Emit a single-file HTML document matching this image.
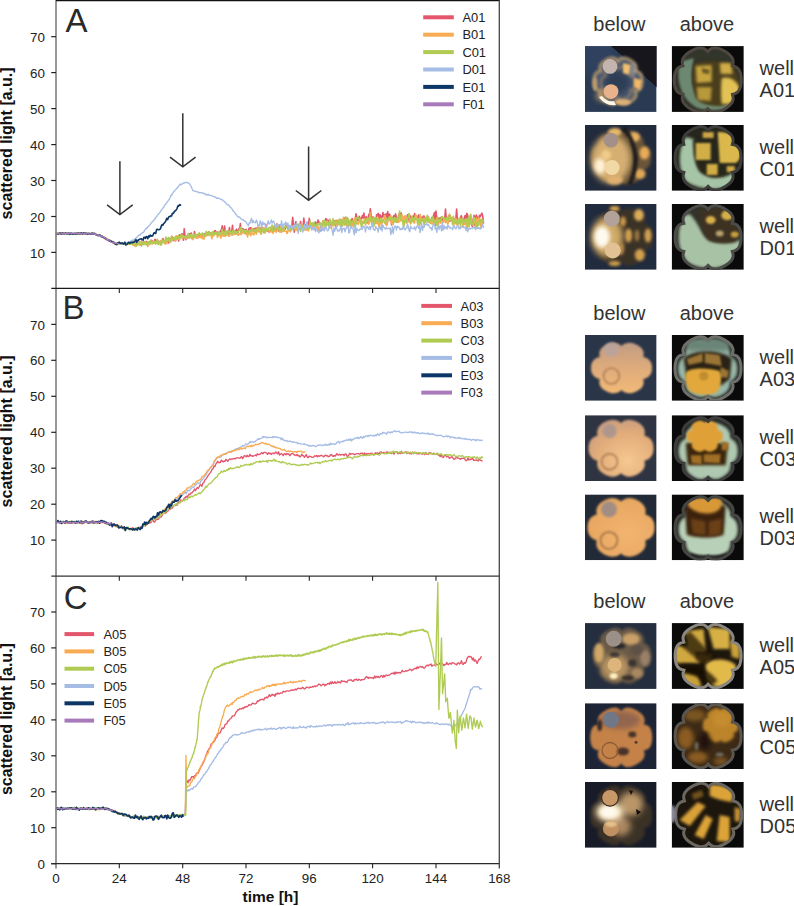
<!DOCTYPE html>
<html><head><meta charset="utf-8">
<style>
html,body{margin:0;padding:0;background:#fff;}
body{width:794px;height:906px;overflow:hidden;}
svg{display:block;}
text{font-family:"Liberation Sans",sans-serif;fill:#222;}
.tk{font-size:13.4px;}
.lg{font-size:12.9px;}
.pl{font-size:33px;fill:#2a2a2a;}
.yl{font-size:16px;font-weight:bold;fill:#111;}
.xl{font-size:15.5px;font-weight:bold;fill:#111;}
.hd{font-size:20px;fill:#333;}
</style></head><body>
<svg width="794" height="906" viewBox="0 0 794 906">
<rect width="794" height="906" fill="#fff"/>
<polyline fill="none" stroke="#e4566b" stroke-width="1.6" stroke-linejoin="round" points="56.0,233.6 56.8,233.4 57.6,233.6 58.4,233.7 59.2,233.8 60.0,233.6 60.7,233.2 61.5,233.4 62.3,233.3 63.1,233.5 63.9,233.4 64.7,233.5 65.5,234.0 66.3,233.3 67.1,233.4 67.9,233.4 68.7,234.0 69.5,234.1 70.2,233.8 71.0,233.7 71.8,233.5 72.6,233.6 73.4,233.4 74.2,233.7 75.0,233.5 75.8,233.4 76.6,233.8 77.4,233.1 78.2,233.4 79.0,233.2 79.7,233.7 80.5,233.8 81.3,233.7 82.1,233.6 82.9,233.4 83.7,233.5 84.5,233.7 85.3,233.8 86.1,233.7 86.9,233.2 87.7,233.8 88.5,233.5 89.2,233.4 90.0,234.0 90.8,233.5 91.6,233.2 92.4,234.1 93.2,233.7 94.0,233.9 94.8,234.3 95.6,234.2 96.4,234.6 97.2,235.2 98.0,234.8 98.7,235.1 99.5,235.2 100.3,235.3 101.1,235.9 101.9,236.4 102.7,237.3 103.5,237.2 104.3,237.9 105.1,238.3 105.9,239.0 106.7,239.3 107.5,239.6 108.2,239.6 109.0,240.9 109.8,241.2 110.6,241.1 111.4,241.1 112.2,241.7 113.0,242.8 113.8,243.4 114.6,243.0 115.4,243.7 116.2,243.8 117.0,243.2 117.7,243.2 118.5,243.5 119.3,243.5 120.1,243.5 120.9,243.2 121.7,243.5 122.5,243.6 123.3,243.6 124.1,244.2 124.9,243.4 125.7,243.5 126.5,243.6 127.2,244.3 128.0,243.9 128.8,243.4 129.6,244.2 130.4,243.7 131.2,243.3 132.0,243.9 132.8,241.6 133.6,242.8 134.4,243.7 135.2,243.1 136.0,242.6 136.7,244.1 137.5,243.8 138.3,244.3 139.1,241.9 139.9,244.8 140.7,243.2 141.5,241.1 142.3,244.2 143.1,243.8 143.9,241.9 144.7,242.2 145.5,242.4 146.2,241.5 147.0,242.1 147.8,242.6 148.6,242.1 149.4,241.7 150.2,241.4 151.0,240.3 151.8,240.3 152.6,242.6 153.4,241.9 154.2,242.1 155.0,239.3 155.7,240.2 156.5,242.2 157.3,240.0 158.1,241.3 158.9,241.9 159.7,242.5 160.5,241.1 161.3,243.0 162.1,240.7 162.9,238.5 163.7,239.9 164.5,243.1 165.2,241.7 166.0,240.4 166.8,240.2 167.6,238.8 168.4,242.9 169.2,238.4 170.0,240.0 170.8,238.3 171.6,238.3 172.4,236.8 173.2,240.7 173.9,238.1 174.7,239.9 175.5,240.7 176.3,238.7 177.1,237.5 177.9,236.2 178.7,241.0 179.5,234.8 180.3,237.7 181.1,234.8 181.9,233.9 182.7,234.5 183.4,240.2 184.2,228.7 185.0,236.5 185.8,239.7 186.6,236.7 187.4,235.5 188.2,236.9 189.0,235.7 189.8,233.7 190.6,233.4 191.4,233.1 192.2,238.5 192.9,237.2 193.7,237.4 194.5,231.5 195.3,235.2 196.1,235.0 196.9,237.7 197.7,234.6 198.5,237.0 199.3,235.1 200.1,235.9 200.9,235.2 201.7,236.7 202.4,234.6 203.2,236.6 204.0,233.6 204.8,235.0 205.6,236.0 206.4,231.7 207.2,235.0 208.0,234.1 208.8,231.8 209.6,233.3 210.4,233.1 211.2,233.7 211.9,232.9 212.7,232.7 213.5,234.1 214.3,231.2 215.1,230.5 215.9,231.6 216.7,233.7 217.5,232.6 218.3,234.0 219.1,233.7 219.9,232.0 220.7,230.7 221.4,229.7 222.2,225.8 223.0,234.3 223.8,231.9 224.6,226.1 225.4,232.7 226.2,231.6 227.0,231.9 227.8,233.7 228.6,234.9 229.4,227.6 230.2,232.9 230.9,231.9 231.7,231.9 232.5,225.4 233.3,233.6 234.1,231.5 234.9,232.0 235.7,230.9 236.5,229.2 237.3,231.0 238.1,232.7 238.9,228.6 239.7,228.6 240.4,223.6 241.2,232.6 242.0,231.8 242.8,228.6 243.6,229.1 244.4,230.2 245.2,232.8 246.0,229.3 246.8,231.2 247.6,232.3 248.4,231.3 249.2,228.0 249.9,229.4 250.7,227.5 251.5,228.8 252.3,230.9 253.1,229.1 253.9,229.3 254.7,228.7 255.5,228.0 256.3,230.8 257.1,227.7 257.9,228.5 258.7,231.5 259.4,227.9 260.2,228.1 261.0,228.9 261.8,229.6 262.6,227.2 263.4,231.5 264.2,232.4 265.0,232.3 265.8,224.3 266.6,229.9 267.4,229.9 268.2,231.7 268.9,231.7 269.7,231.6 270.5,229.5 271.3,227.8 272.1,231.4 272.9,228.3 273.7,230.2 274.5,225.6 275.3,226.2 276.1,230.8 276.9,223.9 277.6,228.5 278.4,230.9 279.2,225.1 280.0,224.6 280.8,228.4 281.6,229.5 282.4,230.1 283.2,227.9 284.0,227.6 284.8,229.5 285.6,227.8 286.4,224.1 287.1,226.8 287.9,227.5 288.7,228.6 289.5,230.5 290.3,229.7 291.1,226.7 291.9,225.3 292.7,217.3 293.5,224.6 294.3,232.2 295.1,225.5 295.9,221.6 296.6,225.0 297.4,224.5 298.2,225.5 299.0,229.0 299.8,225.9 300.6,221.5 301.4,228.8 302.2,226.1 303.0,227.3 303.8,218.0 304.6,225.4 305.4,226.9 306.1,224.3 306.9,226.9 307.7,222.6 308.5,225.6 309.3,218.4 310.1,224.7 310.9,223.7 311.7,226.0 312.5,224.3 313.3,223.0 314.1,223.7 314.9,228.0 315.6,222.1 316.4,225.9 317.2,224.6 318.0,220.0 318.8,222.6 319.6,222.4 320.4,224.7 321.2,230.7 322.0,225.1 322.8,221.1 323.6,223.1 324.4,222.4 325.1,222.8 325.9,218.5 326.7,219.6 327.5,220.2 328.3,223.6 329.1,220.1 329.9,225.4 330.7,221.8 331.5,223.5 332.3,222.2 333.1,220.8 333.9,220.7 334.6,222.3 335.4,220.7 336.2,228.3 337.0,220.4 337.8,221.7 338.6,222.2 339.4,222.1 340.2,221.5 341.0,219.7 341.8,226.3 342.6,220.7 343.4,220.8 344.1,217.8 344.9,223.0 345.7,217.8 346.5,220.5 347.3,218.0 348.1,220.8 348.9,223.1 349.7,224.0 350.5,223.1 351.3,222.1 352.1,218.6 352.9,220.6 353.6,224.0 354.4,224.8 355.2,220.4 356.0,213.8 356.8,217.4 357.6,219.9 358.4,220.5 359.2,216.3 360.0,217.8 360.8,219.6 361.6,218.5 362.4,215.5 363.1,218.0 363.9,213.1 364.7,219.6 365.5,217.9 366.3,216.7 367.1,220.6 367.9,223.0 368.7,214.2 369.5,217.4 370.3,208.9 371.1,214.9 371.9,222.6 372.6,217.1 373.4,220.2 374.2,219.1 375.0,219.8 375.8,220.7 376.6,214.8 377.4,214.6 378.2,213.4 379.0,221.9 379.8,214.8 380.6,215.8 381.4,217.7 382.1,217.6 382.9,212.5 383.7,216.4 384.5,214.7 385.3,218.5 386.1,213.8 386.9,219.2 387.7,211.6 388.5,218.8 389.3,214.1 390.1,215.0 390.8,218.2 391.6,225.0 392.4,217.3 393.2,218.3 394.0,215.5 394.8,216.4 395.6,213.9 396.4,217.8 397.2,222.0 398.0,219.7 398.8,214.8 399.6,213.6 400.3,217.4 401.1,212.8 401.9,219.1 402.7,217.3 403.5,217.8 404.3,220.3 405.1,217.8 405.9,220.5 406.7,222.4 407.5,214.7 408.3,214.9 409.1,221.5 409.8,215.3 410.6,218.4 411.4,216.9 412.2,219.7 413.0,216.1 413.8,217.9 414.6,213.6 415.4,216.0 416.2,216.6 417.0,217.8 417.8,217.3 418.6,215.0 419.3,219.1 420.1,216.5 420.9,220.7 421.7,217.3 422.5,219.0 423.3,216.3 424.1,216.0 424.9,221.7 425.7,218.0 426.5,219.3 427.3,220.1 428.1,216.7 428.8,221.8 429.6,220.8 430.4,219.8 431.2,220.4 432.0,217.4 432.8,219.9 433.6,215.4 434.4,212.6 435.2,225.5 436.0,211.1 436.8,220.4 437.6,217.5 438.3,221.1 439.1,218.4 439.9,218.3 440.7,217.7 441.5,219.4 442.3,220.3 443.1,218.8 443.9,217.7 444.7,219.4 445.5,209.0 446.3,219.3 447.1,219.8 447.8,218.8 448.6,215.9 449.4,221.1 450.2,218.6 451.0,220.9 451.8,218.2 452.6,220.6 453.4,219.6 454.2,219.4 455.0,218.5 455.8,219.7 456.6,209.0 457.3,218.0 458.1,220.9 458.9,220.9 459.7,222.8 460.5,217.6 461.3,215.7 462.1,218.8 462.9,219.0 463.7,224.1 464.5,217.0 465.3,215.5 466.1,220.3 466.8,213.3 467.6,214.7 468.4,222.8 469.2,218.2 470.0,220.1 470.8,220.2 471.6,224.6 472.4,226.5 473.2,219.4 474.0,215.3 474.8,225.8 475.6,216.7 476.3,215.0 477.1,217.9 477.9,217.4 478.7,220.2 479.5,215.2 480.3,216.6 481.1,214.6 481.9,213.1 482.7,215.9 483.5,223.6"/>
<polyline fill="none" stroke="#f8ab52" stroke-width="1.6" stroke-linejoin="round" points="56.0,233.1 56.8,234.1 57.6,233.8 58.4,232.8 59.2,233.0 60.0,233.8 60.7,233.8 61.5,233.5 62.3,233.8 63.1,233.2 63.9,233.6 64.7,233.9 65.5,233.2 66.3,233.7 67.1,233.5 67.9,233.6 68.7,233.7 69.5,233.5 70.2,233.8 71.0,234.1 71.8,234.2 72.6,233.9 73.4,233.8 74.2,233.6 75.0,233.5 75.8,233.4 76.6,233.5 77.4,233.8 78.2,233.8 79.0,234.2 79.7,233.6 80.5,233.4 81.3,233.4 82.1,233.6 82.9,233.6 83.7,233.3 84.5,233.6 85.3,233.3 86.1,233.4 86.9,233.5 87.7,233.2 88.5,233.7 89.2,233.7 90.0,233.8 90.8,233.8 91.6,233.1 92.4,233.1 93.2,233.6 94.0,233.7 94.8,233.8 95.6,234.1 96.4,234.2 97.2,235.2 98.0,235.2 98.7,235.1 99.5,235.1 100.3,235.7 101.1,236.3 101.9,236.6 102.7,237.1 103.5,237.6 104.3,237.3 105.1,238.4 105.9,238.6 106.7,238.4 107.5,239.2 108.2,239.8 109.0,240.5 109.8,240.6 110.6,240.7 111.4,241.3 112.2,241.5 113.0,242.3 113.8,242.5 114.6,243.1 115.4,243.3 116.2,243.1 117.0,243.9 117.7,243.6 118.5,243.5 119.3,243.8 120.1,243.7 120.9,243.4 121.7,243.1 122.5,243.5 123.3,243.7 124.1,244.2 124.9,243.3 125.7,243.8 126.5,243.9 127.2,244.2 128.0,243.9 128.8,244.3 129.6,244.0 130.4,243.9 131.2,244.0 132.0,244.0 132.8,245.1 133.6,242.4 134.4,244.9 135.2,246.4 136.0,244.3 136.7,245.0 137.5,245.3 138.3,244.4 139.1,243.5 139.9,245.3 140.7,244.0 141.5,241.9 142.3,242.8 143.1,243.8 143.9,243.4 144.7,243.7 145.5,243.5 146.2,242.5 147.0,243.5 147.8,246.5 148.6,243.3 149.4,244.4 150.2,242.3 151.0,243.9 151.8,241.5 152.6,244.0 153.4,241.4 154.2,243.1 155.0,241.9 155.7,243.9 156.5,243.0 157.3,241.8 158.1,242.0 158.9,243.0 159.7,241.3 160.5,243.0 161.3,240.3 162.1,241.7 162.9,242.1 163.7,242.4 164.5,240.7 165.2,244.0 166.0,239.3 166.8,243.6 167.6,240.9 168.4,240.2 169.2,239.9 170.0,242.4 170.8,240.5 171.6,239.5 172.4,239.7 173.2,238.6 173.9,239.7 174.7,238.3 175.5,241.0 176.3,235.7 177.1,239.3 177.9,239.1 178.7,238.4 179.5,239.8 180.3,237.7 181.1,235.2 181.9,238.0 182.7,237.9 183.4,237.7 184.2,237.8 185.0,237.4 185.8,238.6 186.6,236.9 187.4,238.5 188.2,236.9 189.0,234.9 189.8,237.6 190.6,237.6 191.4,236.6 192.2,239.2 192.9,239.6 193.7,234.8 194.5,235.7 195.3,236.5 196.1,238.2 196.9,236.5 197.7,238.4 198.5,235.9 199.3,237.2 200.1,237.4 200.9,234.8 201.7,238.1 202.4,238.6 203.2,234.8 204.0,239.2 204.8,234.9 205.6,236.5 206.4,233.1 207.2,234.8 208.0,234.4 208.8,234.6 209.6,234.0 210.4,235.3 211.2,235.9 211.9,238.7 212.7,231.7 213.5,235.9 214.3,234.4 215.1,234.3 215.9,233.0 216.7,234.0 217.5,237.2 218.3,235.5 219.1,234.3 219.9,234.6 220.7,238.2 221.4,234.3 222.2,236.1 223.0,232.0 223.8,236.2 224.6,235.2 225.4,236.3 226.2,234.5 227.0,234.5 227.8,234.4 228.6,236.3 229.4,236.2 230.2,233.0 230.9,232.6 231.7,234.1 232.5,235.1 233.3,232.1 234.1,234.4 234.9,233.6 235.7,234.1 236.5,233.3 237.3,233.6 238.1,235.3 238.9,235.0 239.7,233.3 240.4,233.7 241.2,234.6 242.0,231.1 242.8,232.9 243.6,233.0 244.4,232.5 245.2,233.2 246.0,234.2 246.8,232.7 247.6,237.0 248.4,231.7 249.2,234.1 249.9,231.7 250.7,235.7 251.5,233.4 252.3,232.6 253.1,234.4 253.9,234.8 254.7,232.6 255.5,229.4 256.3,234.2 257.1,228.7 257.9,231.7 258.7,226.4 259.4,231.9 260.2,230.0 261.0,234.0 261.8,230.1 262.6,227.7 263.4,232.9 264.2,228.2 265.0,233.0 265.8,227.1 266.6,231.2 267.4,230.8 268.2,229.8 268.9,230.4 269.7,232.5 270.5,230.2 271.3,231.7 272.1,229.8 272.9,233.4 273.7,229.5 274.5,231.4 275.3,230.2 276.1,232.3 276.9,230.1 277.6,228.4 278.4,227.6 279.2,228.9 280.0,232.3 280.8,226.0 281.6,232.2 282.4,228.9 283.2,231.0 284.0,227.7 284.8,231.3 285.6,231.5 286.4,231.2 287.1,233.6 287.9,231.5 288.7,229.1 289.5,229.4 290.3,231.8 291.1,230.3 291.9,226.7 292.7,228.0 293.5,226.2 294.3,227.5 295.1,230.0 295.9,230.0 296.6,228.2 297.4,230.4 298.2,231.3 299.0,228.9 299.8,225.0 300.6,224.3 301.4,226.8 302.2,225.0 303.0,227.0 303.8,230.1 304.6,229.6 305.4,229.8 306.1,229.4 306.9,230.1 307.7,229.2 308.5,230.9 309.3,226.0 310.1,223.0 310.9,225.9 311.7,229.7 312.5,223.5 313.3,226.7 314.1,224.6 314.9,229.5 315.6,225.0 316.4,226.9 317.2,226.5 318.0,230.9 318.8,226.9 319.6,230.7 320.4,229.0 321.2,226.8 322.0,225.2 322.8,222.5 323.6,225.3 324.4,224.6 325.1,225.7 325.9,221.6 326.7,224.9 327.5,225.0 328.3,224.5 329.1,222.7 329.9,228.2 330.7,225.6 331.5,227.5 332.3,220.9 333.1,225.6 333.9,224.2 334.6,225.5 335.4,222.0 336.2,220.2 337.0,226.5 337.8,221.9 338.6,221.5 339.4,220.6 340.2,225.8 341.0,225.9 341.8,219.7 342.6,225.3 343.4,217.4 344.1,221.1 344.9,225.3 345.7,220.5 346.5,225.2 347.3,224.7 348.1,226.1 348.9,220.5 349.7,221.3 350.5,225.0 351.3,227.0 352.1,225.4 352.9,220.5 353.6,226.9 354.4,223.5 355.2,217.7 356.0,220.6 356.8,223.8 357.6,222.0 358.4,224.1 359.2,222.0 360.0,218.8 360.8,221.7 361.6,220.3 362.4,223.3 363.1,221.8 363.9,221.7 364.7,218.5 365.5,224.9 366.3,222.3 367.1,221.2 367.9,220.2 368.7,224.2 369.5,222.7 370.3,212.7 371.1,219.0 371.9,224.7 372.6,224.9 373.4,223.0 374.2,218.6 375.0,219.2 375.8,223.5 376.6,220.6 377.4,223.8 378.2,218.1 379.0,227.2 379.8,220.4 380.6,219.2 381.4,225.9 382.1,222.6 382.9,219.8 383.7,221.1 384.5,215.6 385.3,215.8 386.1,224.7 386.9,225.7 387.7,222.0 388.5,219.9 389.3,220.3 390.1,219.7 390.8,215.7 391.6,223.8 392.4,219.5 393.2,224.6 394.0,219.1 394.8,220.0 395.6,221.5 396.4,222.5 397.2,218.6 398.0,219.1 398.8,222.2 399.6,220.3 400.3,220.7 401.1,220.9 401.9,214.5 402.7,219.2 403.5,216.8 404.3,224.8 405.1,215.5 405.9,217.0 406.7,222.9 407.5,219.9 408.3,221.6 409.1,221.7 409.8,221.4 410.6,223.9 411.4,220.9 412.2,217.9 413.0,219.3 413.8,222.7 414.6,223.0 415.4,215.3 416.2,215.3 417.0,218.6 417.8,222.8 418.6,220.3 419.3,226.1 420.1,214.4 420.9,218.9 421.7,219.4 422.5,221.0 423.3,219.4 424.1,217.9 424.9,219.5 425.7,219.6 426.5,218.1 427.3,222.0 428.1,221.4 428.8,221.2 429.6,222.5 430.4,223.2 431.2,222.7 432.0,224.0 432.8,223.5 433.6,220.5 434.4,219.8 435.2,220.9 436.0,221.7 436.8,217.8 437.6,221.4 438.3,226.2 439.1,220.0 439.9,219.6 440.7,223.1 441.5,221.1 442.3,221.1 443.1,222.3 443.9,221.1 444.7,219.4 445.5,222.8 446.3,221.0 447.1,222.0 447.8,224.3 448.6,221.0 449.4,214.1 450.2,220.3 451.0,219.6 451.8,220.0 452.6,217.8 453.4,216.3 454.2,224.2 455.0,222.8 455.8,218.4 456.6,224.5 457.3,224.6 458.1,221.3 458.9,222.7 459.7,220.7 460.5,219.4 461.3,218.7 462.1,218.6 462.9,227.2 463.7,219.8 464.5,224.4 465.3,221.2 466.1,224.1 466.8,228.7 467.6,218.7 468.4,219.7 469.2,226.6 470.0,215.7 470.8,223.5 471.6,223.6 472.4,223.8 473.2,224.2 474.0,220.6 474.8,220.9 475.6,228.2 476.3,217.8 477.1,225.8 477.9,222.5 478.7,218.0 479.5,218.8 480.3,223.9 481.1,228.2 481.9,219.5 482.7,223.0 483.5,223.3"/>
<polyline fill="none" stroke="#afcb52" stroke-width="1.7" stroke-linejoin="round" points="56.0,233.8 56.8,233.6 57.6,233.9 58.4,233.5 59.2,233.5 60.0,233.4 60.7,233.4 61.5,233.4 62.3,233.8 63.1,233.4 63.9,233.6 64.7,233.4 65.5,234.1 66.3,233.7 67.1,233.8 67.9,233.8 68.7,233.7 69.5,233.7 70.2,233.6 71.0,233.9 71.8,233.9 72.6,233.7 73.4,233.8 74.2,233.5 75.0,233.6 75.8,233.4 76.6,233.8 77.4,233.6 78.2,233.6 79.0,233.6 79.7,233.9 80.5,233.1 81.3,233.5 82.1,233.2 82.9,233.8 83.7,233.5 84.5,233.3 85.3,233.6 86.1,233.5 86.9,233.7 87.7,233.0 88.5,233.3 89.2,233.7 90.0,233.5 90.8,233.8 91.6,233.4 92.4,233.6 93.2,233.8 94.0,233.8 94.8,233.4 95.6,234.4 96.4,234.7 97.2,234.9 98.0,234.8 98.7,235.5 99.5,235.9 100.3,235.4 101.1,236.5 101.9,236.9 102.7,237.0 103.5,237.4 104.3,238.3 105.1,238.7 105.9,238.6 106.7,239.2 107.5,240.1 108.2,239.5 109.0,239.9 109.8,240.2 110.6,241.1 111.4,241.8 112.2,242.1 113.0,241.9 113.8,242.8 114.6,243.5 115.4,243.2 116.2,243.2 117.0,243.8 117.7,243.8 118.5,243.4 119.3,244.0 120.1,243.5 120.9,243.7 121.7,243.4 122.5,244.0 123.3,243.9 124.1,244.0 124.9,243.4 125.7,243.6 126.5,244.1 127.2,244.0 128.0,243.7 128.8,243.9 129.6,243.7 130.4,244.1 131.2,244.0 132.0,243.3 132.8,242.4 133.6,244.9 134.4,241.7 135.2,242.2 136.0,246.4 136.7,243.3 137.5,242.4 138.3,243.4 139.1,243.6 139.9,241.9 140.7,242.9 141.5,246.1 142.3,243.2 143.1,242.9 143.9,244.7 144.7,241.5 145.5,243.0 146.2,244.9 147.0,243.1 147.8,243.7 148.6,241.9 149.4,243.7 150.2,243.3 151.0,240.6 151.8,243.1 152.6,243.0 153.4,242.4 154.2,243.2 155.0,241.2 155.7,243.8 156.5,242.7 157.3,239.4 158.1,244.4 158.9,243.3 159.7,241.7 160.5,245.0 161.3,244.9 162.1,242.5 162.9,239.9 163.7,240.8 164.5,241.8 165.2,242.4 166.0,237.0 166.8,239.6 167.6,241.7 168.4,237.7 169.2,237.9 170.0,240.6 170.8,242.0 171.6,236.2 172.4,239.3 173.2,239.7 173.9,238.3 174.7,239.0 175.5,236.6 176.3,239.1 177.1,238.0 177.9,236.9 178.7,235.7 179.5,238.5 180.3,238.1 181.1,234.9 181.9,237.0 182.7,235.3 183.4,236.4 184.2,236.4 185.0,237.9 185.8,236.6 186.6,236.6 187.4,237.4 188.2,233.5 189.0,238.2 189.8,237.4 190.6,235.5 191.4,234.2 192.2,237.1 192.9,236.2 193.7,236.9 194.5,237.3 195.3,233.5 196.1,235.6 196.9,236.1 197.7,234.9 198.5,233.8 199.3,232.9 200.1,234.6 200.9,234.6 201.7,234.0 202.4,233.1 203.2,233.8 204.0,236.8 204.8,234.5 205.6,235.2 206.4,231.7 207.2,234.2 208.0,235.5 208.8,231.9 209.6,234.8 210.4,233.3 211.2,234.1 211.9,233.2 212.7,232.0 213.5,235.1 214.3,234.8 215.1,232.2 215.9,234.1 216.7,233.2 217.5,231.8 218.3,235.0 219.1,231.6 219.9,233.9 220.7,234.3 221.4,234.2 222.2,229.3 223.0,232.1 223.8,232.2 224.6,234.3 225.4,230.4 226.2,234.9 227.0,233.7 227.8,230.6 228.6,230.8 229.4,233.3 230.2,231.4 230.9,233.1 231.7,234.9 232.5,230.7 233.3,232.2 234.1,230.9 234.9,230.9 235.7,233.9 236.5,231.9 237.3,233.6 238.1,231.4 238.9,230.6 239.7,230.2 240.4,227.4 241.2,232.6 242.0,229.6 242.8,230.1 243.6,230.3 244.4,233.3 245.2,230.5 246.0,230.8 246.8,231.3 247.6,230.8 248.4,233.2 249.2,231.5 249.9,230.2 250.7,231.7 251.5,229.9 252.3,228.5 253.1,230.6 253.9,231.8 254.7,230.2 255.5,231.3 256.3,231.9 257.1,231.5 257.9,227.2 258.7,229.4 259.4,229.3 260.2,228.9 261.0,233.8 261.8,229.6 262.6,228.9 263.4,230.8 264.2,232.3 265.0,228.9 265.8,230.6 266.6,227.8 267.4,230.8 268.2,229.7 268.9,227.7 269.7,227.6 270.5,227.4 271.3,230.0 272.1,225.1 272.9,231.2 273.7,230.5 274.5,229.3 275.3,226.4 276.1,228.2 276.9,225.0 277.6,227.2 278.4,227.2 279.2,230.5 280.0,229.3 280.8,228.4 281.6,230.8 282.4,230.1 283.2,230.8 284.0,229.2 284.8,226.3 285.6,227.1 286.4,227.5 287.1,227.0 287.9,229.6 288.7,228.5 289.5,228.8 290.3,229.7 291.1,228.5 291.9,229.5 292.7,227.6 293.5,225.7 294.3,226.6 295.1,227.2 295.9,226.1 296.6,227.6 297.4,228.9 298.2,231.1 299.0,224.1 299.8,226.1 300.6,231.4 301.4,225.9 302.2,227.6 303.0,226.6 303.8,225.9 304.6,227.8 305.4,229.4 306.1,227.7 306.9,224.3 307.7,228.0 308.5,229.0 309.3,225.9 310.1,221.3 310.9,227.7 311.7,223.0 312.5,225.1 313.3,224.4 314.1,222.2 314.9,227.3 315.6,225.4 316.4,225.8 317.2,223.7 318.0,224.7 318.8,224.3 319.6,222.9 320.4,225.3 321.2,224.2 322.0,225.9 322.8,221.3 323.6,222.5 324.4,220.2 325.1,227.7 325.9,225.8 326.7,224.2 327.5,221.4 328.3,224.8 329.1,225.9 329.9,219.1 330.7,223.7 331.5,223.3 332.3,225.5 333.1,218.8 333.9,222.1 334.6,223.9 335.4,223.7 336.2,223.1 337.0,221.8 337.8,222.5 338.6,224.5 339.4,219.2 340.2,224.8 341.0,219.3 341.8,220.5 342.6,225.7 343.4,219.8 344.1,221.3 344.9,224.0 345.7,216.9 346.5,218.7 347.3,227.2 348.1,219.2 348.9,223.3 349.7,225.6 350.5,219.9 351.3,224.7 352.1,222.3 352.9,221.2 353.6,222.3 354.4,223.9 355.2,227.2 356.0,221.7 356.8,218.1 357.6,217.9 358.4,217.1 359.2,219.9 360.0,220.3 360.8,222.9 361.6,227.6 362.4,222.8 363.1,222.9 363.9,223.3 364.7,220.7 365.5,219.7 366.3,222.3 367.1,218.4 367.9,219.8 368.7,218.2 369.5,217.6 370.3,217.1 371.1,221.2 371.9,222.0 372.6,220.0 373.4,216.9 374.2,226.0 375.0,217.9 375.8,221.3 376.6,218.1 377.4,218.8 378.2,220.8 379.0,222.0 379.8,220.7 380.6,218.3 381.4,222.8 382.1,219.5 382.9,221.2 383.7,221.3 384.5,222.6 385.3,223.9 386.1,218.2 386.9,218.7 387.7,220.5 388.5,220.0 389.3,216.9 390.1,219.2 390.8,218.5 391.6,219.8 392.4,217.7 393.2,220.3 394.0,222.3 394.8,217.7 395.6,217.9 396.4,222.0 397.2,219.0 398.0,219.0 398.8,218.6 399.6,211.2 400.3,219.0 401.1,219.6 401.9,220.7 402.7,221.1 403.5,227.0 404.3,220.8 405.1,220.1 405.9,222.5 406.7,219.4 407.5,218.4 408.3,216.5 409.1,213.6 409.8,219.4 410.6,222.0 411.4,222.7 412.2,216.1 413.0,221.3 413.8,219.8 414.6,217.7 415.4,219.3 416.2,219.3 417.0,219.0 417.8,224.9 418.6,220.3 419.3,218.2 420.1,223.2 420.9,223.8 421.7,218.4 422.5,220.6 423.3,218.8 424.1,224.8 424.9,220.0 425.7,222.3 426.5,217.9 427.3,215.3 428.1,221.0 428.8,217.6 429.6,222.4 430.4,220.8 431.2,219.0 432.0,221.7 432.8,216.6 433.6,219.1 434.4,223.5 435.2,223.6 436.0,221.7 436.8,225.7 437.6,217.1 438.3,221.1 439.1,221.7 439.9,220.1 440.7,221.2 441.5,216.8 442.3,216.6 443.1,218.2 443.9,218.7 444.7,217.8 445.5,219.1 446.3,220.5 447.1,217.5 447.8,219.7 448.6,218.8 449.4,216.4 450.2,215.3 451.0,220.4 451.8,217.6 452.6,224.3 453.4,222.5 454.2,219.6 455.0,222.3 455.8,223.4 456.6,222.8 457.3,219.5 458.1,224.4 458.9,219.2 459.7,218.1 460.5,226.0 461.3,219.6 462.1,218.9 462.9,224.1 463.7,219.7 464.5,221.9 465.3,219.5 466.1,218.9 466.8,219.8 467.6,228.0 468.4,219.3 469.2,216.5 470.0,224.0 470.8,214.3 471.6,222.2 472.4,224.8 473.2,224.6 474.0,217.4 474.8,219.7 475.6,223.0 476.3,222.7 477.1,227.3 477.9,224.2 478.7,225.2 479.5,220.9 480.3,222.2 481.1,219.1 481.9,221.0 482.7,221.9 483.5,220.0"/>
<polyline fill="none" stroke="#a5bce4" stroke-width="1.35" stroke-linejoin="round" points="56.0,233.1 56.8,233.7 57.6,233.5 58.4,233.7 59.2,233.9 60.0,233.9 60.7,233.7 61.5,234.0 62.3,233.6 63.1,233.7 63.9,233.5 64.7,233.2 65.5,232.9 66.3,233.7 67.1,233.6 67.9,233.4 68.7,233.8 69.5,233.2 70.2,233.3 71.0,233.6 71.8,233.1 72.6,233.8 73.4,233.6 74.2,233.7 75.0,233.6 75.8,234.0 76.6,233.6 77.4,233.2 78.2,233.4 79.0,233.2 79.7,233.4 80.5,233.3 81.3,233.9 82.1,233.7 82.9,234.2 83.7,232.7 84.5,232.8 85.3,233.6 86.1,233.7 86.9,233.4 87.7,233.9 88.5,233.1 89.2,232.8 90.0,234.1 90.8,233.8 91.6,233.2 92.4,233.1 93.2,233.4 94.0,233.8 94.8,234.2 95.6,234.3 96.4,234.8 97.2,234.9 98.0,235.2 98.7,234.7 99.5,236.2 100.3,235.4 101.1,236.6 101.9,237.0 102.7,237.6 103.5,237.6 104.3,237.6 105.1,238.4 105.9,238.6 106.7,239.4 107.5,239.4 108.2,240.5 109.0,240.3 109.8,240.9 110.6,241.5 111.4,241.1 112.2,241.4 113.0,242.5 113.8,242.2 114.6,242.9 115.4,243.1 116.2,243.2 117.0,243.5 117.7,243.7 118.5,243.1 119.3,243.8 120.1,243.6 120.9,243.4 121.7,244.3 122.5,243.5 123.3,243.9 124.1,243.9 124.9,243.2 125.7,243.1 126.5,242.9 127.2,242.9 128.0,242.8 128.8,242.4 129.6,242.2 130.4,242.0 131.2,240.7 132.0,240.1 132.8,240.8 133.6,239.9 134.4,238.9 135.2,239.6 136.0,237.8 136.7,237.4 137.5,236.6 138.3,235.8 139.1,235.0 139.9,235.3 140.7,234.0 141.5,233.5 142.3,232.7 143.1,232.6 143.9,231.6 144.7,230.2 145.5,229.2 146.2,228.2 147.0,228.5 147.8,226.7 148.6,226.4 149.4,225.4 150.2,224.5 151.0,223.2 151.8,222.2 152.6,221.9 153.4,220.5 154.2,219.7 155.0,218.9 155.7,217.3 156.5,216.9 157.3,215.7 158.1,214.5 158.9,213.4 159.7,212.7 160.5,211.6 161.3,210.0 162.1,209.2 162.9,208.1 163.7,207.1 164.5,205.7 165.2,204.5 166.0,203.9 166.8,202.5 167.6,201.8 168.4,200.3 169.2,199.4 170.0,198.0 170.8,195.4 171.6,195.6 172.4,193.6 173.2,192.6 173.9,191.4 174.7,191.0 175.5,189.3 176.3,189.1 177.1,188.0 177.9,187.2 178.7,186.3 179.5,184.7 180.3,184.1 181.1,184.9 181.9,184.0 182.7,183.7 183.4,182.9 184.2,183.1 185.0,182.6 185.8,182.2 186.6,182.7 187.4,182.4 188.2,183.1 189.0,183.2 189.8,184.6 190.6,185.6 191.4,187.0 192.2,189.0 192.9,190.6 193.7,190.9 194.5,191.2 195.3,191.1 196.1,191.6 196.9,191.8 197.7,191.7 198.5,192.4 199.3,192.8 200.1,192.4 200.9,192.8 201.7,192.7 202.4,192.9 203.2,193.3 204.0,193.8 204.8,193.3 205.6,194.9 206.4,194.6 207.2,195.0 208.0,194.1 208.8,195.2 209.6,195.4 210.4,195.3 211.2,195.3 211.9,195.7 212.7,196.3 213.5,196.4 214.3,197.1 215.1,196.9 215.9,197.4 216.7,198.4 217.5,197.9 218.3,198.4 219.1,198.4 219.9,198.8 220.7,199.3 221.4,199.7 222.2,199.4 223.0,200.6 223.8,201.0 224.6,201.9 225.4,202.4 226.2,203.2 227.0,204.6 227.8,204.8 228.6,205.1 229.4,205.9 230.2,207.2 230.9,207.5 231.7,208.7 232.5,209.7 233.3,211.1 234.1,211.7 234.9,212.6 235.7,214.4 236.5,214.8 237.3,216.1 238.1,217.1 238.9,216.9 239.7,217.2 240.4,218.1 241.2,219.2 242.0,219.6 242.8,219.4 243.6,220.3 244.4,220.7 245.2,221.4 246.0,221.8 246.8,223.8 247.6,224.3 248.4,225.9 249.2,223.0 249.9,223.2 250.7,220.8 251.5,218.3 252.3,222.8 253.1,220.5 253.9,222.3 254.7,222.4 255.5,222.8 256.3,220.2 257.1,221.5 257.9,226.0 258.7,225.1 259.4,225.5 260.2,220.7 261.0,223.5 261.8,227.6 262.6,221.6 263.4,224.3 264.2,223.0 265.0,224.5 265.8,226.2 266.6,227.3 267.4,223.8 268.2,220.7 268.9,223.9 269.7,223.9 270.5,222.3 271.3,219.9 272.1,223.0 272.9,221.5 273.7,221.0 274.5,224.1 275.3,227.9 276.1,224.8 276.9,226.7 277.6,224.5 278.4,225.1 279.2,225.8 280.0,224.6 280.8,225.7 281.6,220.7 282.4,227.8 283.2,225.3 284.0,223.7 284.8,224.4 285.6,222.0 286.4,224.1 287.1,225.7 287.9,222.9 288.7,229.2 289.5,225.2 290.3,227.6 291.1,225.2 291.9,227.1 292.7,229.1 293.5,225.6 294.3,225.0 295.1,228.0 295.9,225.0 296.6,222.9 297.4,225.9 298.2,233.4 299.0,225.1 299.8,224.4 300.6,227.7 301.4,228.3 302.2,228.5 303.0,232.0 303.8,227.4 304.6,224.0 305.4,229.5 306.1,228.1 306.9,221.6 307.7,227.4 308.5,226.5 309.3,226.7 310.1,227.1 310.9,225.7 311.7,229.8 312.5,228.8 313.3,227.2 314.1,230.0 314.9,226.5 315.6,231.6 316.4,229.4 317.2,228.6 318.0,231.7 318.8,232.9 319.6,230.9 320.4,231.6 321.2,225.0 322.0,229.9 322.8,230.3 323.6,227.3 324.4,231.0 325.1,227.9 325.9,226.4 326.7,229.2 327.5,230.9 328.3,230.7 329.1,226.2 329.9,226.5 330.7,226.1 331.5,228.3 332.3,231.1 333.1,235.2 333.9,227.7 334.6,231.3 335.4,228.9 336.2,226.2 337.0,229.7 337.8,231.3 338.6,230.0 339.4,230.9 340.2,228.7 341.0,226.2 341.8,232.6 342.6,228.6 343.4,228.9 344.1,228.0 344.9,231.7 345.7,229.5 346.5,227.2 347.3,225.6 348.1,227.0 348.9,233.1 349.7,232.1 350.5,226.3 351.3,228.1 352.1,227.7 352.9,228.2 353.6,231.5 354.4,234.8 355.2,224.5 356.0,232.7 356.8,228.4 357.6,229.8 358.4,230.7 359.2,230.2 360.0,228.8 360.8,229.4 361.6,229.1 362.4,229.0 363.1,226.8 363.9,226.1 364.7,227.0 365.5,232.0 366.3,226.8 367.1,226.3 367.9,227.9 368.7,229.1 369.5,226.4 370.3,229.8 371.1,226.7 371.9,226.4 372.6,223.0 373.4,229.4 374.2,230.0 375.0,230.2 375.8,226.5 376.6,228.3 377.4,228.7 378.2,232.2 379.0,227.2 379.8,226.4 380.6,229.6 381.4,226.7 382.1,231.0 382.9,224.9 383.7,227.2 384.5,227.9 385.3,229.1 386.1,227.6 386.9,228.9 387.7,228.6 388.5,228.2 389.3,228.7 390.1,227.9 390.8,234.5 391.6,231.8 392.4,226.7 393.2,233.5 394.0,228.1 394.8,226.2 395.6,226.1 396.4,230.0 397.2,226.1 398.0,227.2 398.8,226.8 399.6,229.1 400.3,229.8 401.1,228.3 401.9,229.5 402.7,228.8 403.5,225.3 404.3,229.1 405.1,229.9 405.9,228.2 406.7,228.3 407.5,223.9 408.3,226.7 409.1,230.4 409.8,231.8 410.6,226.1 411.4,228.1 412.2,228.2 413.0,228.7 413.8,228.4 414.6,226.8 415.4,230.0 416.2,228.0 417.0,226.1 417.8,226.3 418.6,228.3 419.3,226.4 420.1,232.7 420.9,227.7 421.7,222.8 422.5,230.4 423.3,226.3 424.1,227.2 424.9,224.6 425.7,224.7 426.5,223.5 427.3,225.2 428.1,224.3 428.8,225.3 429.6,227.0 430.4,228.3 431.2,227.6 432.0,230.3 432.8,226.0 433.6,223.8 434.4,223.9 435.2,229.1 436.0,227.6 436.8,232.3 437.6,227.2 438.3,225.4 439.1,229.5 439.9,226.2 440.7,226.0 441.5,230.9 442.3,222.5 443.1,230.2 443.9,225.4 444.7,228.9 445.5,226.9 446.3,227.0 447.1,229.2 447.8,225.2 448.6,225.9 449.4,228.0 450.2,227.3 451.0,228.2 451.8,228.4 452.6,229.7 453.4,225.3 454.2,225.7 455.0,228.2 455.8,228.8 456.6,227.4 457.3,225.7 458.1,225.9 458.9,228.9 459.7,227.3 460.5,228.6 461.3,226.6 462.1,226.5 462.9,226.5 463.7,227.4 464.5,227.9 465.3,227.0 466.1,230.4 466.8,227.7 467.6,231.8 468.4,229.5 469.2,228.0 470.0,229.2 470.8,228.5 471.6,228.0 472.4,228.6 473.2,227.2 474.0,227.9 474.8,227.1 475.6,229.7 476.3,227.6 477.1,228.0 477.9,228.7 478.7,227.4 479.5,228.5 480.3,229.1 481.1,227.5 481.9,226.5 482.7,224.2 483.5,228.1"/>
<polyline fill="none" stroke="#0c3766" stroke-width="1.6" stroke-linejoin="round" points="56.0,233.4 56.8,234.3 57.6,233.6 58.4,234.1 59.2,233.4 60.0,233.1 60.7,233.2 61.5,234.1 62.3,233.1 63.1,233.2 63.9,233.7 64.7,233.4 65.5,233.0 66.3,233.7 67.1,233.6 67.9,233.8 68.7,233.2 69.5,234.3 70.2,233.1 71.0,233.9 71.8,233.2 72.6,234.1 73.4,233.9 74.2,233.8 75.0,233.3 75.8,234.1 76.6,233.4 77.4,233.8 78.2,233.1 79.0,233.7 79.7,233.4 80.5,233.6 81.3,232.9 82.1,233.7 82.9,233.6 83.7,232.9 84.5,233.5 85.3,233.3 86.1,233.8 86.9,233.5 87.7,234.3 88.5,233.5 89.2,233.8 90.0,234.1 90.8,234.1 91.6,233.2 92.4,233.4 93.2,234.2 94.0,233.2 94.8,234.3 95.6,234.5 96.4,234.5 97.2,235.2 98.0,235.6 98.7,235.5 99.5,235.1 100.3,235.4 101.1,236.6 101.9,236.1 102.7,236.9 103.5,237.2 104.3,237.8 105.1,238.1 105.9,239.0 106.7,239.4 107.5,239.7 108.2,240.1 109.0,240.1 109.8,241.2 110.6,240.6 111.4,241.7 112.2,242.1 113.0,242.0 113.8,242.5 114.6,243.3 115.4,244.3 116.2,244.2 117.0,244.7 117.7,242.7 118.5,242.7 119.3,242.2 120.1,243.3 120.9,243.4 121.7,243.1 122.5,243.0 123.3,244.0 124.1,243.5 124.9,242.1 125.7,245.0 126.5,244.6 127.2,244.2 128.0,242.8 128.8,242.3 129.6,243.4 130.4,242.4 131.2,242.8 132.0,242.3 132.8,242.7 133.6,242.1 134.4,241.9 135.2,240.8 136.0,239.7 136.7,242.5 137.5,240.4 138.3,240.5 139.1,239.5 139.9,239.1 140.7,239.0 141.5,238.7 142.3,239.8 143.1,240.1 143.9,237.2 144.7,237.2 145.5,238.5 146.2,236.5 147.0,236.7 147.8,238.7 148.6,235.9 149.4,237.0 150.2,235.0 151.0,236.1 151.8,235.9 152.6,235.9 153.4,234.2 154.2,232.6 155.0,233.3 155.7,233.5 156.5,229.8 157.3,229.3 158.1,229.6 158.9,229.8 159.7,229.4 160.5,228.7 161.3,226.1 162.1,224.5 162.9,225.3 163.7,223.5 164.5,222.8 165.2,221.9 166.0,220.4 166.8,218.4 167.6,219.6 168.4,217.6 169.2,216.6 170.0,216.8 170.8,215.8 171.6,215.9 172.4,213.2 173.2,213.4 173.9,212.5 174.7,211.0 175.5,210.7 176.3,209.8 177.1,208.3 177.9,205.9 178.7,206.2 179.5,204.7 180.3,205.2 181.1,204.6"/>
<polyline fill="none" stroke="#a87abb" stroke-width="1.3" stroke-linejoin="round" points="56.0,232.9 56.8,233.7 57.6,234.1 58.4,233.6 59.2,233.4 60.0,234.2 60.7,233.9 61.5,233.5 62.3,233.9 63.1,233.3 63.9,233.2 64.7,233.4 65.5,233.7 66.3,233.6 67.1,233.8 67.9,233.6 68.7,233.5 69.5,233.7 70.2,233.2 71.0,232.7 71.8,233.8 72.6,233.4 73.4,233.3 74.2,233.3 75.0,233.6 75.8,233.7 76.6,233.2 77.4,233.3 78.2,233.4 79.0,233.8 79.7,233.3 80.5,233.3 81.3,233.6 82.1,233.3 82.9,232.8 83.7,234.2 84.5,233.4 85.3,234.0 86.1,234.0 86.9,233.6 87.7,233.4 88.5,233.5 89.2,234.0 90.0,234.1 90.8,233.8 91.6,233.6 92.4,233.8 93.2,234.2 94.0,233.3 94.8,234.4 95.6,234.4 96.4,234.8 97.2,235.0 98.0,235.0 98.7,235.4 99.5,235.3 100.3,236.2 101.1,236.6 101.9,235.8 102.7,236.9 103.5,237.1 104.3,237.4 105.1,238.0 105.9,238.6 106.7,239.6 107.5,240.1 108.2,239.6 109.0,240.1 109.8,240.5 110.6,241.7 111.4,242.3 112.2,242.3 113.0,242.7 113.8,242.6 114.6,243.2 115.4,243.2 116.2,243.6 117.0,243.6 117.7,243.4 118.5,243.5"/>
<polyline fill="none" stroke="#a5bce4" stroke-width="1.35" stroke-linejoin="round" points="56.0,522.6 56.9,521.7 57.8,521.2 58.8,522.8 59.7,522.3 60.6,522.7 61.5,523.2 62.5,521.8 63.4,521.8 64.3,521.7 65.2,521.9 66.2,523.2 67.1,522.2 68.0,522.5 68.9,522.8 69.9,522.7 70.8,521.8 71.7,522.3 72.6,521.1 73.5,521.9 74.5,523.2 75.4,521.7 76.3,521.5 77.2,522.1 78.2,522.8 79.1,521.2 80.0,522.8 80.9,522.2 81.9,523.2 82.8,522.8 83.7,523.1 84.6,521.6 85.6,521.5 86.5,522.4 87.4,522.9 88.3,522.2 89.2,522.0 90.2,523.0 91.1,522.8 92.0,522.2 92.9,521.8 93.9,522.1 94.8,521.9 95.7,522.8 96.6,523.5 97.6,522.0 98.5,522.6 99.4,522.2 100.3,522.4 101.3,521.9 102.2,522.6 103.1,521.6 104.0,522.5 104.9,522.5 105.9,522.7 106.8,522.7 107.7,523.3 108.6,524.6 109.6,524.3 110.5,523.2 111.4,524.1 112.3,524.3 113.3,524.6 114.2,525.4 115.1,525.7 116.0,526.0 117.0,525.3 117.9,526.0 118.8,525.6 119.7,526.5 120.6,526.1 121.6,527.1 122.5,528.3 123.4,527.0 124.3,528.0 125.3,527.7 126.2,528.4 127.1,528.7 128.0,528.6 129.0,529.4 129.9,529.5 130.8,529.5 131.7,529.4 132.7,530.0 133.6,529.4 134.5,529.0 135.4,527.9 136.3,527.8 137.3,528.6 138.2,527.9 139.1,528.3 140.0,527.8 141.0,527.6 141.9,527.2 142.8,526.2 143.7,526.3 144.7,524.7 145.6,524.4 146.5,524.1 147.4,523.1 148.4,522.0 149.3,521.9 150.2,520.7 151.1,520.0 152.0,518.9 153.0,519.7 153.9,518.5 154.8,517.6 155.7,516.5 156.7,516.6 157.6,515.7 158.5,516.3 159.4,515.2 160.4,513.4 161.3,513.9 162.2,511.8 163.1,512.4 164.1,511.3 165.0,511.2 165.9,509.1 166.8,508.5 167.7,506.7 168.7,506.8 169.6,506.2 170.5,505.9 171.4,504.4 172.4,503.0 173.3,502.2 174.2,501.1 175.1,500.4 176.1,500.0 177.0,498.8 177.9,498.3 178.8,498.4 179.8,496.1 180.7,496.1 181.6,496.2 182.5,494.8 183.4,494.1 184.4,493.1 185.3,492.1 186.2,493.8 187.1,491.2 188.1,490.0 189.0,490.7 189.9,490.5 190.8,488.7 191.8,487.9 192.7,487.2 193.6,487.3 194.5,486.3 195.5,485.3 196.4,484.3 197.3,482.8 198.2,483.2 199.1,483.0 200.1,483.2 201.0,480.7 201.9,480.1 202.8,478.8 203.8,478.0 204.7,475.8 205.6,475.9 206.5,473.6 207.5,472.3 208.4,470.9 209.3,469.0 210.2,468.5 211.2,467.1 212.1,465.3 213.0,465.1 213.9,462.9 214.8,461.2 215.8,459.2 216.7,458.7 217.6,457.1 218.5,456.9 219.5,457.4 220.4,457.0 221.3,456.6 222.2,455.3 223.2,454.8 224.1,454.1 225.0,453.7 225.9,454.0 226.9,452.7 227.8,452.4 228.7,452.1 229.6,451.7 230.5,452.2 231.5,450.9 232.4,451.2 233.3,450.9 234.2,450.0 235.2,449.3 236.1,449.0 237.0,448.7 237.9,448.7 238.9,447.6 239.8,447.8 240.7,447.7 241.6,446.5 242.6,445.4 243.5,446.0 244.4,446.0 245.3,444.3 246.2,443.7 247.2,444.4 248.1,444.0 249.0,443.4 249.9,441.5 250.9,442.6 251.8,441.8 252.7,441.7 253.6,442.5 254.6,441.7 255.5,441.4 256.4,440.1 257.3,439.9 258.3,438.6 259.2,439.4 260.1,438.7 261.0,438.4 261.9,438.0 262.9,436.4 263.8,437.5 264.7,436.8 265.6,436.9 266.6,437.9 267.5,437.1 268.4,437.7 269.3,437.4 270.3,437.4 271.2,437.4 272.1,437.6 273.0,436.5 274.0,437.5 274.9,436.9 275.8,436.6 276.7,437.4 277.6,437.5 278.6,437.5 279.5,437.9 280.4,437.8 281.3,439.8 282.3,438.2 283.2,439.5 284.1,440.7 285.0,440.4 286.0,441.0 286.9,440.5 287.8,441.6 288.7,441.5 289.7,441.0 290.6,441.3 291.5,442.0 292.4,441.9 293.4,442.0 294.3,442.2 295.2,442.4 296.1,442.7 297.0,442.3 298.0,443.8 298.9,443.4 299.8,443.3 300.7,443.8 301.7,444.1 302.6,444.2 303.5,444.1 304.4,443.7 305.4,444.7 306.3,444.9 307.2,444.8 308.1,445.3 309.1,446.4 310.0,445.4 310.9,446.0 311.8,446.2 312.7,445.5 313.7,445.7 314.6,445.9 315.5,446.7 316.4,446.4 317.4,445.3 318.3,445.3 319.2,444.9 320.1,445.0 321.1,445.2 322.0,445.6 322.9,445.4 323.8,444.8 324.8,445.2 325.7,444.1 326.6,445.1 327.5,445.3 328.4,444.3 329.4,445.1 330.3,443.2 331.2,444.5 332.1,443.9 333.1,443.9 334.0,444.0 334.9,444.3 335.8,444.1 336.8,442.4 337.7,442.1 338.6,441.3 339.5,443.1 340.5,441.8 341.4,441.8 342.3,441.2 343.2,441.7 344.1,440.8 345.1,440.5 346.0,440.4 346.9,439.8 347.8,440.4 348.8,439.3 349.7,440.3 350.6,438.8 351.5,441.0 352.5,439.3 353.4,439.5 354.3,438.8 355.2,438.1 356.2,438.0 357.1,438.2 358.0,437.1 358.9,438.6 359.8,438.0 360.8,436.6 361.7,437.1 362.6,438.2 363.5,436.7 364.5,437.4 365.4,435.8 366.3,435.8 367.2,436.5 368.2,435.4 369.1,436.4 370.0,435.2 370.9,435.3 371.9,435.5 372.8,436.0 373.7,435.2 374.6,436.1 375.5,435.0 376.5,435.6 377.4,433.8 378.3,434.8 379.2,435.4 380.2,433.6 381.1,433.5 382.0,433.8 382.9,432.3 383.9,432.8 384.8,433.0 385.7,433.2 386.6,434.3 387.6,432.3 388.5,431.9 389.4,432.6 390.3,432.8 391.2,431.9 392.2,432.6 393.1,431.6 394.0,431.2 394.9,430.8 395.9,431.6 396.8,431.6 397.7,431.4 398.6,431.1 399.6,432.1 400.5,432.6 401.4,432.5 402.3,432.8 403.3,432.6 404.2,432.3 405.1,432.1 406.0,432.2 406.9,432.3 407.9,432.6 408.8,432.2 409.7,432.0 410.6,432.2 411.6,431.8 412.5,432.8 413.4,432.9 414.3,431.9 415.3,432.7 416.2,432.7 417.1,433.1 418.0,432.5 419.0,433.3 419.9,433.7 420.8,433.2 421.7,433.5 422.6,432.8 423.6,433.5 424.5,433.3 425.4,433.6 426.3,433.3 427.3,433.9 428.2,433.0 429.1,434.4 430.0,434.0 431.0,434.3 431.9,433.7 432.8,434.2 433.7,434.2 434.7,434.8 435.6,435.1 436.5,435.5 437.4,435.3 438.3,435.5 439.3,435.3 440.2,435.4 441.1,435.2 442.0,436.0 443.0,436.5 443.9,436.8 444.8,436.4 445.7,436.4 446.7,435.7 447.6,436.8 448.5,436.1 449.4,436.2 450.4,438.0 451.3,436.9 452.2,437.1 453.1,437.0 454.0,437.9 455.0,437.4 455.9,438.3 456.8,438.1 457.7,438.2 458.7,437.3 459.6,438.5 460.5,437.9 461.4,438.5 462.4,439.0 463.3,438.6 464.2,438.4 465.1,439.2 466.1,438.6 467.0,439.4 467.9,439.6 468.8,439.1 469.7,439.4 470.7,439.9 471.6,440.3 472.5,439.5 473.4,439.5 474.4,440.0 475.3,439.7 476.2,440.7 477.1,439.7 478.1,439.8 479.0,440.0 479.9,440.5 480.8,440.2 481.8,440.3 482.7,439.9"/>
<polyline fill="none" stroke="#f8ab52" stroke-width="1.35" stroke-linejoin="round" points="56.0,522.0 56.9,522.0 57.8,522.6 58.8,521.7 59.7,521.5 60.6,522.4 61.5,521.8 62.5,522.0 63.4,522.2 64.3,522.9 65.2,521.2 66.2,523.2 67.1,522.0 68.0,522.4 68.9,521.5 69.9,522.4 70.8,522.1 71.7,521.8 72.6,521.9 73.5,522.4 74.5,521.8 75.4,521.9 76.3,521.6 77.2,522.4 78.2,522.2 79.1,522.4 80.0,522.6 80.9,522.0 81.9,521.9 82.8,521.4 83.7,522.3 84.6,522.0 85.6,521.5 86.5,522.2 87.4,522.1 88.3,522.1 89.2,522.5 90.2,522.7 91.1,521.6 92.0,522.1 92.9,522.2 93.9,522.8 94.8,522.1 95.7,521.5 96.6,522.8 97.6,522.6 98.5,521.6 99.4,521.4 100.3,521.3 101.3,522.5 102.2,521.8 103.1,522.7 104.0,522.3 104.9,523.0 105.9,522.9 106.8,522.5 107.7,523.3 108.6,523.8 109.6,523.9 110.5,524.0 111.4,524.7 112.3,524.5 113.3,524.5 114.2,524.2 115.1,526.5 116.0,526.3 117.0,526.6 117.9,525.7 118.8,525.2 119.7,526.7 120.6,527.0 121.6,526.7 122.5,528.9 123.4,528.0 124.3,529.9 125.3,528.3 126.2,528.7 127.1,528.8 128.0,528.5 129.0,529.1 129.9,528.3 130.8,529.0 131.7,528.9 132.7,527.9 133.6,529.6 134.5,528.7 135.4,529.4 136.3,528.1 137.3,528.1 138.2,528.3 139.1,527.7 140.0,527.1 141.0,526.8 141.9,526.9 142.8,526.2 143.7,525.0 144.7,525.7 145.6,524.6 146.5,523.3 147.4,522.6 148.4,521.3 149.3,520.6 150.2,520.8 151.1,520.0 152.0,520.3 153.0,519.0 153.9,518.1 154.8,517.7 155.7,516.9 156.7,516.0 157.6,516.2 158.5,515.3 159.4,515.3 160.4,513.0 161.3,513.6 162.2,513.0 163.1,510.8 164.1,510.4 165.0,508.8 165.9,508.6 166.8,506.3 167.7,506.1 168.7,505.5 169.6,504.6 170.5,503.8 171.4,502.3 172.4,500.7 173.3,501.1 174.2,500.5 175.1,498.7 176.1,497.5 177.0,497.9 177.9,496.5 178.8,495.9 179.8,494.4 180.7,493.7 181.6,493.7 182.5,493.2 183.4,491.5 184.4,492.2 185.3,490.1 186.2,489.8 187.1,488.0 188.1,487.8 189.0,487.9 189.9,487.0 190.8,486.3 191.8,485.9 192.7,484.7 193.6,483.5 194.5,484.2 195.5,482.8 196.4,481.1 197.3,480.8 198.2,480.9 199.1,480.2 200.1,479.6 201.0,479.2 201.9,476.8 202.8,476.3 203.8,475.7 204.7,475.0 205.6,473.4 206.5,472.5 207.5,470.3 208.4,470.4 209.3,469.0 210.2,467.5 211.2,466.7 212.1,465.8 213.0,465.2 213.9,461.7 214.8,460.5 215.8,459.4 216.7,457.6 217.6,457.3 218.5,457.0 219.5,456.9 220.4,455.5 221.3,455.2 222.2,455.0 223.2,454.3 224.1,454.1 225.0,454.0 225.9,454.2 226.9,453.1 227.8,452.4 228.7,452.3 229.6,451.7 230.5,452.2 231.5,452.2 232.4,450.6 233.3,451.3 234.2,450.5 235.2,450.4 236.1,449.9 237.0,449.7 237.9,449.5 238.9,449.9 239.8,447.7 240.7,448.4 241.6,449.3 242.6,448.5 243.5,448.4 244.4,448.0 245.3,448.7 246.2,446.8 247.2,446.0 248.1,446.8 249.0,446.1 249.9,445.9 250.9,446.7 251.8,445.1 252.7,446.4 253.6,445.6 254.6,445.3 255.5,444.2 256.4,444.6 257.3,444.5 258.3,444.6 259.2,443.9 260.1,443.7 261.0,443.1 261.9,442.5 262.9,442.7 263.8,443.4 264.7,443.8 265.6,443.1 266.6,444.2 267.5,444.6 268.4,444.0 269.3,444.4 270.3,445.3 271.2,445.9 272.1,446.5 273.0,445.9 274.0,447.1 274.9,446.6 275.8,447.8 276.7,447.7 277.6,447.8 278.6,448.3 279.5,448.5 280.4,448.7 281.3,449.8 282.3,450.1 283.2,449.9 284.1,449.2 285.0,450.5 286.0,451.2 286.9,451.4 287.8,451.3 288.7,450.7 289.7,451.7 290.6,451.1 291.5,451.4 292.4,451.7 293.4,452.0 294.3,451.7 295.2,452.0 296.1,451.4 297.0,452.6 298.0,451.1 298.9,451.4 299.8,451.5 300.7,451.0 301.7,451.5 302.6,452.8 303.5,451.9 304.4,451.7 305.4,452.4"/>
<polyline fill="none" stroke="#e4566b" stroke-width="1.35" stroke-linejoin="round" points="56.0,523.0 56.9,521.9 57.8,521.8 58.8,522.5 59.7,522.3 60.6,522.5 61.5,522.6 62.5,522.2 63.4,521.4 64.3,523.3 65.2,522.4 66.2,521.0 67.1,521.9 68.0,522.1 68.9,521.6 69.9,522.9 70.8,523.0 71.7,523.3 72.6,523.2 73.5,522.0 74.5,521.6 75.4,522.5 76.3,522.6 77.2,521.9 78.2,521.7 79.1,522.0 80.0,523.5 80.9,522.5 81.9,523.9 82.8,522.0 83.7,522.8 84.6,522.6 85.6,521.1 86.5,521.2 87.4,521.8 88.3,522.0 89.2,522.0 90.2,522.6 91.1,522.2 92.0,520.8 92.9,522.8 93.9,522.6 94.8,522.0 95.7,521.5 96.6,521.6 97.6,522.8 98.5,522.3 99.4,522.3 100.3,523.0 101.3,522.1 102.2,522.5 103.1,521.7 104.0,522.2 104.9,523.3 105.9,523.0 106.8,523.5 107.7,523.9 108.6,524.0 109.6,523.2 110.5,524.4 111.4,525.6 112.3,525.2 113.3,524.3 114.2,523.6 115.1,526.1 116.0,525.9 117.0,526.2 117.9,527.2 118.8,526.2 119.7,526.8 120.6,526.9 121.6,525.8 122.5,527.8 123.4,527.4 124.3,527.6 125.3,528.8 126.2,528.9 127.1,527.5 128.0,528.2 129.0,528.7 129.9,529.7 130.8,528.4 131.7,528.8 132.7,527.7 133.6,528.3 134.5,528.6 135.4,528.8 136.3,528.7 137.3,529.0 138.2,528.2 139.1,528.0 140.0,527.5 141.0,526.9 141.9,527.0 142.8,527.1 143.7,525.7 144.7,524.7 145.6,525.9 146.5,524.5 147.4,524.0 148.4,523.5 149.3,523.0 150.2,523.0 151.1,522.5 152.0,520.7 153.0,520.2 153.9,521.8 154.8,522.1 155.7,519.5 156.7,519.7 157.6,519.1 158.5,519.3 159.4,517.4 160.4,517.1 161.3,516.9 162.2,515.2 163.1,513.4 164.1,513.3 165.0,512.8 165.9,513.1 166.8,511.6 167.7,511.4 168.7,509.8 169.6,509.4 170.5,509.1 171.4,507.9 172.4,508.1 173.3,506.3 174.2,505.1 175.1,505.7 176.1,504.4 177.0,505.2 177.9,502.7 178.8,502.0 179.8,502.6 180.7,500.0 181.6,500.4 182.5,501.0 183.4,500.1 184.4,497.8 185.3,497.9 186.2,496.2 187.1,497.4 188.1,495.6 189.0,494.2 189.9,494.6 190.8,493.0 191.8,493.0 192.7,491.8 193.6,491.1 194.5,489.0 195.5,490.7 196.4,488.6 197.3,487.5 198.2,488.5 199.1,487.0 200.1,484.7 201.0,484.8 201.9,486.4 202.8,483.2 203.8,482.8 204.7,480.1 205.6,479.5 206.5,478.0 207.5,476.9 208.4,474.7 209.3,473.9 210.2,472.9 211.2,471.1 212.1,469.3 213.0,468.8 213.9,466.1 214.8,466.7 215.8,463.9 216.7,463.1 217.6,461.2 218.5,462.6 219.5,462.4 220.4,462.6 221.3,460.1 222.2,460.9 223.2,461.9 224.1,461.1 225.0,461.4 225.9,459.4 226.9,460.0 227.8,461.5 228.7,459.7 229.6,459.0 230.5,459.5 231.5,458.9 232.4,459.1 233.3,458.7 234.2,458.5 235.2,458.9 236.1,458.0 237.0,457.9 237.9,457.8 238.9,458.1 239.8,458.2 240.7,457.2 241.6,456.6 242.6,458.7 243.5,457.2 244.4,455.7 245.3,455.9 246.2,456.9 247.2,455.3 248.1,456.7 249.0,456.4 249.9,454.4 250.9,455.9 251.8,455.6 252.7,456.4 253.6,455.8 254.6,455.7 255.5,454.9 256.4,455.9 257.3,453.7 258.3,454.5 259.2,454.5 260.1,454.4 261.0,453.3 261.9,452.6 262.9,453.8 263.8,452.3 264.7,452.3 265.6,452.5 266.6,453.2 267.5,454.4 268.4,452.8 269.3,453.6 270.3,453.1 271.2,454.5 272.1,453.4 273.0,453.0 274.0,453.8 274.9,452.9 275.8,452.0 276.7,453.1 277.6,453.9 278.6,451.8 279.5,455.1 280.4,454.3 281.3,453.5 282.3,454.3 283.2,455.6 284.1,453.9 285.0,453.6 286.0,454.9 286.9,453.4 287.8,454.2 288.7,453.8 289.7,455.7 290.6,454.7 291.5,453.7 292.4,453.5 293.4,454.0 294.3,455.0 295.2,455.0 296.1,455.6 297.0,454.5 298.0,455.8 298.9,455.3 299.8,456.9 300.7,456.6 301.7,454.3 302.6,455.6 303.5,455.6 304.4,457.3 305.4,455.9 306.3,454.5 307.2,457.0 308.1,457.7 309.1,456.2 310.0,456.6 310.9,456.4 311.8,457.2 312.7,457.3 313.7,457.1 314.6,455.8 315.5,456.2 316.4,455.5 317.4,456.8 318.3,455.6 319.2,456.3 320.1,455.9 321.1,455.2 322.0,455.8 322.9,456.0 323.8,456.9 324.8,455.6 325.7,455.1 326.6,456.0 327.5,455.6 328.4,456.7 329.4,456.4 330.3,455.1 331.2,454.4 332.1,455.5 333.1,456.4 334.0,455.5 334.9,456.3 335.8,455.3 336.8,453.7 337.7,454.8 338.6,455.1 339.5,454.2 340.5,455.1 341.4,454.6 342.3,454.6 343.2,454.4 344.1,455.7 345.1,454.1 346.0,453.9 346.9,456.1 347.8,456.4 348.8,455.1 349.7,453.3 350.6,454.3 351.5,453.8 352.5,453.9 353.4,453.6 354.3,454.6 355.2,454.6 356.2,453.8 357.1,453.6 358.0,453.6 358.9,453.7 359.8,454.3 360.8,453.1 361.7,453.5 362.6,453.1 363.5,455.6 364.5,453.0 365.4,455.4 366.3,453.5 367.2,454.1 368.2,453.5 369.1,453.9 370.0,453.7 370.9,453.3 371.9,453.1 372.8,453.9 373.7,455.1 374.6,453.8 375.5,452.8 376.5,453.8 377.4,452.8 378.3,453.4 379.2,453.7 380.2,452.2 381.1,451.8 382.0,453.0 382.9,452.9 383.9,452.2 384.8,453.7 385.7,453.4 386.6,451.9 387.6,452.0 388.5,453.0 389.4,453.1 390.3,452.3 391.2,453.5 392.2,452.8 393.1,452.6 394.0,454.2 394.9,452.0 395.9,451.9 396.8,451.8 397.7,453.6 398.6,453.5 399.6,453.2 400.5,453.6 401.4,451.2 402.3,453.4 403.3,453.0 404.2,452.7 405.1,452.5 406.0,451.8 406.9,453.7 407.9,452.3 408.8,452.9 409.7,453.9 410.6,452.9 411.6,454.1 412.5,452.0 413.4,453.7 414.3,452.5 415.3,452.3 416.2,453.7 417.1,453.9 418.0,453.2 419.0,454.1 419.9,452.8 420.8,453.3 421.7,454.0 422.6,454.0 423.6,453.0 424.5,454.6 425.4,452.4 426.3,454.2 427.3,453.8 428.2,454.4 429.1,452.6 430.0,453.2 431.0,453.0 431.9,453.6 432.8,454.1 433.7,453.1 434.7,454.0 435.6,454.4 436.5,454.4 437.4,454.5 438.3,454.9 439.3,455.4 440.2,456.6 441.1,454.1 442.0,456.7 443.0,457.5 443.9,456.6 444.8,454.9 445.7,455.5 446.7,457.0 447.6,456.5 448.5,456.9 449.4,458.4 450.4,457.4 451.3,457.1 452.2,456.6 453.1,458.4 454.0,459.3 455.0,458.9 455.9,457.7 456.8,457.9 457.7,458.0 458.7,458.1 459.6,458.6 460.5,459.4 461.4,458.2 462.4,458.4 463.3,458.3 464.2,457.9 465.1,459.8 466.1,460.7 467.0,460.4 467.9,457.7 468.8,460.0 469.7,459.2 470.7,459.6 471.6,459.2 472.5,457.5 473.4,460.3 474.4,460.1 475.3,460.5 476.2,460.0 477.1,459.9 478.1,461.1 479.0,459.6 479.9,459.8 480.8,460.4 481.8,460.9 482.7,461.1"/>
<polyline fill="none" stroke="#afcb52" stroke-width="1.35" stroke-linejoin="round" points="56.0,523.0 56.9,521.8 57.8,522.7 58.8,522.4 59.7,521.6 60.6,522.7 61.5,522.4 62.5,521.7 63.4,521.2 64.3,522.5 65.2,521.6 66.2,522.5 67.1,522.0 68.0,521.9 68.9,522.8 69.9,521.6 70.8,521.2 71.7,522.1 72.6,522.0 73.5,522.8 74.5,521.2 75.4,522.1 76.3,522.8 77.2,521.7 78.2,522.9 79.1,522.5 80.0,523.3 80.9,521.4 81.9,521.0 82.8,522.5 83.7,522.5 84.6,522.5 85.6,522.5 86.5,521.9 87.4,521.4 88.3,522.7 89.2,521.9 90.2,523.1 91.1,521.3 92.0,522.2 92.9,522.5 93.9,521.3 94.8,522.2 95.7,521.4 96.6,521.6 97.6,521.3 98.5,522.6 99.4,522.1 100.3,522.0 101.3,522.3 102.2,521.3 103.1,522.7 104.0,522.0 104.9,522.0 105.9,524.1 106.8,523.8 107.7,524.0 108.6,524.0 109.6,523.7 110.5,524.2 111.4,524.3 112.3,524.9 113.3,524.9 114.2,524.8 115.1,525.0 116.0,526.1 117.0,526.0 117.9,526.6 118.8,526.6 119.7,527.6 120.6,526.5 121.6,527.0 122.5,527.7 123.4,528.3 124.3,528.4 125.3,528.7 126.2,529.3 127.1,527.7 128.0,526.9 129.0,529.5 129.9,529.5 130.8,528.7 131.7,528.8 132.7,530.1 133.6,530.4 134.5,528.9 135.4,530.0 136.3,528.0 137.3,528.8 138.2,528.3 139.1,528.2 140.0,528.3 141.0,527.7 141.9,527.2 142.8,525.8 143.7,525.9 144.7,525.3 145.6,525.0 146.5,524.5 147.4,524.0 148.4,523.1 149.3,521.5 150.2,521.3 151.1,521.2 152.0,519.9 153.0,519.7 153.9,519.5 154.8,519.2 155.7,519.1 156.7,517.8 157.6,517.6 158.5,517.7 159.4,517.0 160.4,514.7 161.3,515.0 162.2,514.2 163.1,513.6 164.1,513.3 165.0,512.0 165.9,511.0 166.8,511.0 167.7,509.8 168.7,508.8 169.6,508.9 170.5,507.8 171.4,507.6 172.4,506.2 173.3,506.2 174.2,504.9 175.1,505.5 176.1,503.6 177.0,504.2 177.9,504.0 178.8,503.5 179.8,502.2 180.7,502.5 181.6,500.5 182.5,500.3 183.4,500.2 184.4,500.8 185.3,499.5 186.2,499.5 187.1,499.6 188.1,498.0 189.0,496.6 189.9,497.7 190.8,496.6 191.8,495.9 192.7,496.7 193.6,495.9 194.5,495.2 195.5,494.6 196.4,495.1 197.3,493.9 198.2,493.7 199.1,492.7 200.1,493.7 201.0,492.7 201.9,491.8 202.8,490.8 203.8,489.3 204.7,489.1 205.6,486.4 206.5,487.4 207.5,485.6 208.4,484.6 209.3,483.7 210.2,483.5 211.2,482.9 212.1,481.7 213.0,480.3 213.9,479.7 214.8,478.5 215.8,477.5 216.7,477.2 217.6,476.1 218.5,473.7 219.5,473.6 220.4,473.0 221.3,470.9 222.2,472.1 223.2,471.8 224.1,470.5 225.0,471.4 225.9,471.0 226.9,469.6 227.8,470.4 228.7,468.3 229.6,469.3 230.5,467.6 231.5,468.7 232.4,468.5 233.3,468.6 234.2,468.1 235.2,467.9 236.1,467.4 237.0,466.7 237.9,467.5 238.9,467.1 239.8,467.5 240.7,465.4 241.6,466.0 242.6,465.8 243.5,465.6 244.4,464.9 245.3,465.0 246.2,464.5 247.2,464.9 248.1,464.7 249.0,464.4 249.9,465.2 250.9,463.4 251.8,464.6 252.7,464.1 253.6,463.0 254.6,463.2 255.5,462.6 256.4,461.9 257.3,461.6 258.3,461.6 259.2,462.3 260.1,460.9 261.0,462.3 261.9,461.6 262.9,460.9 263.8,461.4 264.7,461.3 265.6,461.4 266.6,460.4 267.5,462.4 268.4,460.4 269.3,460.4 270.3,461.0 271.2,460.6 272.1,461.4 273.0,460.2 274.0,459.1 274.9,461.2 275.8,460.1 276.7,461.1 277.6,461.4 278.6,461.7 279.5,461.7 280.4,462.5 281.3,462.8 282.3,461.4 283.2,462.5 284.1,462.4 285.0,462.7 286.0,462.8 286.9,464.1 287.8,464.0 288.7,463.3 289.7,463.3 290.6,464.6 291.5,464.4 292.4,464.8 293.4,464.1 294.3,464.4 295.2,464.7 296.1,465.2 297.0,464.9 298.0,465.2 298.9,465.7 299.8,465.0 300.7,465.4 301.7,464.4 302.6,464.5 303.5,465.1 304.4,464.3 305.4,464.4 306.3,464.7 307.2,464.7 308.1,465.0 309.1,464.6 310.0,463.6 310.9,463.0 311.8,463.9 312.7,463.4 313.7,463.1 314.6,462.8 315.5,462.8 316.4,462.3 317.4,462.4 318.3,463.1 319.2,462.3 320.1,463.7 321.1,462.4 322.0,462.1 322.9,461.6 323.8,461.9 324.8,461.2 325.7,460.7 326.6,461.7 327.5,461.4 328.4,460.8 329.4,460.5 330.3,460.6 331.2,460.0 332.1,461.0 333.1,459.7 334.0,459.4 334.9,459.2 335.8,459.5 336.8,459.7 337.7,459.1 338.6,459.2 339.5,459.9 340.5,459.2 341.4,458.7 342.3,458.8 343.2,458.9 344.1,458.4 345.1,458.4 346.0,458.0 346.9,458.0 347.8,457.7 348.8,457.2 349.7,457.5 350.6,457.2 351.5,458.0 352.5,458.8 353.4,457.3 354.3,456.6 355.2,457.0 356.2,457.1 357.1,457.3 358.0,456.0 358.9,456.6 359.8,456.1 360.8,455.5 361.7,455.7 362.6,454.7 363.5,455.8 364.5,455.1 365.4,455.1 366.3,455.7 367.2,455.2 368.2,455.4 369.1,455.6 370.0,454.7 370.9,455.2 371.9,453.8 372.8,454.9 373.7,454.7 374.6,454.3 375.5,454.5 376.5,454.1 377.4,454.4 378.3,454.7 379.2,455.2 380.2,454.5 381.1,452.9 382.0,453.4 382.9,453.4 383.9,453.7 384.8,453.4 385.7,453.1 386.6,453.9 387.6,453.5 388.5,453.4 389.4,452.2 390.3,453.3 391.2,452.0 392.2,452.8 393.1,451.0 394.0,452.4 394.9,452.4 395.9,451.7 396.8,452.0 397.7,452.0 398.6,453.1 399.6,452.0 400.5,451.7 401.4,452.7 402.3,452.9 403.3,453.3 404.2,452.2 405.1,452.6 406.0,452.8 406.9,453.4 407.9,451.9 408.8,452.4 409.7,452.9 410.6,452.1 411.6,453.4 412.5,452.5 413.4,453.5 414.3,452.2 415.3,453.2 416.2,452.4 417.1,453.3 418.0,452.9 419.0,452.5 419.9,453.6 420.8,453.1 421.7,453.7 422.6,452.8 423.6,453.6 424.5,453.5 425.4,453.4 426.3,452.7 427.3,453.9 428.2,453.4 429.1,453.6 430.0,453.8 431.0,453.9 431.9,453.7 432.8,453.6 433.7,454.6 434.7,453.7 435.6,454.5 436.5,454.0 437.4,452.8 438.3,454.7 439.3,454.2 440.2,454.4 441.1,453.8 442.0,454.7 443.0,455.5 443.9,455.5 444.8,454.6 445.7,454.6 446.7,454.3 447.6,455.2 448.5,454.6 449.4,455.6 450.4,454.5 451.3,455.3 452.2,455.7 453.1,455.3 454.0,454.5 455.0,456.0 455.9,456.3 456.8,456.3 457.7,456.4 458.7,455.9 459.6,455.8 460.5,456.2 461.4,456.0 462.4,455.6 463.3,456.5 464.2,457.1 465.1,457.7 466.1,456.4 467.0,457.0 467.9,456.9 468.8,456.6 469.7,456.7 470.7,457.8 471.6,457.6 472.5,457.1 473.4,457.3 474.4,456.7 475.3,457.7 476.2,458.6 477.1,456.9 478.1,458.5 479.0,458.3 479.9,457.6 480.8,458.5 481.8,456.7 482.7,458.0"/>
<polyline fill="none" stroke="#0c3766" stroke-width="1.7" stroke-linejoin="round" points="56.0,521.8 56.9,522.5 57.8,520.6 58.8,521.8 59.7,522.7 60.6,521.3 61.5,523.4 62.5,522.6 63.4,522.0 64.3,522.1 65.2,522.8 66.2,521.0 67.1,521.1 68.0,522.8 68.9,521.9 69.9,522.6 70.8,522.5 71.7,521.5 72.6,522.1 73.5,522.2 74.5,522.1 75.4,523.0 76.3,521.3 77.2,522.7 78.2,521.2 79.1,522.5 80.0,522.5 80.9,521.1 81.9,522.0 82.8,522.6 83.7,522.5 84.6,521.7 85.6,520.8 86.5,521.7 87.4,522.4 88.3,523.0 89.2,522.6 90.2,522.2 91.1,522.0 92.0,522.6 92.9,521.2 93.9,522.8 94.8,522.7 95.7,521.8 96.6,521.8 97.6,522.4 98.5,521.5 99.4,523.2 100.3,521.0 101.3,520.6 102.2,520.8 103.1,522.2 104.0,521.1 104.9,522.7 105.9,522.1 106.8,523.4 107.7,523.3 108.6,523.3 109.6,525.2 110.5,524.3 111.4,523.1 112.3,526.7 113.3,524.6 114.2,524.4 115.1,525.1 116.0,525.5 117.0,524.9 117.9,526.0 118.8,527.9 119.7,527.5 120.6,527.3 121.6,527.2 122.5,527.9 123.4,528.0 124.3,527.0 125.3,530.5 126.2,527.6 127.1,527.9 128.0,528.3 129.0,528.8 129.9,528.9 130.8,528.8 131.7,529.0 132.7,529.8 133.6,528.8 134.5,529.8 135.4,529.0 136.3,529.2 137.3,530.0 138.2,527.6 139.1,528.3 140.0,529.5 141.0,527.6 141.9,528.5 142.8,524.2 143.7,524.7 144.7,522.1 145.6,524.6 146.5,522.3 147.4,523.7 148.4,522.8 149.3,521.1 150.2,519.7 151.1,518.4 152.0,519.2 153.0,516.8 153.9,516.4 154.8,518.0 155.7,516.5 156.7,516.7 157.6,512.8 158.5,515.0 159.4,512.5 160.4,511.8 161.3,512.6 162.2,512.2 163.1,510.4 164.1,511.1 165.0,511.0 165.9,509.9 166.8,507.5 167.7,507.0 168.7,504.3 169.6,508.1 170.5,504.4 171.4,505.8 172.4,502.2 173.3,502.0 174.2,502.1 175.1,499.7 176.1,501.3 177.0,500.8 177.9,500.7 178.8,499.5 179.8,497.9 180.7,496.5 181.6,495.0"/>
<polyline fill="none" stroke="#a87abb" stroke-width="1.3" stroke-linejoin="round" points="56.0,522.3 56.9,522.4 57.8,522.3 58.8,522.3 59.7,522.3 60.6,522.3 61.5,522.5 62.5,522.2 63.4,522.3 64.3,522.2 65.2,522.7 66.2,522.1 67.1,522.0 68.0,521.9 68.9,522.4 69.9,522.6 70.8,522.6 71.7,522.6 72.6,522.4 73.5,522.3 74.5,522.8 75.4,521.9 76.3,522.7 77.2,522.4 78.2,522.4 79.1,521.9 80.0,521.5 80.9,522.3 81.9,522.3 82.8,522.3 83.7,522.2 84.6,522.2 85.6,521.3 86.5,522.5 87.4,522.2 88.3,522.4 89.2,522.0 90.2,522.3 91.1,522.0 92.0,522.5 92.9,521.4 93.9,522.1 94.8,522.8 95.7,521.9 96.6,522.3 97.6,522.6 98.5,522.0 99.4,522.3 100.3,521.9 101.3,522.4 102.2,521.8 103.1,522.3 104.0,522.4 104.9,522.7 105.9,523.1 106.8,523.4 107.7,523.3 108.6,523.4 109.6,524.1 110.5,523.4 111.4,523.8"/>
<polyline fill="none" stroke="#e4566b" stroke-width="1.35" stroke-linejoin="round" points="56.0,809.3 56.9,808.1 57.8,808.7 58.8,808.6 59.7,809.1 60.6,807.8 61.5,809.1 62.5,808.7 63.4,809.1 64.3,807.7 65.2,808.0 66.2,809.4 67.1,808.9 68.0,808.5 68.9,808.9 69.9,808.9 70.8,809.3 71.7,808.5 72.6,809.3 73.5,808.2 74.5,807.4 75.4,808.9 76.3,807.8 77.2,808.5 78.2,809.0 79.1,808.9 80.0,809.2 80.9,808.6 81.9,808.3 82.8,808.2 83.7,808.8 84.6,809.3 85.6,808.7 86.5,807.8 87.4,808.5 88.3,808.7 89.2,809.8 90.2,808.9 91.1,808.4 92.0,809.2 92.9,808.0 93.9,809.0 94.8,809.1 95.7,809.0 96.6,808.7 97.6,808.1 98.5,809.0 99.4,809.6 100.3,808.7 101.3,808.4 102.2,807.9 103.1,809.3 104.0,807.9 104.9,808.3 105.9,808.4 106.8,809.1 107.7,809.4 108.6,809.8 109.6,809.2 110.5,809.9 111.4,809.8 112.3,809.8 113.3,811.1 114.2,811.4 115.1,810.7 116.0,812.8 117.0,812.7 117.9,813.0 118.8,813.4 119.7,813.4 120.6,814.2 121.6,813.4 122.5,815.0 123.4,815.0 124.3,815.8 125.3,815.9 126.2,815.1 127.1,815.4 128.0,816.1 129.0,815.9 129.9,816.3 130.8,817.2 131.7,817.2 132.7,817.1 133.6,816.3 134.5,817.6 135.4,817.2 136.3,817.1 137.3,816.8 138.2,817.2 139.1,816.9 140.0,818.0 141.0,817.6 141.9,818.6 142.8,817.6 143.7,816.3 144.7,817.5 145.6,817.6 146.5,817.5 147.4,817.6 148.4,818.4 149.3,818.0 150.2,817.7 151.1,817.4 152.0,817.9 153.0,817.5 153.9,817.7 154.8,818.0 155.7,817.6 156.7,817.6 157.6,816.7 158.5,816.4 159.4,816.7 160.4,817.1 161.3,817.2 162.2,817.7 163.1,817.1 164.1,815.9 165.0,816.1 165.9,816.5 166.8,816.7 167.7,816.5 168.7,816.2 169.6,816.3 170.5,816.0 171.4,816.5 172.4,816.0 173.3,816.1 174.2,815.3 175.1,816.4 176.1,815.0 177.0,815.6 177.9,815.7 178.8,815.3 179.8,815.2 180.7,815.3 181.6,814.8 182.5,815.3 183.4,815.8 184.4,814.4 185.3,814.8 186.2,779.7 187.1,780.8 188.1,782.8 189.0,779.9 189.9,780.6 190.8,778.7 191.8,776.6 192.7,776.6 193.6,777.5 194.5,775.8 195.5,776.2 196.4,773.5 197.3,772.8 198.2,773.2 199.1,771.0 200.1,768.5 201.0,766.5 201.9,765.5 202.8,763.4 203.8,761.7 204.7,759.7 205.6,756.3 206.5,754.4 207.5,751.4 208.4,750.0 209.3,748.4 210.2,747.7 211.2,744.0 212.1,743.7 213.0,742.4 213.9,741.8 214.8,740.4 215.8,737.8 216.7,737.6 217.6,735.0 218.5,733.6 219.5,733.0 220.4,732.6 221.3,729.9 222.2,727.9 223.2,728.5 224.1,727.6 225.0,724.7 225.9,724.2 226.9,723.6 227.8,721.0 228.7,721.0 229.6,719.3 230.5,718.7 231.5,717.8 232.4,715.9 233.3,715.9 234.2,715.9 235.2,714.1 236.1,712.0 237.0,711.3 237.9,709.7 238.9,709.8 239.8,708.6 240.7,708.9 241.6,709.0 242.6,707.9 243.5,708.6 244.4,706.9 245.3,707.4 246.2,706.4 247.2,706.9 248.1,705.9 249.0,704.7 249.9,705.2 250.9,705.1 251.8,704.0 252.7,703.1 253.6,703.5 254.6,703.9 255.5,703.8 256.4,703.2 257.3,700.9 258.3,701.4 259.2,700.5 260.1,699.6 261.0,699.8 261.9,699.2 262.9,699.6 263.8,700.0 264.7,697.8 265.6,698.0 266.6,697.0 267.5,697.9 268.4,696.7 269.3,694.6 270.3,696.4 271.2,695.5 272.1,694.3 273.0,695.2 274.0,694.7 274.9,696.3 275.8,693.8 276.7,694.5 277.6,692.9 278.6,693.7 279.5,693.7 280.4,692.9 281.3,693.1 282.3,693.1 283.2,691.3 284.1,691.5 285.0,691.9 286.0,691.2 286.9,690.9 287.8,690.9 288.7,691.1 289.7,690.8 290.6,690.3 291.5,690.0 292.4,689.9 293.4,690.4 294.3,689.8 295.2,689.1 296.1,690.0 297.0,689.0 298.0,688.2 298.9,688.4 299.8,688.6 300.7,688.3 301.7,688.5 302.6,687.2 303.5,688.1 304.4,689.0 305.4,688.5 306.3,687.2 307.2,687.1 308.1,687.5 309.1,688.0 310.0,687.0 310.9,687.3 311.8,687.1 312.7,686.4 313.7,686.9 314.6,685.9 315.5,686.6 316.4,686.2 317.4,685.9 318.3,684.5 319.2,684.2 320.1,684.6 321.1,685.7 322.0,685.0 322.9,684.2 323.8,684.1 324.8,685.9 325.7,684.5 326.6,684.9 327.5,683.6 328.4,683.5 329.4,684.3 330.3,682.1 331.2,683.8 332.1,681.6 333.1,683.4 334.0,683.2 334.9,681.6 335.8,683.3 336.8,683.1 337.7,681.5 338.6,682.5 339.5,682.0 340.5,683.1 341.4,680.7 342.3,681.2 343.2,681.5 344.1,681.1 345.1,681.9 346.0,681.7 346.9,682.5 347.8,680.8 348.8,680.0 349.7,680.2 350.6,680.0 351.5,680.0 352.5,681.2 353.4,681.3 354.3,679.7 355.2,679.9 356.2,679.1 357.1,680.0 358.0,680.3 358.9,679.2 359.8,679.8 360.8,680.5 361.7,679.6 362.6,679.6 363.5,679.7 364.5,679.1 365.4,677.8 366.3,676.7 367.2,677.0 368.2,678.5 369.1,677.2 370.0,678.0 370.9,677.5 371.9,678.1 372.8,677.6 373.7,678.6 374.6,675.9 375.5,677.7 376.5,676.5 377.4,677.3 378.3,676.5 379.2,677.5 380.2,676.7 381.1,675.6 382.0,675.7 382.9,677.5 383.9,675.3 384.8,676.8 385.7,675.4 386.6,675.0 387.6,675.7 388.5,675.3 389.4,675.0 390.3,674.3 391.2,673.7 392.2,673.2 393.1,673.8 394.0,672.3 394.9,674.3 395.9,672.0 396.8,673.4 397.7,672.4 398.6,672.9 399.6,672.5 400.5,673.1 401.4,671.9 402.3,670.4 403.3,671.6 404.2,671.6 405.1,671.3 406.0,670.6 406.9,671.1 407.9,670.7 408.8,670.4 409.7,669.3 410.6,669.4 411.6,670.7 412.5,670.1 413.4,669.4 414.3,668.6 415.3,668.2 416.2,668.9 417.1,666.9 418.0,668.4 419.0,667.0 419.9,666.8 420.8,666.4 421.7,667.2 422.6,666.7 423.6,668.1 424.5,668.1 425.4,666.9 426.3,665.7 427.3,665.2 428.2,665.9 429.1,664.8 430.0,664.9 431.0,664.0 431.9,666.2 432.8,665.3 433.7,665.2 434.7,665.0 435.6,662.8 436.5,664.8 437.4,664.7 438.3,664.3 439.3,663.3 440.2,664.3 441.1,663.3 442.0,663.5 443.0,664.3 443.9,665.6 444.8,664.5 445.7,664.7 446.7,662.4 447.6,664.2 448.5,664.5 449.4,663.3 450.4,663.5 451.3,664.2 452.2,662.7 453.1,662.8 454.0,663.2 455.0,664.0 455.9,664.1 456.8,664.9 457.7,663.0 458.7,663.0 459.6,664.0 460.5,663.2 461.4,660.6 462.4,664.0 463.3,664.4 464.2,662.6 465.1,663.4 466.1,661.9 467.0,658.4 467.9,657.1 468.8,656.4 469.7,656.9 470.7,656.5 471.6,657.5 472.5,659.9 473.4,658.0 474.4,661.2 475.3,659.9 476.2,661.3 477.1,663.4 478.1,661.0 479.0,659.1 479.9,659.3 480.8,657.2 481.8,656.6"/>
<polyline fill="none" stroke="#f8ab52" stroke-width="1.35" stroke-linejoin="round" points="56.0,809.1 56.7,808.9 57.3,808.2 58.0,808.4 58.6,808.7 59.3,808.7 60.0,808.6 60.6,808.6 61.3,808.6 61.9,809.4 62.6,808.3 63.3,809.0 63.9,809.7 64.6,808.4 65.2,809.2 65.9,808.7 66.6,808.7 67.2,808.9 67.9,808.5 68.5,808.8 69.2,808.8 69.9,809.1 70.5,808.8 71.2,809.1 71.8,808.7 72.5,808.1 73.2,808.3 73.8,808.5 74.5,809.2 75.1,808.2 75.8,808.3 76.4,807.8 77.1,809.6 77.8,808.7 78.4,808.8 79.1,808.2 79.7,809.1 80.4,808.8 81.1,807.7 81.7,808.3 82.4,809.5 83.0,808.7 83.7,808.1 84.4,808.9 85.0,808.4 85.7,808.6 86.3,809.3 87.0,808.9 87.7,808.2 88.3,808.2 89.0,808.9 89.6,808.2 90.3,809.0 91.0,808.6 91.6,808.7 92.3,809.2 92.9,808.5 93.6,808.8 94.3,809.8 94.9,809.0 95.6,809.0 96.2,809.0 96.9,809.1 97.6,809.0 98.2,809.7 98.9,808.3 99.5,808.6 100.2,808.6 100.9,808.8 101.5,808.7 102.2,808.8 102.8,809.1 103.5,809.3 104.2,808.6 104.8,808.3 105.5,808.6 106.1,808.0 106.8,809.3 107.5,809.0 108.1,809.4 108.8,808.9 109.4,808.9 110.1,810.1 110.8,809.8 111.4,810.5 112.1,811.0 112.7,810.9 113.4,811.6 114.1,810.7 114.7,811.4 115.4,811.4 116.0,812.0 116.7,813.4 117.3,812.3 118.0,812.8 118.7,814.1 119.3,813.3 120.0,813.1 120.6,813.1 121.3,814.4 122.0,813.8 122.6,814.2 123.3,814.6 123.9,814.9 124.6,814.8 125.3,814.9 125.9,815.1 126.6,815.7 127.2,816.3 127.9,815.4 128.6,815.6 129.2,816.6 129.9,816.6 130.5,816.4 131.2,817.7 131.9,817.0 132.5,816.3 133.2,817.2 133.8,817.6 134.5,816.5 135.2,817.4 135.8,817.3 136.5,817.6 137.1,817.3 137.8,818.2 138.5,818.0 139.1,818.1 139.8,817.1 140.4,817.5 141.1,817.0 141.8,818.4 142.4,817.8 143.1,817.0 143.7,817.9 144.4,818.4 145.1,817.9 145.7,817.8 146.4,817.6 147.0,817.1 147.7,817.1 148.4,817.0 149.0,817.4 149.7,817.8 150.3,817.8 151.0,818.1 151.7,816.9 152.3,816.9 153.0,817.4 153.6,817.7 154.3,817.0 155.0,817.1 155.6,817.2 156.3,817.7 156.9,817.1 157.6,817.4 158.2,816.8 158.9,816.8 159.6,816.8 160.2,817.2 160.9,816.3 161.5,816.6 162.2,816.3 162.9,816.5 163.5,816.5 164.2,816.6 164.8,817.2 165.5,817.4 166.2,817.0 166.8,816.3 167.5,816.1 168.1,816.4 168.8,816.4 169.5,815.6 170.1,816.4 170.8,816.9 171.4,816.8 172.1,816.2 172.8,815.7 173.4,815.6 174.1,815.9 174.7,815.4 175.4,815.7 176.1,815.9 176.7,815.7 177.4,815.2 178.0,815.0 178.7,815.8 179.4,815.7 180.0,815.2 180.7,814.3 181.3,815.6 182.0,815.6 182.7,814.8 183.3,814.7 184.0,815.1 184.6,814.8 185.3,814.6 186.0,755.5 186.6,787.7 187.3,787.0 187.9,786.5 188.6,785.9 189.3,785.6 189.9,785.3 190.6,782.8 191.2,782.1 191.9,781.8 192.6,779.9 193.2,778.9 193.9,778.5 194.5,778.7 195.2,776.7 195.9,775.8 196.5,774.8 197.2,773.4 197.8,773.0 198.5,771.2 199.1,769.3 199.8,769.6 200.5,767.1 201.1,766.6 201.8,764.7 202.4,763.7 203.1,761.7 203.8,761.4 204.4,759.3 205.1,758.8 205.7,756.9 206.4,755.7 207.1,753.8 207.7,753.9 208.4,752.4 209.0,749.7 209.7,748.9 210.4,746.9 211.0,747.0 211.7,745.0 212.3,743.4 213.0,741.5 213.7,741.1 214.3,740.0 215.0,738.0 215.6,737.1 216.3,736.1 217.0,734.0 217.6,734.1 218.3,732.3 218.9,728.7 219.6,727.5 220.3,725.1 220.9,722.5 221.6,719.8 222.2,717.9 222.9,716.4 223.6,713.9 224.2,710.8 224.9,709.1 225.5,707.5 226.2,706.4 226.9,705.9 227.5,705.0 228.2,706.3 228.8,705.8 229.5,705.4 230.2,704.5 230.8,704.5 231.5,703.1 232.1,704.6 232.8,702.1 233.5,702.4 234.1,701.6 234.8,700.6 235.4,700.2 236.1,700.3 236.8,698.4 237.4,698.3 238.1,698.4 238.7,697.8 239.4,698.1 240.0,697.9 240.7,697.1 241.4,696.5 242.0,696.3 242.7,696.5 243.3,696.5 244.0,696.4 244.7,694.4 245.3,694.7 246.0,695.0 246.6,693.7 247.3,693.8 248.0,694.0 248.6,693.8 249.3,692.5 249.9,692.7 250.6,691.7 251.3,692.1 251.9,692.3 252.6,692.0 253.2,691.7 253.9,690.9 254.6,690.7 255.2,690.2 255.9,690.0 256.5,690.6 257.2,689.9 257.9,690.1 258.5,689.2 259.2,689.9 259.8,689.3 260.5,689.2 261.2,688.9 261.8,688.5 262.5,687.4 263.1,688.1 263.8,688.5 264.5,687.7 265.1,686.9 265.8,686.8 266.4,686.8 267.1,685.7 267.8,685.9 268.4,686.2 269.1,685.4 269.7,686.6 270.4,685.8 271.1,686.0 271.7,685.3 272.4,684.5 273.0,685.5 273.7,684.3 274.4,685.5 275.0,684.1 275.7,685.6 276.3,685.0 277.0,684.0 277.6,684.4 278.3,684.2 279.0,684.1 279.6,683.9 280.3,684.0 280.9,684.3 281.6,683.8 282.3,683.5 282.9,683.9 283.6,683.0 284.2,682.3 284.9,683.9 285.6,683.2 286.2,683.0 286.9,682.7 287.5,682.5 288.2,682.8 288.9,682.4 289.5,682.3 290.2,682.3 290.8,681.4 291.5,682.1 292.2,682.8 292.8,682.8 293.5,681.6 294.1,682.1 294.8,682.1 295.5,682.5 296.1,681.8 296.8,681.7 297.4,681.9 298.1,681.7 298.8,681.0 299.4,680.9 300.1,681.0 300.7,681.3 301.4,681.9 302.1,680.7 302.7,680.3 303.4,680.3 304.0,680.3 304.7,680.7 305.4,680.6 306.0,680.7"/>
<polyline fill="none" stroke="#a5bce4" stroke-width="1.35" stroke-linejoin="round" points="56.0,808.2 56.9,808.8 57.8,807.8 58.8,808.4 59.7,808.8 60.6,808.7 61.5,809.3 62.5,809.0 63.4,808.8 64.3,807.7 65.2,809.0 66.2,808.3 67.1,808.6 68.0,808.8 68.9,808.4 69.9,809.5 70.8,808.3 71.7,807.9 72.6,808.6 73.5,808.7 74.5,808.6 75.4,808.4 76.3,808.9 77.2,808.6 78.2,808.5 79.1,808.8 80.0,808.5 80.9,808.5 81.9,808.4 82.8,809.1 83.7,808.9 84.6,808.9 85.6,808.2 86.5,808.6 87.4,809.4 88.3,809.2 89.2,807.9 90.2,808.5 91.1,809.2 92.0,809.1 92.9,808.6 93.9,808.1 94.8,808.0 95.7,808.8 96.6,808.8 97.6,807.9 98.5,809.1 99.4,808.0 100.3,808.5 101.3,808.6 102.2,808.1 103.1,808.5 104.0,809.0 104.9,809.3 105.9,808.7 106.8,808.5 107.7,808.4 108.6,810.4 109.6,809.1 110.5,809.8 111.4,809.7 112.3,810.4 113.3,811.0 114.2,811.2 115.1,811.6 116.0,812.4 117.0,812.5 117.9,812.8 118.8,813.3 119.7,814.1 120.6,814.4 121.6,813.8 122.5,814.1 123.4,814.6 124.3,815.4 125.3,814.8 126.2,815.6 127.1,816.6 128.0,815.4 129.0,816.9 129.9,815.7 130.8,816.6 131.7,817.3 132.7,818.3 133.6,817.6 134.5,816.7 135.4,816.8 136.3,817.3 137.3,818.1 138.2,817.6 139.1,817.6 140.0,817.3 141.0,817.6 141.9,817.4 142.8,818.2 143.7,817.8 144.7,817.0 145.6,818.2 146.5,817.2 147.4,816.7 148.4,817.4 149.3,818.2 150.2,817.0 151.1,818.3 152.0,817.3 153.0,817.6 153.9,816.8 154.8,816.8 155.7,817.2 156.7,816.4 157.6,816.7 158.5,817.3 159.4,817.4 160.4,815.9 161.3,817.1 162.2,816.7 163.1,816.9 164.1,817.0 165.0,817.4 165.9,816.7 166.8,816.6 167.7,816.1 168.7,816.6 169.6,817.0 170.5,816.7 171.4,816.1 172.4,815.9 173.3,815.6 174.2,816.0 175.1,815.5 176.1,815.6 177.0,814.8 177.9,815.5 178.8,815.3 179.8,815.0 180.7,814.7 181.6,815.4 182.5,815.2 183.4,815.0 184.4,815.7 185.3,814.3 186.2,790.3 187.1,791.2 188.1,789.8 189.0,790.7 189.9,789.6 190.8,789.1 191.8,788.7 192.7,789.2 193.6,786.9 194.5,786.8 195.5,786.9 196.4,785.5 197.3,784.4 198.2,782.9 199.1,781.9 200.1,780.9 201.0,778.8 201.9,778.3 202.8,776.5 203.8,774.7 204.7,774.5 205.6,772.2 206.5,772.0 207.5,770.1 208.4,768.9 209.3,766.9 210.2,765.1 211.2,764.2 212.1,762.2 213.0,761.3 213.9,760.0 214.8,758.2 215.8,757.2 216.7,755.6 217.6,753.7 218.5,753.1 219.5,750.8 220.4,750.6 221.3,748.7 222.2,748.1 223.2,746.5 224.1,744.3 225.0,743.8 225.9,742.3 226.9,742.7 227.8,741.4 228.7,739.5 229.6,738.3 230.5,737.2 231.5,737.4 232.4,735.2 233.3,735.2 234.2,734.9 235.2,734.5 236.1,734.6 237.0,735.1 237.9,734.6 238.9,734.6 239.8,734.3 240.7,733.5 241.6,732.5 242.6,733.3 243.5,733.2 244.4,733.1 245.3,733.2 246.2,732.1 247.2,732.1 248.1,731.8 249.0,732.0 249.9,731.0 250.9,731.6 251.8,730.5 252.7,730.9 253.6,730.0 254.6,730.6 255.5,729.7 256.4,729.6 257.3,729.8 258.3,728.9 259.2,729.6 260.1,730.1 261.0,729.2 261.9,729.9 262.9,729.7 263.8,729.3 264.7,729.2 265.6,728.3 266.6,730.0 267.5,729.2 268.4,728.4 269.3,729.0 270.3,728.7 271.2,728.0 272.1,729.4 273.0,728.7 274.0,728.3 274.9,728.9 275.8,729.5 276.7,729.1 277.6,728.4 278.6,728.3 279.5,727.4 280.4,727.7 281.3,729.1 282.3,727.7 283.2,727.7 284.1,727.3 285.0,728.2 286.0,728.4 286.9,728.0 287.8,727.2 288.7,727.6 289.7,727.0 290.6,727.4 291.5,728.1 292.4,728.3 293.4,726.7 294.3,728.5 295.2,727.8 296.1,727.7 297.0,728.0 298.0,727.8 298.9,727.4 299.8,726.2 300.7,727.4 301.7,727.6 302.6,727.2 303.5,726.7 304.4,727.6 305.4,727.3 306.3,728.0 307.2,726.6 308.1,726.6 309.1,726.1 310.0,727.4 310.9,725.6 311.8,726.2 312.7,726.8 313.7,726.8 314.6,726.6 315.5,727.1 316.4,725.9 317.4,726.6 318.3,726.6 319.2,725.9 320.1,726.0 321.1,726.3 322.0,726.1 322.9,726.1 323.8,725.1 324.8,725.2 325.7,726.1 326.6,725.6 327.5,724.8 328.4,725.6 329.4,724.5 330.3,725.1 331.2,724.9 332.1,726.3 333.1,724.7 334.0,724.9 334.9,724.7 335.8,724.7 336.8,724.6 337.7,725.1 338.6,724.3 339.5,724.7 340.5,725.2 341.4,725.1 342.3,724.4 343.2,724.3 344.1,725.5 345.1,725.4 346.0,723.7 346.9,724.2 347.8,722.6 348.8,724.8 349.7,724.1 350.6,724.2 351.5,723.5 352.5,723.0 353.4,722.9 354.3,724.2 355.2,722.9 356.2,724.1 357.1,723.3 358.0,723.3 358.9,723.1 359.8,723.8 360.8,722.6 361.7,723.3 362.6,723.3 363.5,723.4 364.5,723.8 365.4,722.8 366.3,723.0 367.2,722.9 368.2,722.1 369.1,723.5 370.0,723.2 370.9,723.0 371.9,722.5 372.8,723.0 373.7,722.4 374.6,722.6 375.5,723.7 376.5,723.2 377.4,723.8 378.3,722.9 379.2,722.9 380.2,722.4 381.1,722.5 382.0,722.6 382.9,721.9 383.9,722.2 384.8,723.2 385.7,722.8 386.6,722.3 387.6,721.5 388.5,722.5 389.4,722.4 390.3,722.2 391.2,721.9 392.2,722.3 393.1,722.1 394.0,722.4 394.9,722.5 395.9,722.6 396.8,721.8 397.7,722.4 398.6,721.8 399.6,721.8 400.5,721.5 401.4,723.4 402.3,722.4 403.3,722.5 404.2,721.9 405.1,721.4 406.0,720.5 406.9,721.0 407.9,721.0 408.8,721.5 409.7,721.9 410.6,721.4 411.6,722.9 412.5,721.3 413.4,721.9 414.3,721.6 415.3,722.6 416.2,722.7 417.1,722.5 418.0,722.3 419.0,722.1 419.9,722.5 420.8,722.2 421.7,722.1 422.6,723.2 423.6,722.7 424.5,723.5 425.4,723.1 426.3,722.4 427.3,723.3 428.2,722.0 429.1,722.8 430.0,722.6 431.0,723.1 431.9,722.8 432.8,722.7 433.7,723.3 434.7,723.7 435.6,723.8 436.5,722.6 437.4,723.7 438.3,723.9 439.3,724.1 440.2,724.7 441.1,724.2 442.0,723.8 443.0,724.3 443.9,724.5 444.8,723.9 445.7,724.0 446.7,724.5 447.6,724.2 448.5,724.9 449.4,724.0 450.4,725.5 451.3,726.1 452.2,726.9 453.1,728.2 454.0,729.2 455.0,725.9 455.9,724.5 456.8,724.6 457.7,722.0 458.7,721.1 459.6,718.6 460.5,717.8 461.4,715.2 462.4,713.6 463.3,711.4 464.2,710.0 465.1,708.2 466.1,704.4 467.0,702.1 467.9,698.9 468.8,696.1 469.7,693.7 470.7,689.4 471.6,689.8 472.5,688.1 473.4,687.0 474.4,686.5 475.3,687.0 476.2,686.9 477.1,686.6 478.1,686.8 479.0,687.0 479.9,689.2 480.8,688.4 481.8,689.3"/>
<polyline fill="none" stroke="#afcb52" stroke-width="1.35" stroke-linejoin="round" points="56.0,808.4 56.3,809.3 56.5,808.7 56.8,808.4 57.1,808.9 57.3,808.8 57.6,809.0 57.8,808.3 58.1,809.1 58.4,809.0 58.6,808.8 58.9,808.8 59.2,807.9 59.4,808.6 59.7,809.0 60.0,808.5 60.2,808.6 60.5,808.6 60.7,808.7 61.0,808.5 61.3,809.1 61.5,809.1 61.8,808.8 62.1,809.1 62.3,808.4 62.6,808.0 62.9,808.2 63.1,808.5 63.4,808.6 63.7,808.9 63.9,809.1 64.2,808.5 64.4,809.2 64.7,808.6 65.0,808.7 65.2,808.4 65.5,808.7 65.8,808.6 66.0,808.9 66.3,809.3 66.6,808.8 66.8,808.4 67.1,808.3 67.3,808.2 67.6,809.0 67.9,809.0 68.1,808.4 68.4,808.8 68.7,807.8 68.9,808.6 69.2,809.2 69.5,808.9 69.7,808.1 70.0,809.3 70.2,808.6 70.5,809.2 70.8,808.1 71.0,808.8 71.3,809.0 71.6,809.3 71.8,808.9 72.1,809.6 72.4,808.8 72.6,807.9 72.9,808.6 73.2,808.8 73.4,809.1 73.7,808.6 73.9,808.8 74.2,809.0 74.5,808.2 74.7,808.5 75.0,809.0 75.3,808.2 75.5,808.7 75.8,808.5 76.1,808.6 76.3,808.3 76.6,808.5 76.8,808.8 77.1,808.4 77.4,808.8 77.6,808.6 77.9,808.1 78.2,809.1 78.4,809.0 78.7,808.8 79.0,808.9 79.2,808.2 79.5,809.2 79.7,807.9 80.0,808.1 80.3,808.8 80.5,808.6 80.8,808.8 81.1,808.4 81.3,808.4 81.6,808.4 81.9,808.4 82.1,808.0 82.4,808.7 82.7,808.4 82.9,808.7 83.2,808.7 83.4,808.6 83.7,808.7 84.0,808.6 84.2,809.0 84.5,808.7 84.8,808.9 85.0,809.1 85.3,808.9 85.6,808.9 85.8,808.7 86.1,809.2 86.3,808.8 86.6,809.1 86.9,809.0 87.1,808.6 87.4,808.3 87.7,808.6 87.9,808.9 88.2,808.8 88.5,808.2 88.7,809.3 89.0,808.3 89.2,809.2 89.5,808.9 89.8,808.7 90.0,808.8 90.3,808.1 90.6,808.5 90.8,808.7 91.1,808.3 91.4,808.7 91.6,809.0 91.9,808.3 92.2,808.2 92.4,808.2 92.7,809.1 92.9,808.0 93.2,808.8 93.5,808.4 93.7,808.3 94.0,807.8 94.3,809.2 94.5,809.0 94.8,808.3 95.1,808.5 95.3,808.8 95.6,809.7 95.8,808.5 96.1,808.7 96.4,809.6 96.6,807.7 96.9,809.6 97.2,808.9 97.4,808.7 97.7,808.6 98.0,808.4 98.2,808.8 98.5,809.0 98.7,808.8 99.0,809.4 99.3,809.1 99.5,808.0 99.8,808.9 100.1,808.7 100.3,808.0 100.6,808.3 100.9,808.6 101.1,808.4 101.4,808.8 101.6,809.0 101.9,808.3 102.2,808.6 102.4,808.1 102.7,808.8 103.0,808.8 103.2,808.6 103.5,808.7 103.8,808.8 104.0,809.0 104.3,808.6 104.6,808.6 104.8,808.0 105.1,808.7 105.3,809.3 105.6,808.5 105.9,807.9 106.1,808.8 106.4,809.0 106.7,808.7 106.9,809.7 107.2,808.9 107.5,808.9 107.7,809.5 108.0,808.9 108.2,809.5 108.5,809.9 108.8,809.6 109.0,809.3 109.3,808.9 109.6,809.2 109.8,809.7 110.1,810.1 110.4,810.1 110.6,809.7 110.9,810.4 111.1,810.1 111.4,810.0 111.7,810.8 111.9,810.8 112.2,810.5 112.5,810.8 112.7,810.9 113.0,811.2 113.3,811.1 113.5,810.5 113.8,810.8 114.1,811.9 114.3,811.4 114.6,811.5 114.8,811.7 115.1,812.3 115.4,811.9 115.6,811.9 115.9,812.3 116.2,812.1 116.4,813.1 116.7,812.9 117.0,812.4 117.2,812.4 117.5,812.7 117.7,812.9 118.0,812.8 118.3,812.6 118.5,812.7 118.8,813.2 119.1,813.4 119.3,813.0 119.6,813.2 119.9,813.2 120.1,813.7 120.4,814.0 120.6,813.7 120.9,814.1 121.2,813.5 121.4,813.7 121.7,814.9 122.0,813.9 122.2,813.8 122.5,814.0 122.8,814.6 123.0,814.8 123.3,814.2 123.6,814.3 123.8,814.7 124.1,815.2 124.3,815.4 124.6,814.9 124.9,815.3 125.1,815.4 125.4,815.1 125.7,814.9 125.9,816.1 126.2,815.7 126.5,815.1 126.7,815.6 127.0,815.8 127.2,815.6 127.5,816.3 127.8,816.4 128.0,816.0 128.3,815.6 128.6,815.8 128.8,816.3 129.1,816.0 129.4,816.6 129.6,816.9 129.9,817.2 130.1,816.6 130.4,816.4 130.7,816.7 130.9,816.9 131.2,817.1 131.5,816.7 131.7,817.2 132.0,817.7 132.3,816.8 132.5,817.5 132.8,817.2 133.0,817.3 133.3,817.0 133.6,817.3 133.8,816.9 134.1,817.3 134.4,817.5 134.6,817.5 134.9,817.1 135.2,817.7 135.4,817.1 135.7,817.5 136.0,817.7 136.2,817.7 136.5,817.5 136.7,816.8 137.0,817.1 137.3,817.4 137.5,817.7 137.8,816.8 138.1,817.5 138.3,817.4 138.6,817.6 138.9,817.0 139.1,817.4 139.4,817.6 139.6,817.4 139.9,817.8 140.2,817.9 140.4,817.6 140.7,818.5 141.0,817.1 141.2,816.8 141.5,817.9 141.8,817.6 142.0,818.1 142.3,817.5 142.5,817.5 142.8,817.3 143.1,818.0 143.3,817.8 143.6,817.8 143.9,817.7 144.1,816.8 144.4,817.7 144.7,817.6 144.9,817.8 145.2,817.3 145.5,816.7 145.7,817.2 146.0,817.1 146.2,818.0 146.5,817.3 146.8,817.6 147.0,817.2 147.3,817.3 147.6,817.4 147.8,818.3 148.1,817.6 148.4,817.8 148.6,817.5 148.9,817.6 149.1,817.3 149.4,818.2 149.7,817.9 149.9,817.6 150.2,817.4 150.5,817.7 150.7,817.5 151.0,817.5 151.3,817.1 151.5,817.5 151.8,817.4 152.0,818.1 152.3,818.4 152.6,817.9 152.8,817.3 153.1,818.2 153.4,817.2 153.6,817.4 153.9,817.3 154.2,817.6 154.4,817.5 154.7,817.0 155.0,817.2 155.2,817.3 155.5,817.4 155.7,817.2 156.0,816.8 156.3,817.2 156.5,817.3 156.8,817.6 157.1,817.1 157.3,817.5 157.6,817.6 157.9,816.8 158.1,817.3 158.4,817.8 158.6,817.3 158.9,816.4 159.2,817.1 159.4,817.5 159.7,817.4 160.0,816.7 160.2,816.8 160.5,816.9 160.8,817.0 161.0,816.8 161.3,816.4 161.5,816.7 161.8,816.9 162.1,817.4 162.3,816.7 162.6,816.3 162.9,816.6 163.1,817.3 163.4,816.7 163.7,816.3 163.9,817.0 164.2,816.6 164.5,816.3 164.7,816.1 165.0,817.3 165.2,817.3 165.5,816.5 165.8,816.4 166.0,816.8 166.3,816.6 166.6,816.8 166.8,816.2 167.1,817.3 167.4,816.4 167.6,817.0 167.9,816.7 168.1,817.0 168.4,816.8 168.7,816.4 168.9,816.4 169.2,815.7 169.5,816.4 169.7,816.2 170.0,816.1 170.3,816.1 170.5,815.7 170.8,816.1 171.0,816.1 171.3,816.2 171.6,816.1 171.8,816.1 172.1,815.7 172.4,816.0 172.6,816.0 172.9,816.0 173.2,815.7 173.4,816.1 173.7,815.6 173.9,816.1 174.2,815.6 174.5,815.1 174.7,815.7 175.0,815.8 175.3,816.1 175.5,815.4 175.8,815.7 176.1,815.3 176.3,815.8 176.6,815.4 176.9,814.9 177.1,815.4 177.4,815.6 177.6,815.9 177.9,815.5 178.2,815.2 178.4,815.2 178.7,815.8 179.0,815.7 179.2,815.7 179.5,815.6 179.8,815.4 180.0,815.1 180.3,814.5 180.5,815.1 180.8,814.6 181.1,815.7 181.3,814.5 181.6,814.8 181.9,814.9 182.1,814.7 182.4,814.8 182.7,814.3 182.9,814.6 183.2,815.5 183.4,815.5 183.7,814.3 184.0,814.9 184.2,814.3 184.5,814.9 184.8,815.0 185.0,814.9 185.3,814.7 185.6,814.7 185.8,815.0 186.1,770.7 186.4,770.5 186.6,771.0 186.9,770.4 187.1,770.1 187.4,768.7 187.7,767.9 187.9,767.6 188.2,766.9 188.5,766.1 188.7,765.3 189.0,764.4 189.3,763.7 189.5,763.2 189.8,762.3 190.0,762.5 190.3,761.2 190.6,760.6 190.8,760.6 191.1,759.8 191.4,758.6 191.6,758.1 191.9,758.0 192.2,757.1 192.4,755.6 192.7,755.2 192.9,754.9 193.2,753.7 193.5,754.0 193.7,753.0 194.0,751.5 194.3,750.9 194.5,750.2 194.8,748.4 195.1,746.9 195.3,747.6 195.6,745.3 195.9,744.8 196.1,743.4 196.4,742.8 196.6,740.0 196.9,740.3 197.2,738.9 197.4,735.7 197.7,732.3 198.0,728.5 198.2,724.7 198.5,720.4 198.8,717.5 199.0,713.4 199.3,713.3 199.5,711.6 199.8,710.6 200.1,709.9 200.3,706.4 200.6,706.9 200.9,705.5 201.1,704.7 201.4,703.4 201.7,702.4 201.9,700.3 202.2,699.7 202.4,698.3 202.7,697.4 203.0,697.2 203.2,695.8 203.5,695.2 203.8,694.1 204.0,693.7 204.3,692.7 204.6,691.7 204.8,690.8 205.1,690.7 205.3,689.2 205.6,689.2 205.9,688.1 206.1,687.2 206.4,686.4 206.7,686.7 206.9,685.3 207.2,684.1 207.5,682.9 207.7,682.8 208.0,681.3 208.3,682.1 208.5,680.8 208.8,680.0 209.0,679.7 209.3,679.0 209.6,678.2 209.8,678.4 210.1,677.2 210.4,676.5 210.6,676.5 210.9,676.8 211.2,675.8 211.4,675.1 211.7,674.6 211.9,673.4 212.2,673.4 212.5,671.4 212.7,671.7 213.0,671.9 213.3,670.9 213.5,669.6 213.8,669.4 214.1,669.6 214.3,668.6 214.6,669.1 214.8,667.8 215.1,668.8 215.4,668.2 215.6,668.1 215.9,668.3 216.2,668.1 216.4,667.4 216.7,667.5 217.0,667.6 217.2,667.2 217.5,666.5 217.8,666.7 218.0,666.8 218.3,666.7 218.5,667.4 218.8,666.5 219.1,666.6 219.3,666.0 219.6,666.4 219.9,665.8 220.1,666.3 220.4,665.3 220.7,665.9 220.9,665.4 221.2,665.0 221.4,665.3 221.7,665.0 222.0,664.4 222.2,664.0 222.5,665.5 222.8,665.0 223.0,664.2 223.3,664.1 223.6,664.6 223.8,664.3 224.1,664.3 224.3,663.2 224.6,664.1 224.9,664.5 225.1,664.6 225.4,664.4 225.7,663.2 225.9,663.8 226.2,662.8 226.5,663.2 226.7,663.3 227.0,663.1 227.3,662.9 227.5,662.8 227.8,663.5 228.0,663.3 228.3,663.2 228.6,662.8 228.8,662.9 229.1,663.3 229.4,663.0 229.6,661.8 229.9,661.6 230.2,662.8 230.4,662.2 230.7,662.3 230.9,662.6 231.2,661.8 231.5,662.1 231.7,661.2 232.0,661.7 232.3,661.9 232.5,662.9 232.8,661.7 233.1,661.2 233.3,661.8 233.6,661.0 233.8,661.0 234.1,662.0 234.4,661.3 234.6,661.0 234.9,660.7 235.2,660.9 235.4,660.9 235.7,660.9 236.0,660.8 236.2,660.6 236.5,661.0 236.8,660.2 237.0,660.5 237.3,660.1 237.5,660.5 237.8,660.0 238.1,660.1 238.3,659.7 238.6,659.8 238.9,659.6 239.1,660.0 239.4,659.9 239.7,659.9 239.9,660.3 240.2,659.8 240.4,659.2 240.7,659.3 241.0,659.9 241.2,659.4 241.5,659.2 241.8,660.0 242.0,659.2 242.3,659.2 242.6,659.0 242.8,659.1 243.1,659.9 243.3,660.0 243.6,658.3 243.9,659.2 244.1,658.5 244.4,658.4 244.7,658.9 244.9,659.3 245.2,658.2 245.5,658.8 245.7,658.5 246.0,658.5 246.2,658.2 246.5,658.1 246.8,659.1 247.0,659.1 247.3,658.4 247.6,658.4 247.8,658.0 248.1,658.3 248.4,658.3 248.6,657.3 248.9,657.6 249.2,657.6 249.4,657.6 249.7,658.3 249.9,658.0 250.2,657.9 250.5,658.3 250.7,658.2 251.0,657.7 251.3,658.2 251.5,657.4 251.8,657.4 252.1,657.7 252.3,657.7 252.6,657.2 252.8,657.2 253.1,657.2 253.4,657.8 253.6,658.0 253.9,656.3 254.2,657.4 254.4,657.3 254.7,657.9 255.0,657.4 255.2,657.3 255.5,656.6 255.7,658.0 256.0,657.5 256.3,657.1 256.5,657.1 256.8,657.2 257.1,657.0 257.3,657.5 257.6,656.7 257.9,656.3 258.1,656.7 258.4,657.0 258.7,656.2 258.9,656.5 259.2,657.2 259.4,656.9 259.7,656.9 260.0,656.7 260.2,656.1 260.5,656.9 260.8,656.7 261.0,656.6 261.3,657.1 261.6,656.8 261.8,656.3 262.1,656.1 262.3,657.3 262.6,656.2 262.9,656.6 263.1,655.9 263.4,656.2 263.7,655.6 263.9,656.3 264.2,656.6 264.5,656.8 264.7,657.0 265.0,656.1 265.2,656.1 265.5,656.0 265.8,656.2 266.0,657.0 266.3,656.5 266.6,656.4 266.8,656.2 267.1,655.9 267.4,655.6 267.6,656.1 267.9,657.1 268.2,656.6 268.4,657.1 268.7,656.5 268.9,656.7 269.2,656.0 269.5,656.2 269.7,655.6 270.0,655.6 270.3,656.3 270.5,655.7 270.8,656.0 271.1,655.8 271.3,655.4 271.6,656.5 271.8,656.0 272.1,655.3 272.4,656.3 272.6,655.8 272.9,655.9 273.2,656.1 273.4,656.4 273.7,656.2 274.0,656.3 274.2,655.4 274.5,655.7 274.7,655.5 275.0,656.3 275.3,655.6 275.5,655.7 275.8,655.3 276.1,656.0 276.3,655.4 276.6,655.1 276.9,654.9 277.1,656.1 277.4,656.1 277.6,656.3 277.9,655.2 278.2,655.4 278.4,655.5 278.7,655.9 279.0,655.0 279.2,654.9 279.5,655.6 279.8,655.6 280.0,655.0 280.3,655.3 280.6,654.9 280.8,655.7 281.1,655.4 281.3,655.7 281.6,655.8 281.9,655.6 282.1,655.6 282.4,655.3 282.7,655.7 282.9,655.5 283.2,655.9 283.5,656.1 283.7,654.9 284.0,656.0 284.2,654.8 284.5,655.2 284.8,656.6 285.0,655.9 285.3,655.8 285.6,655.6 285.8,655.7 286.1,655.9 286.4,655.1 286.6,655.7 286.9,655.2 287.1,655.9 287.4,655.9 287.7,655.1 287.9,655.8 288.2,656.1 288.5,655.7 288.7,655.2 289.0,655.7 289.3,656.0 289.5,655.4 289.8,655.3 290.1,655.8 290.3,655.8 290.6,655.8 290.8,654.6 291.1,655.8 291.4,655.0 291.6,655.8 291.9,655.5 292.2,656.6 292.4,655.6 292.7,655.7 293.0,655.9 293.2,655.9 293.5,656.3 293.7,656.4 294.0,655.7 294.3,656.0 294.5,655.8 294.8,655.8 295.1,656.0 295.3,656.1 295.6,655.0 295.9,656.3 296.1,656.0 296.4,655.9 296.6,656.3 296.9,656.2 297.2,655.4 297.4,655.4 297.7,655.8 298.0,654.4 298.2,655.5 298.5,655.3 298.8,656.2 299.0,655.4 299.3,655.1 299.6,655.9 299.8,654.9 300.1,656.0 300.3,656.1 300.6,655.5 300.9,655.8 301.1,655.1 301.4,655.8 301.7,655.2 301.9,656.0 302.2,655.1 302.5,654.6 302.7,655.1 303.0,654.8 303.2,654.3 303.5,655.2 303.8,655.2 304.0,654.6 304.3,654.4 304.6,654.6 304.8,654.8 305.1,653.8 305.4,654.8 305.6,654.3 305.9,654.1 306.1,653.7 306.4,654.2 306.7,654.3 306.9,653.0 307.2,654.1 307.5,653.4 307.7,653.7 308.0,653.8 308.3,653.5 308.5,653.5 308.8,653.2 309.1,654.4 309.3,653.2 309.6,653.1 309.8,653.5 310.1,653.2 310.4,652.0 310.6,652.1 310.9,652.5 311.2,652.6 311.4,652.8 311.7,652.0 312.0,652.7 312.2,652.8 312.5,652.1 312.7,652.7 313.0,652.6 313.3,651.6 313.5,652.8 313.8,652.1 314.1,651.9 314.3,651.8 314.6,652.5 314.9,651.9 315.1,651.8 315.4,650.8 315.6,651.1 315.9,651.8 316.2,651.1 316.4,651.1 316.7,651.3 317.0,651.3 317.2,651.3 317.5,651.7 317.8,651.3 318.0,650.5 318.3,650.3 318.5,650.0 318.8,650.9 319.1,650.4 319.3,651.6 319.6,650.6 319.9,651.0 320.1,650.0 320.4,651.0 320.7,650.6 320.9,650.5 321.2,649.8 321.5,649.5 321.7,650.2 322.0,648.9 322.2,649.5 322.5,649.8 322.8,649.2 323.0,649.3 323.3,648.9 323.6,649.0 323.8,648.1 324.1,648.4 324.4,649.1 324.6,648.4 324.9,648.3 325.1,649.0 325.4,648.8 325.7,648.7 325.9,649.3 326.2,647.9 326.5,648.1 326.7,647.4 327.0,648.1 327.3,647.7 327.5,647.4 327.8,647.2 328.0,647.3 328.3,647.8 328.6,646.3 328.8,646.8 329.1,646.5 329.4,646.3 329.6,646.3 329.9,646.6 330.2,646.5 330.4,646.3 330.7,647.2 331.0,646.1 331.2,646.7 331.5,646.0 331.7,646.6 332.0,645.7 332.3,646.1 332.5,644.8 332.8,645.7 333.1,645.4 333.3,645.9 333.6,645.6 333.9,645.4 334.1,645.4 334.4,645.4 334.6,645.4 334.9,644.6 335.2,645.0 335.4,645.1 335.7,644.5 336.0,644.9 336.2,644.6 336.5,644.6 336.8,644.7 337.0,644.3 337.3,644.5 337.5,644.5 337.8,643.8 338.1,643.9 338.3,644.3 338.6,643.8 338.9,643.5 339.1,643.3 339.4,643.2 339.7,643.1 339.9,642.9 340.2,643.3 340.5,643.3 340.7,642.6 341.0,642.9 341.2,642.7 341.5,642.3 341.8,642.1 342.0,641.9 342.3,642.6 342.6,642.3 342.8,641.9 343.1,642.7 343.4,642.5 343.6,641.7 343.9,642.1 344.1,642.2 344.4,641.4 344.7,641.4 344.9,641.2 345.2,641.6 345.5,641.6 345.7,641.5 346.0,641.2 346.3,642.1 346.5,641.4 346.8,640.8 347.0,641.3 347.3,641.0 347.6,640.8 347.8,640.6 348.1,640.9 348.4,641.2 348.6,639.5 348.9,640.8 349.2,639.7 349.4,641.1 349.7,640.3 350.0,640.4 350.2,639.4 350.5,639.3 350.7,639.6 351.0,640.4 351.3,640.3 351.5,640.2 351.8,640.0 352.1,639.6 352.3,640.0 352.6,639.7 352.9,638.9 353.1,638.8 353.4,640.2 353.6,639.7 353.9,639.4 354.2,638.6 354.4,639.2 354.7,638.2 355.0,638.8 355.2,638.3 355.5,639.2 355.8,638.9 356.0,638.3 356.3,638.4 356.5,639.3 356.8,638.6 357.1,638.3 357.3,638.1 357.6,638.5 357.9,637.5 358.1,638.1 358.4,637.5 358.7,637.8 358.9,637.9 359.2,638.0 359.4,638.3 359.7,637.4 360.0,637.3 360.2,637.2 360.5,637.7 360.8,637.9 361.0,637.5 361.3,637.5 361.6,637.3 361.8,636.8 362.1,637.5 362.4,637.3 362.6,636.7 362.9,636.5 363.1,635.9 363.4,636.5 363.7,637.1 363.9,637.1 364.2,636.9 364.5,636.5 364.7,636.3 365.0,636.4 365.3,636.6 365.5,636.4 365.8,636.3 366.0,636.0 366.3,636.2 366.6,636.5 366.8,636.6 367.1,635.5 367.4,636.1 367.6,636.1 367.9,636.0 368.2,635.5 368.4,636.1 368.7,635.8 368.9,636.0 369.2,635.6 369.5,636.2 369.7,635.7 370.0,635.3 370.3,635.2 370.5,635.4 370.8,635.5 371.1,634.9 371.3,635.2 371.6,634.9 371.9,636.0 372.1,635.9 372.4,635.1 372.6,635.5 372.9,635.5 373.2,635.7 373.4,634.6 373.7,635.7 374.0,635.1 374.2,635.7 374.5,635.2 374.8,634.1 375.0,634.0 375.3,635.2 375.5,635.4 375.8,634.3 376.1,635.3 376.3,635.6 376.6,634.7 376.9,635.2 377.1,635.4 377.4,634.3 377.7,635.0 377.9,635.1 378.2,634.5 378.4,634.7 378.7,634.1 379.0,634.5 379.2,633.8 379.5,634.0 379.8,633.6 380.0,633.9 380.3,634.3 380.6,634.1 380.8,634.3 381.1,634.9 381.4,634.7 381.6,633.8 381.9,635.1 382.1,634.4 382.4,634.6 382.7,634.0 382.9,634.4 383.2,633.8 383.5,634.0 383.7,634.1 384.0,634.2 384.3,634.7 384.5,633.7 384.8,634.3 385.0,633.8 385.3,633.5 385.6,633.2 385.8,633.3 386.1,632.9 386.4,634.2 386.6,633.3 386.9,633.0 387.2,633.5 387.4,634.1 387.7,633.5 387.9,634.0 388.2,634.0 388.5,633.3 388.7,633.9 389.0,634.3 389.3,634.1 389.5,633.1 389.8,634.3 390.1,633.7 390.3,633.9 390.6,633.5 390.8,634.1 391.1,634.4 391.4,634.3 391.6,634.5 391.9,633.0 392.2,634.1 392.4,634.3 392.7,633.7 393.0,634.0 393.2,634.3 393.5,634.0 393.8,634.2 394.0,633.9 394.3,633.7 394.5,634.5 394.8,634.4 395.1,634.5 395.3,634.0 395.6,634.3 395.9,634.2 396.1,634.2 396.4,634.8 396.7,634.5 396.9,634.0 397.2,634.3 397.4,634.3 397.7,634.8 398.0,634.9 398.2,635.1 398.5,634.9 398.8,634.8 399.0,635.4 399.3,634.4 399.6,635.2 399.8,634.8 400.1,634.7 400.3,635.2 400.6,635.7 400.9,634.5 401.1,634.6 401.4,634.8 401.7,634.2 401.9,634.2 402.2,634.9 402.5,634.4 402.7,635.0 403.0,634.3 403.3,633.5 403.5,634.4 403.8,633.6 404.0,634.5 404.3,633.9 404.6,633.2 404.8,632.8 405.1,633.3 405.4,633.1 405.6,632.6 405.9,634.2 406.2,633.8 406.4,632.2 406.7,631.9 406.9,632.6 407.2,632.7 407.5,632.5 407.7,632.5 408.0,632.7 408.3,632.4 408.5,632.3 408.8,631.9 409.1,631.8 409.3,631.6 409.6,631.7 409.8,632.2 410.1,631.2 410.4,632.8 410.6,631.6 410.9,631.5 411.2,631.8 411.4,630.7 411.7,631.9 412.0,631.9 412.2,631.6 412.5,631.1 412.8,630.9 413.0,631.2 413.3,630.9 413.5,631.4 413.8,631.3 414.1,630.9 414.3,631.5 414.6,630.8 414.9,631.0 415.1,630.5 415.4,631.2 415.7,630.9 415.9,630.9 416.2,630.8 416.4,631.0 416.7,630.6 417.0,631.0 417.2,630.2 417.5,630.1 417.8,630.3 418.0,630.3 418.3,630.6 418.6,630.6 418.8,630.2 419.1,630.4 419.3,630.5 419.6,629.9 419.9,629.9 420.1,630.0 420.4,630.1 420.7,629.8 420.9,630.0 421.2,629.8 421.5,629.5 421.7,629.4 422.0,629.5 422.3,630.2 422.5,629.5 422.8,630.6 423.0,630.3 423.3,629.8 423.6,629.4 423.8,630.5 424.1,630.8 424.4,630.9 424.6,631.4 424.9,631.0 425.2,631.2 425.4,631.5 425.7,630.8 425.9,631.7 426.2,630.8 426.5,631.2 426.7,631.4 427.0,632.0 427.3,632.1 427.5,632.8 427.8,632.0 428.1,633.2 428.3,633.8 428.6,635.2 428.8,635.6 429.1,637.4 429.4,638.6 429.6,638.4 429.9,639.1 430.2,641.8 430.4,640.9 430.7,642.5 431.0,643.3 431.2,645.3 431.5,646.4 431.7,647.1 432.0,649.1 432.3,650.2 432.5,651.6 432.8,652.1 433.1,653.9 433.3,656.2 433.6,657.2 433.9,658.9 434.1,660.4 434.4,661.2 434.7,661.5 434.9,663.0 435.2,663.8 435.4,665.3 435.7,666.4 436.0,656.3 436.2,646.3 436.5,635.5 436.8,625.6 437.0,615.1 437.3,604.0 437.6,594.0 437.8,582.2 438.1,613.1 438.3,646.5 438.6,677.8 438.9,709.6 439.1,703.6 439.4,696.9 439.7,690.3 439.9,683.1 440.2,676.7 440.5,668.3 440.7,660.7 441.0,653.4 441.2,644.6 441.5,638.0 441.8,652.1 442.0,665.8 442.3,680.0 442.6,693.8 442.8,691.2 443.1,688.4 443.4,687.0 443.6,684.5 443.9,681.6 444.2,678.8 444.4,675.9 444.7,673.8 444.9,679.9 445.2,687.9 445.5,694.9 445.7,701.9 446.0,700.8 446.3,700.6 446.5,700.1 446.8,699.7 447.1,698.8 447.3,698.1 447.6,701.8 447.8,705.1 448.1,709.3 448.4,712.2 448.6,714.9 448.9,718.2 449.2,717.8 449.4,717.6 449.7,715.0 450.0,714.8 450.2,712.6 450.5,712.8 450.7,715.3 451.0,719.1 451.3,721.3 451.5,724.5 451.8,728.5 452.1,730.6 452.3,733.0 452.6,731.9 452.9,730.0 453.1,726.9 453.4,724.8 453.7,722.9 453.9,720.3 454.2,724.1 454.4,729.1 454.7,732.4 455.0,736.9 455.2,741.5 455.5,742.5 455.8,745.1 456.0,746.0 456.3,748.5 456.6,738.6 456.8,728.8 457.1,719.8 457.3,710.2 457.6,714.3 457.9,718.4 458.1,723.0 458.4,727.8 458.7,732.6 458.9,730.3 459.2,726.3 459.5,723.6 459.7,722.6 460.0,718.6 460.2,716.3 460.5,718.4 460.8,720.9 461.0,723.5 461.3,725.9 461.6,728.3 461.8,730.2 462.1,728.7 462.4,726.7 462.6,724.1 462.9,722.0 463.1,720.0 463.4,717.9 463.7,718.9 463.9,720.6 464.2,722.5 464.5,724.1 464.7,725.3 465.0,727.8 465.3,725.2 465.5,723.2 465.8,720.7 466.1,718.8 466.3,715.5 466.6,714.2 466.8,716.7 467.1,718.3 467.4,721.7 467.6,724.2 467.9,725.9 468.2,728.5 468.4,726.4 468.7,724.1 469.0,722.7 469.2,720.7 469.5,718.7 469.7,716.2 470.0,715.9 470.3,716.9 470.5,716.8 470.8,717.2 471.1,717.8 471.3,720.4 471.6,722.6 471.9,725.3 472.1,727.2 472.4,729.1 472.6,727.0 472.9,725.8 473.2,723.5 473.4,721.1 473.7,719.9 474.0,718.0 474.2,720.4 474.5,721.2 474.8,722.6 475.0,724.3 475.3,726.1 475.6,727.1 475.8,726.3 476.1,724.9 476.3,724.1 476.6,722.3 476.9,720.7 477.1,720.2 477.4,721.2 477.7,723.5 477.9,724.1 478.2,725.6 478.5,727.5 478.7,728.5 479.0,728.0 479.2,726.4 479.5,724.6 479.8,724.1 480.0,723.3 480.3,721.2 480.6,722.1 480.8,723.1 481.1,724.4 481.4,725.1 481.6,725.7 481.9,725.1 482.1,726.3 482.4,727.4"/>
<polyline fill="none" stroke="#0c3766" stroke-width="1.7" stroke-linejoin="round" points="56.0,807.9 56.9,807.7 57.8,809.3 58.8,808.3 59.7,809.8 60.6,808.4 61.5,807.4 62.5,809.7 63.4,808.6 64.3,809.1 65.2,808.7 66.2,808.6 67.1,808.5 68.0,808.1 68.9,808.3 69.9,807.9 70.8,808.0 71.7,807.9 72.6,809.1 73.5,808.4 74.5,808.9 75.4,809.3 76.3,807.3 77.2,808.5 78.2,808.6 79.1,810.2 80.0,808.8 80.9,808.1 81.9,808.8 82.8,809.1 83.7,807.7 84.6,808.9 85.6,808.9 86.5,808.8 87.4,808.8 88.3,807.9 89.2,808.3 90.2,808.7 91.1,808.9 92.0,808.8 92.9,807.5 93.9,808.9 94.8,808.2 95.7,809.8 96.6,808.5 97.6,808.2 98.5,807.8 99.4,808.5 100.3,808.3 101.3,808.5 102.2,807.9 103.1,807.2 104.0,808.5 104.9,809.3 105.9,808.3 106.8,808.8 107.7,808.5 108.6,808.8 109.6,809.6 110.5,810.3 111.4,810.2 112.3,811.6 113.3,810.9 114.2,812.0 115.1,811.4 116.0,812.0 117.0,812.6 117.9,813.7 118.8,813.1 119.7,814.0 120.6,813.9 121.6,813.6 122.5,813.7 123.4,815.5 124.3,814.2 125.3,814.2 126.2,814.7 127.1,815.5 128.0,816.1 129.0,815.1 129.9,816.8 130.8,817.9 131.7,817.1 132.7,817.1 133.6,818.0 134.5,818.2 135.4,815.0 136.3,817.3 137.3,816.5 138.2,818.2 139.1,819.3 140.0,817.7 141.0,815.9 141.9,818.3 142.8,819.7 143.7,817.8 144.7,817.9 145.6,817.6 146.5,818.9 147.4,818.0 148.4,818.3 149.3,816.5 150.2,817.4 151.1,816.4 152.0,817.5 153.0,820.0 153.9,819.7 154.8,816.6 155.7,816.2 156.7,816.1 157.6,817.2 158.5,819.3 159.4,817.6 160.4,816.5 161.3,815.2 162.2,817.3 163.1,817.5 164.1,817.7 165.0,815.5 165.9,815.6 166.8,818.8 167.7,815.0 168.7,817.5 169.6,818.1 170.5,818.1 171.4,817.0 172.4,813.2 173.3,812.8 174.2,817.3 175.1,816.6 176.1,815.4 177.0,815.0 177.9,816.0 178.8,817.3 179.8,815.7 180.7,816.0 181.6,817.2 182.5,814.8 183.4,816.6"/>
<polyline fill="none" stroke="#a87abb" stroke-width="1.3" stroke-linejoin="round" points="56.0,809.3 56.9,808.2 57.8,808.4 58.8,808.2 59.7,808.6 60.6,808.8 61.5,808.7 62.5,809.1 63.4,808.4 64.3,808.6 65.2,808.8 66.2,809.3 67.1,808.7 68.0,808.1 68.9,808.2 69.9,808.4 70.8,808.8 71.7,808.6 72.6,808.5 73.5,808.6 74.5,808.3 75.4,808.9 76.3,809.5 77.2,809.5 78.2,809.0 79.1,809.2 80.0,808.4 80.9,808.3 81.9,808.7 82.8,808.5 83.7,808.7 84.6,808.6 85.6,808.8 86.5,808.8 87.4,808.3 88.3,808.8 89.2,808.7 90.2,808.3 91.1,808.3 92.0,808.8 92.9,808.6 93.9,809.0 94.8,808.6 95.7,808.6 96.6,808.7 97.6,808.6 98.5,808.6 99.4,809.5 100.3,809.0 101.3,808.7 102.2,808.9 103.1,809.0 104.0,808.8 104.9,808.1 105.9,808.8 106.8,808.9 107.7,809.1 108.6,809.7 109.6,809.5 110.5,810.4 111.4,810.1 112.3,810.4 113.3,810.9"/>
<line x1="56" y1="0.0" x2="56" y2="288.4" stroke="#7d7d7d" stroke-width="1.6"/>
<line x1="51.2" y1="252.4" x2="56" y2="252.4" stroke="#222" stroke-width="1.2"/>
<text x="45" y="257.5" class="tk" text-anchor="end">10</text>
<line x1="51.2" y1="216.5" x2="56" y2="216.5" stroke="#222" stroke-width="1.2"/>
<text x="45" y="221.6" class="tk" text-anchor="end">20</text>
<line x1="51.2" y1="180.5" x2="56" y2="180.5" stroke="#222" stroke-width="1.2"/>
<text x="45" y="185.6" class="tk" text-anchor="end">30</text>
<line x1="51.2" y1="144.6" x2="56" y2="144.6" stroke="#222" stroke-width="1.2"/>
<text x="45" y="149.7" class="tk" text-anchor="end">40</text>
<line x1="51.2" y1="108.6" x2="56" y2="108.6" stroke="#222" stroke-width="1.2"/>
<text x="45" y="113.7" class="tk" text-anchor="end">50</text>
<line x1="51.2" y1="72.6" x2="56" y2="72.6" stroke="#222" stroke-width="1.2"/>
<text x="45" y="77.7" class="tk" text-anchor="end">60</text>
<line x1="51.2" y1="36.7" x2="56" y2="36.7" stroke="#222" stroke-width="1.2"/>
<text x="45" y="41.8" class="tk" text-anchor="end">70</text>
<text class="yl" transform="translate(12.3,143.4) rotate(-90)" text-anchor="middle">scattered light [a.u.]</text>
<line x1="56" y1="288.4" x2="56" y2="576.1" stroke="#7d7d7d" stroke-width="1.6"/>
<line x1="51.2" y1="540.1" x2="56" y2="540.1" stroke="#222" stroke-width="1.2"/>
<text x="45" y="545.2" class="tk" text-anchor="end">10</text>
<line x1="51.2" y1="504.2" x2="56" y2="504.2" stroke="#222" stroke-width="1.2"/>
<text x="45" y="509.3" class="tk" text-anchor="end">20</text>
<line x1="51.2" y1="468.2" x2="56" y2="468.2" stroke="#222" stroke-width="1.2"/>
<text x="45" y="473.3" class="tk" text-anchor="end">30</text>
<line x1="51.2" y1="432.3" x2="56" y2="432.3" stroke="#222" stroke-width="1.2"/>
<text x="45" y="437.4" class="tk" text-anchor="end">40</text>
<line x1="51.2" y1="396.3" x2="56" y2="396.3" stroke="#222" stroke-width="1.2"/>
<text x="45" y="401.4" class="tk" text-anchor="end">50</text>
<line x1="51.2" y1="360.3" x2="56" y2="360.3" stroke="#222" stroke-width="1.2"/>
<text x="45" y="365.4" class="tk" text-anchor="end">60</text>
<line x1="51.2" y1="324.4" x2="56" y2="324.4" stroke="#222" stroke-width="1.2"/>
<text x="45" y="329.5" class="tk" text-anchor="end">70</text>
<text class="yl" transform="translate(12.3,431.4) rotate(-90)" text-anchor="middle">scattered light [a.u.]</text>
<line x1="56" y1="576.1" x2="56" y2="868.4" stroke="#7d7d7d" stroke-width="1.6"/>
<line x1="51.2" y1="863.7" x2="56" y2="863.7" stroke="#222" stroke-width="1.2"/>
<text x="45" y="868.8" class="tk" text-anchor="end">0</text>
<line x1="51.2" y1="827.7" x2="56" y2="827.7" stroke="#222" stroke-width="1.2"/>
<text x="45" y="832.8" class="tk" text-anchor="end">10</text>
<line x1="51.2" y1="791.8" x2="56" y2="791.8" stroke="#222" stroke-width="1.2"/>
<text x="45" y="796.9" class="tk" text-anchor="end">20</text>
<line x1="51.2" y1="755.8" x2="56" y2="755.8" stroke="#222" stroke-width="1.2"/>
<text x="45" y="760.9" class="tk" text-anchor="end">30</text>
<line x1="51.2" y1="719.9" x2="56" y2="719.9" stroke="#222" stroke-width="1.2"/>
<text x="45" y="725.0" class="tk" text-anchor="end">40</text>
<line x1="51.2" y1="683.9" x2="56" y2="683.9" stroke="#222" stroke-width="1.2"/>
<text x="45" y="689.0" class="tk" text-anchor="end">50</text>
<line x1="51.2" y1="647.9" x2="56" y2="647.9" stroke="#222" stroke-width="1.2"/>
<text x="45" y="653.0" class="tk" text-anchor="end">60</text>
<line x1="51.2" y1="612.0" x2="56" y2="612.0" stroke="#222" stroke-width="1.2"/>
<text x="45" y="617.1" class="tk" text-anchor="end">70</text>
<text class="yl" transform="translate(12.3,719.1) rotate(-90)" text-anchor="middle">scattered light [a.u.]</text>
<line x1="56" y1="0.5" x2="500" y2="0.5" stroke="#111" stroke-width="1.3"/>
<line x1="51.3" y1="288.4" x2="500" y2="288.4" stroke="#1a1a1a" stroke-width="1.3"/>
<line x1="51.3" y1="576.1" x2="500" y2="576.1" stroke="#333" stroke-width="1.3"/>
<line x1="51.3" y1="863.7" x2="500" y2="863.7" stroke="#2a2a2a" stroke-width="1.3"/>
<line x1="499.3" y1="0" x2="499.3" y2="868.4" stroke="#444" stroke-width="1.3"/>
<line x1="119.3" y1="288.4" x2="119.3" y2="293.0" stroke="#222" stroke-width="1.1"/>
<line x1="182.7" y1="288.4" x2="182.7" y2="293.0" stroke="#222" stroke-width="1.1"/>
<line x1="246.0" y1="288.4" x2="246.0" y2="293.0" stroke="#222" stroke-width="1.1"/>
<line x1="309.3" y1="288.4" x2="309.3" y2="293.0" stroke="#222" stroke-width="1.1"/>
<line x1="372.6" y1="288.4" x2="372.6" y2="293.0" stroke="#222" stroke-width="1.1"/>
<line x1="436.0" y1="288.4" x2="436.0" y2="293.0" stroke="#222" stroke-width="1.1"/>
<line x1="119.3" y1="576.1" x2="119.3" y2="580.7" stroke="#222" stroke-width="1.1"/>
<line x1="182.7" y1="576.1" x2="182.7" y2="580.7" stroke="#222" stroke-width="1.1"/>
<line x1="246.0" y1="576.1" x2="246.0" y2="580.7" stroke="#222" stroke-width="1.1"/>
<line x1="309.3" y1="576.1" x2="309.3" y2="580.7" stroke="#222" stroke-width="1.1"/>
<line x1="372.6" y1="576.1" x2="372.6" y2="580.7" stroke="#222" stroke-width="1.1"/>
<line x1="436.0" y1="576.1" x2="436.0" y2="580.7" stroke="#222" stroke-width="1.1"/>
<line x1="119.3" y1="863.7" x2="119.3" y2="868.3" stroke="#222" stroke-width="1.1"/>
<line x1="182.7" y1="863.7" x2="182.7" y2="868.3" stroke="#222" stroke-width="1.1"/>
<line x1="246.0" y1="863.7" x2="246.0" y2="868.3" stroke="#222" stroke-width="1.1"/>
<line x1="309.3" y1="863.7" x2="309.3" y2="868.3" stroke="#222" stroke-width="1.1"/>
<line x1="372.6" y1="863.7" x2="372.6" y2="868.3" stroke="#222" stroke-width="1.1"/>
<line x1="436.0" y1="863.7" x2="436.0" y2="868.3" stroke="#222" stroke-width="1.1"/>
<text x="56.0" y="882.6" class="tk" text-anchor="middle">0</text>
<text x="119.3" y="882.6" class="tk" text-anchor="middle">24</text>
<text x="182.7" y="882.6" class="tk" text-anchor="middle">48</text>
<text x="246.0" y="882.6" class="tk" text-anchor="middle">72</text>
<text x="309.3" y="882.6" class="tk" text-anchor="middle">96</text>
<text x="372.6" y="882.6" class="tk" text-anchor="middle">120</text>
<text x="436.0" y="882.6" class="tk" text-anchor="middle">144</text>
<text x="499.3" y="882.6" class="tk" text-anchor="middle">168</text>
<text x="270.5" y="902.2" class="xl" text-anchor="middle">time [h]</text>
<text x="65.6" y="32.4" class="pl">A</text>
<text x="62.6" y="318.9" class="pl">B</text>
<text x="63.8" y="609.2" class="pl">C</text>
<path d="M119.9 161.2 V214.6 M107.1 204.9 L119.9 214.6 L132.7 204.9" fill="none" stroke="#333" stroke-width="1.5"/>
<path d="M182.8 113.2 V166.9 M170.0 157.2 L182.8 166.9 L195.6 157.2" fill="none" stroke="#333" stroke-width="1.5"/>
<path d="M308.6 146.6 V200.2 M295.8 190.5 L308.6 200.2 L321.4 190.5" fill="none" stroke="#333" stroke-width="1.5"/>
<line x1="423.2" y1="17.3" x2="453.8" y2="17.3" stroke="#e4566b" stroke-width="4"/>
<text x="462.4" y="21.9" class="lg">A01</text>
<line x1="423.2" y1="34.7" x2="453.8" y2="34.7" stroke="#f8ab52" stroke-width="4"/>
<text x="462.4" y="39.3" class="lg">B01</text>
<line x1="423.2" y1="52.1" x2="453.8" y2="52.1" stroke="#afcb52" stroke-width="4"/>
<text x="462.4" y="56.7" class="lg">C01</text>
<line x1="423.2" y1="69.5" x2="453.8" y2="69.5" stroke="#a5bce4" stroke-width="4"/>
<text x="462.4" y="74.1" class="lg">D01</text>
<line x1="423.2" y1="86.9" x2="453.8" y2="86.9" stroke="#0c3766" stroke-width="4"/>
<text x="462.4" y="91.5" class="lg">E01</text>
<line x1="423.2" y1="104.3" x2="453.8" y2="104.3" stroke="#a87abb" stroke-width="4"/>
<text x="462.4" y="108.9" class="lg">F01</text>
<line x1="421.3" y1="305.9" x2="452.0" y2="305.9" stroke="#e4566b" stroke-width="4"/>
<text x="460.6" y="310.5" class="lg">A03</text>
<line x1="421.3" y1="323.2" x2="452.0" y2="323.2" stroke="#f8ab52" stroke-width="4"/>
<text x="460.6" y="327.9" class="lg">B03</text>
<line x1="421.3" y1="340.6" x2="452.0" y2="340.6" stroke="#afcb52" stroke-width="4"/>
<text x="460.6" y="345.2" class="lg">C03</text>
<line x1="421.3" y1="357.9" x2="452.0" y2="357.9" stroke="#a5bce4" stroke-width="4"/>
<text x="460.6" y="362.6" class="lg">D03</text>
<line x1="421.3" y1="375.3" x2="452.0" y2="375.3" stroke="#0c3766" stroke-width="4"/>
<text x="460.6" y="379.9" class="lg">E03</text>
<line x1="421.3" y1="392.6" x2="452.0" y2="392.6" stroke="#a87abb" stroke-width="4"/>
<text x="460.6" y="397.2" class="lg">F03</text>
<line x1="64.5" y1="634.1" x2="94.1" y2="634.1" stroke="#e4566b" stroke-width="4"/>
<text x="103.4" y="638.7" class="lg">A05</text>
<line x1="64.5" y1="651.4" x2="94.1" y2="651.4" stroke="#f8ab52" stroke-width="4"/>
<text x="103.4" y="656.0" class="lg">B05</text>
<line x1="64.5" y1="668.7" x2="94.1" y2="668.7" stroke="#afcb52" stroke-width="4"/>
<text x="103.4" y="673.3" class="lg">C05</text>
<line x1="64.5" y1="686.0" x2="94.1" y2="686.0" stroke="#a5bce4" stroke-width="4"/>
<text x="103.4" y="690.6" class="lg">D05</text>
<line x1="64.5" y1="703.3" x2="94.1" y2="703.3" stroke="#0c3766" stroke-width="4"/>
<text x="103.4" y="707.9" class="lg">E05</text>
<line x1="64.5" y1="720.6" x2="94.1" y2="720.6" stroke="#a87abb" stroke-width="4"/>
<text x="103.4" y="725.2" class="lg">F05</text>
<defs><filter id="f0_6" x="-30%" y="-30%" width="160%" height="160%"><feGaussianBlur stdDeviation="0.6"/></filter><filter id="f1" x="-30%" y="-30%" width="160%" height="160%"><feGaussianBlur stdDeviation="1"/></filter><filter id="f1_5" x="-30%" y="-30%" width="160%" height="160%"><feGaussianBlur stdDeviation="1.5"/></filter><filter id="f2" x="-30%" y="-30%" width="160%" height="160%"><feGaussianBlur stdDeviation="2"/></filter><filter id="f2_5" x="-30%" y="-30%" width="160%" height="160%"><feGaussianBlur stdDeviation="2.5"/></filter><filter id="f3" x="-30%" y="-30%" width="160%" height="160%"><feGaussianBlur stdDeviation="3"/></filter><filter id="f4" x="-30%" y="-30%" width="160%" height="160%"><feGaussianBlur stdDeviation="4"/></filter>
<linearGradient id="gPeach1" x1="0" y1="0" x2="0" y2="1"><stop offset="0" stop-color="#c09c84"/><stop offset="0.45" stop-color="#dcaa7c"/><stop offset="1" stop-color="#f2ba78"/></linearGradient>
<radialGradient id="gPeach2" cx="0.6" cy="0.72" r="0.8"><stop offset="0" stop-color="#f6c890"/><stop offset="0.6" stop-color="#e2ac7a"/><stop offset="1" stop-color="#c49a80"/></radialGradient>
<radialGradient id="gPeach3" cx="0.6" cy="0.6" r="0.8"><stop offset="0" stop-color="#f2b470"/><stop offset="0.7" stop-color="#e8a862"/><stop offset="1" stop-color="#d09858"/></radialGradient>
</defs><text x="619.4" y="31.1" class="hd" text-anchor="middle">below</text>
<text x="707.0" y="31.1" class="hd" text-anchor="middle">above</text>
<g transform="translate(585.0,46.1)"><clipPath id="c0"><rect width="71.6" height="65.8"/></clipPath><g clip-path="url(#c0)"><rect width="71.6" height="65.8" fill="#293a52"/><ellipse cx="10.0" cy="10.0" rx="22.0" ry="20.0" fill="#34486a" opacity="0.50" filter="url(#f4)" /><polygon points="24.0,-2.0 76.0,-2.0 76.0,45.0" fill="#17131b" opacity="1.00" filter="url(#f0_6)" /><path d="M58.0,35.0 L57.9,36.6 L57.8,38.3 L57.5,39.9 L56.9,41.4 L56.1,42.8 L54.9,44.1 L53.1,44.9 L50.8,45.2 L51.6,47.4 L51.8,49.4 L51.4,51.1 L50.5,52.5 L49.4,53.8 L48.2,54.8 L46.9,55.8 L45.5,56.7 L44.1,57.4 L42.6,58.1 L41.0,58.6 L39.4,58.9 L37.8,58.9 L36.1,58.5 L34.5,57.3 L33.0,55.5 L31.5,57.3 L29.9,58.5 L28.2,58.9 L26.6,58.9 L25.0,58.6 L23.4,58.1 L21.9,57.4 L20.5,56.7 L19.1,55.8 L17.8,54.8 L16.6,53.8 L15.5,52.5 L14.6,51.1 L14.2,49.4 L14.4,47.4 L15.2,45.2 L12.9,44.9 L11.1,44.1 L9.9,42.8 L9.1,41.4 L8.5,39.9 L8.2,38.3 L8.1,36.6 L8.0,35.0 L8.1,33.4 L8.2,31.7 L8.5,30.1 L9.1,28.6 L9.9,27.2 L11.1,25.9 L12.9,25.1 L15.2,24.8 L14.4,22.6 L14.2,20.6 L14.6,18.9 L15.5,17.5 L16.6,16.2 L17.8,15.2 L19.1,14.2 L20.5,13.3 L21.9,12.6 L23.4,11.9 L25.0,11.4 L26.6,11.1 L28.2,11.1 L29.9,11.5 L31.5,12.7 L33.0,14.5 L34.5,12.7 L36.1,11.5 L37.8,11.1 L39.4,11.1 L41.0,11.4 L42.6,11.9 L44.1,12.6 L45.5,13.3 L46.9,14.2 L48.2,15.2 L49.4,16.2 L50.5,17.5 L51.4,18.9 L51.8,20.6 L51.6,22.6 L50.8,24.7 L53.1,25.1 L54.9,25.9 L56.1,27.2 L56.9,28.6 L57.5,30.1 L57.8,31.7 L57.9,33.4 Z" fill="#4a5870" opacity="1.00" filter="url(#f1_5)" /><ellipse cx="32.0" cy="36.0" rx="13.0" ry="12.0" fill="#2c3a52" opacity="0.90" filter="url(#f3)" /><path d="M57.0,35.0 L56.9,36.6 L56.8,38.1 L56.5,39.7 L56.0,41.2 L55.2,42.5 L53.9,43.7 L52.2,44.5 L49.9,44.8 L50.8,46.9 L51.0,48.8 L50.6,50.4 L49.8,51.8 L48.8,53.0 L47.6,54.0 L46.3,55.0 L45.0,55.8 L43.6,56.5 L42.2,57.2 L40.7,57.7 L39.2,58.0 L37.6,58.0 L36.0,57.5 L34.4,56.3 L33.0,54.5 L31.6,56.3 L30.0,57.5 L28.4,58.0 L26.8,58.0 L25.3,57.7 L23.8,57.2 L22.4,56.5 L21.0,55.8 L19.7,55.0 L18.4,54.0 L17.2,53.0 L16.2,51.8 L15.4,50.4 L15.0,48.8 L15.2,46.9 L16.1,44.8 L13.8,44.5 L12.1,43.7 L10.8,42.5 L10.0,41.2 L9.5,39.7 L9.2,38.1 L9.1,36.6 L9.0,35.0 L9.1,33.4 L9.2,31.9 L9.5,30.3 L10.0,28.8 L10.8,27.5 L12.1,26.3 L13.8,25.5 L16.1,25.2 L15.2,23.1 L15.0,21.2 L15.4,19.6 L16.2,18.2 L17.2,17.0 L18.4,16.0 L19.7,15.0 L21.0,14.2 L22.4,13.5 L23.8,12.8 L25.3,12.3 L26.8,12.0 L28.4,12.0 L30.0,12.5 L31.6,13.7 L33.0,15.5 L34.4,13.7 L36.0,12.5 L37.6,12.0 L39.2,12.0 L40.7,12.3 L42.2,12.8 L43.6,13.5 L45.0,14.2 L46.3,15.0 L47.6,16.0 L48.8,17.0 L49.8,18.2 L50.6,19.6 L51.0,21.2 L50.8,23.1 L49.9,25.2 L52.2,25.5 L53.9,26.3 L55.2,27.5 L56.0,28.8 L56.5,30.3 L56.8,31.9 L56.9,33.4 Z" fill="none" opacity="0.75" filter="url(#f1_5)" class="ring" stroke="#d8ac68" stroke-width="2.8"/><path d="M50.0,37.0 L50.0,38.1 L49.8,39.2 L49.6,40.3 L49.3,41.4 L48.7,42.3 L47.9,43.2 L46.7,43.7 L45.1,44.0 L45.7,45.5 L45.8,46.8 L45.5,47.9 L44.9,48.9 L44.2,49.8 L43.3,50.5 L42.4,51.1 L41.5,51.7 L40.5,52.2 L39.5,52.7 L38.5,53.1 L37.4,53.3 L36.2,53.3 L35.1,53.0 L34.0,52.2 L33.0,51.0 L32.0,52.2 L30.9,53.0 L29.8,53.3 L28.6,53.3 L27.5,53.1 L26.5,52.7 L25.5,52.2 L24.5,51.7 L23.6,51.1 L22.7,50.5 L21.8,49.8 L21.1,48.9 L20.5,47.9 L20.2,46.8 L20.3,45.5 L20.9,44.0 L19.3,43.7 L18.1,43.2 L17.3,42.3 L16.7,41.4 L16.4,40.3 L16.2,39.2 L16.0,38.1 L16.0,37.0 L16.0,35.9 L16.2,34.8 L16.4,33.7 L16.7,32.6 L17.3,31.7 L18.1,30.8 L19.3,30.3 L20.9,30.0 L20.3,28.5 L20.2,27.2 L20.5,26.1 L21.1,25.1 L21.8,24.2 L22.7,23.5 L23.6,22.9 L24.5,22.3 L25.5,21.8 L26.5,21.3 L27.5,20.9 L28.6,20.7 L29.8,20.7 L30.9,21.0 L32.0,21.8 L33.0,23.0 L34.0,21.8 L35.1,21.0 L36.2,20.7 L37.4,20.7 L38.5,20.9 L39.5,21.3 L40.5,21.8 L41.5,22.3 L42.4,22.9 L43.3,23.5 L44.2,24.2 L44.9,25.1 L45.5,26.1 L45.8,27.2 L45.7,28.5 L45.1,30.0 L46.7,30.3 L47.9,30.8 L48.7,31.7 L49.3,32.6 L49.6,33.7 L49.8,34.8 L50.0,35.9 Z" fill="none" opacity="0.60" filter="url(#f1_5)" class="ring" stroke="#c09868" stroke-width="2.0"/><ellipse cx="18.0" cy="50.0" rx="8.0" ry="6.0" fill="#c8a068" opacity="0.60" filter="url(#f2_5)" /><circle cx="25.0" cy="20.3" r="7.4" fill="#c4b4ae" opacity="1.00" filter="url(#f0_6)" /><circle cx="26.0" cy="45.5" r="7.4" fill="#eab28a" opacity="1.00" filter="url(#f0_6)" /><path d="M38,17 L46,19 L44,29 L38,27 Z" fill="#f2c070" opacity="1.00" filter="url(#f1)" /><path d="M49,32 L57,34 L55,44 L49,41 Z" fill="#f2b868" opacity="1.00" filter="url(#f1)" /><path d="M14,51 C18,57 24,60 31,59 L29,55 C24,56 20,54 17,50 Z" fill="#fff8ea" opacity="1.00" filter="url(#f0_6)" /><ellipse cx="38.0" cy="56.0" rx="8.0" ry="3.0" fill="#e8b878" opacity="0.90" filter="url(#f1)" /><ellipse cx="10.0" cy="38.0" rx="2.5" ry="7.0" fill="#d0a870" opacity="0.70" filter="url(#f1)" /><ellipse cx="48.0" cy="24.0" rx="3.0" ry="7.0" fill="#a8a8b0" opacity="0.50" filter="url(#f1_5)" /></g></g>
<g transform="translate(671.7,46.1)"><clipPath id="c1"><rect width="72.1" height="65.8"/></clipPath><g clip-path="url(#c1)"><rect width="72.1" height="65.8" fill="#0a0a0a"/><path d="M70.5,34.0 L70.4,36.3 L70.2,38.5 L69.8,40.7 L69.1,42.9 L68.0,44.9 L66.5,46.6 L64.3,48.0 L61.5,48.8 L62.3,51.6 L62.2,54.1 L61.4,56.3 L60.2,58.2 L58.7,59.9 L57.0,61.4 L55.2,62.7 L53.2,63.9 L51.3,64.9 L49.2,65.9 L47.1,66.6 L44.9,67.1 L42.6,67.2 L40.3,66.7 L38.1,65.5 L36.0,63.5 L33.9,65.5 L31.7,66.7 L29.4,67.2 L27.1,67.1 L24.9,66.6 L22.8,65.9 L20.7,64.9 L18.8,63.9 L16.8,62.7 L15.0,61.4 L13.3,59.9 L11.8,58.2 L10.6,56.3 L9.8,54.1 L9.7,51.6 L10.5,48.8 L7.7,48.0 L5.5,46.6 L4.0,44.9 L2.9,42.9 L2.2,40.7 L1.8,38.5 L1.6,36.3 L1.5,34.0 L1.6,31.7 L1.8,29.5 L2.2,27.3 L2.9,25.1 L4.0,23.1 L5.5,21.4 L7.7,20.0 L10.5,19.3 L9.7,16.4 L9.8,13.9 L10.6,11.7 L11.8,9.8 L13.3,8.1 L15.0,6.6 L16.8,5.3 L18.7,4.1 L20.7,3.1 L22.8,2.1 L24.9,1.4 L27.1,0.9 L29.4,0.8 L31.7,1.3 L33.9,2.5 L36.0,4.5 L38.1,2.5 L40.3,1.3 L42.6,0.8 L44.9,0.9 L47.1,1.4 L49.2,2.1 L51.3,3.1 L53.2,4.1 L55.2,5.3 L57.0,6.6 L58.7,8.1 L60.2,9.8 L61.4,11.7 L62.2,13.9 L62.3,16.4 L61.5,19.2 L64.3,20.0 L66.5,21.4 L68.0,23.1 L69.1,25.1 L69.8,27.3 L70.2,29.5 L70.4,31.7 Z" fill="#30342c" opacity="1.00" filter="url(#f0_6)" /><clipPath id="fa00"><path d="M70.5,34.0 L70.4,36.3 L70.2,38.5 L69.8,40.7 L69.1,42.9 L68.0,44.9 L66.5,46.6 L64.3,48.0 L61.5,48.8 L62.3,51.6 L62.2,54.1 L61.4,56.3 L60.2,58.2 L58.7,59.9 L57.0,61.4 L55.2,62.7 L53.2,63.9 L51.3,64.9 L49.2,65.9 L47.1,66.6 L44.9,67.1 L42.6,67.2 L40.3,66.7 L38.1,65.5 L36.0,63.5 L33.9,65.5 L31.7,66.7 L29.4,67.2 L27.1,67.1 L24.9,66.6 L22.8,65.9 L20.7,64.9 L18.8,63.9 L16.8,62.7 L15.0,61.4 L13.3,59.9 L11.8,58.2 L10.6,56.3 L9.8,54.1 L9.7,51.6 L10.5,48.8 L7.7,48.0 L5.5,46.6 L4.0,44.9 L2.9,42.9 L2.2,40.7 L1.8,38.5 L1.6,36.3 L1.5,34.0 L1.6,31.7 L1.8,29.5 L2.2,27.3 L2.9,25.1 L4.0,23.1 L5.5,21.4 L7.7,20.0 L10.5,19.3 L9.7,16.4 L9.8,13.9 L10.6,11.7 L11.8,9.8 L13.3,8.1 L15.0,6.6 L16.8,5.3 L18.7,4.1 L20.7,3.1 L22.8,2.1 L24.9,1.4 L27.1,0.9 L29.4,0.8 L31.7,1.3 L33.9,2.5 L36.0,4.5 L38.1,2.5 L40.3,1.3 L42.6,0.8 L44.9,0.9 L47.1,1.4 L49.2,2.1 L51.3,3.1 L53.2,4.1 L55.2,5.3 L57.0,6.6 L58.7,8.1 L60.2,9.8 L61.4,11.7 L62.2,13.9 L62.3,16.4 L61.5,19.2 L64.3,20.0 L66.5,21.4 L68.0,23.1 L69.1,25.1 L69.8,27.3 L70.2,29.5 L70.4,31.7 Z"/></clipPath><g clip-path="url(#fa00)"><path d="M8,16 C4,36 10,54 26,62 C40,66 56,64 64,58 L54,52 C42,58 30,56 24,46 C18,36 20,24 22,12 Z" fill="#6d8870" opacity="1.00" filter="url(#f1)" /><path d="M22,18 C32,14 46,16 56,16 C64,20 68,32 68,44 C66,56 58,60 48,60 C38,60 28,58 24,52 C20,42 20,28 22,18 Z" fill="#4a3c1c" opacity="1.00" filter="url(#f1)" /><path d="M24,20 L40,19 L40,36 L25,37 Z" fill="#c6a440" opacity="1.00" filter="url(#f1_5)" /><path d="M25,41 L40,41 L39,55 L26,54 Z" fill="#b8983a" opacity="1.00" filter="url(#f1_5)" /><path d="M50,32 C58,30 66,34 68,44 C66,54 60,59 50,58 C49,50 49,40 50,32 Z" fill="#e2c254" opacity="1.00" filter="url(#f1_5)" /><path d="M48,17 L59,17 L61,28 L49,28 Z" fill="#d0ac46" opacity="1.00" filter="url(#f1_5)" /><path d="M30,22 L38,24 L37,28 L31,27 Z" fill="#2a2212" opacity="0.60" filter="url(#f1)" /></g><path d="M69.5,34.0 L69.4,36.2 L69.2,38.4 L68.8,40.5 L68.1,42.6 L67.1,44.6 L65.6,46.2 L63.4,47.5 L60.7,48.2 L61.4,51.0 L61.4,53.5 L60.7,55.7 L59.5,57.5 L58.0,59.1 L56.4,60.6 L54.6,61.9 L52.8,63.0 L50.8,64.0 L48.8,64.9 L46.7,65.7 L44.6,66.1 L42.4,66.2 L40.2,65.7 L38.0,64.5 L36.0,62.5 L34.0,64.5 L31.8,65.7 L29.6,66.2 L27.4,66.1 L25.3,65.7 L23.2,64.9 L21.2,64.0 L19.3,63.0 L17.4,61.9 L15.6,60.6 L14.0,59.1 L12.5,57.5 L11.3,55.7 L10.6,53.5 L10.6,51.0 L11.3,48.2 L8.6,47.5 L6.4,46.2 L4.9,44.6 L3.9,42.6 L3.2,40.5 L2.8,38.4 L2.6,36.2 L2.5,34.0 L2.6,31.8 L2.8,29.6 L3.2,27.5 L3.9,25.4 L4.9,23.4 L6.4,21.8 L8.6,20.5 L11.3,19.8 L10.6,17.0 L10.6,14.5 L11.3,12.3 L12.5,10.5 L14.0,8.9 L15.6,7.4 L17.4,6.1 L19.2,5.0 L21.2,4.0 L23.2,3.1 L25.3,2.3 L27.4,1.9 L29.6,1.8 L31.8,2.3 L34.0,3.5 L36.0,5.5 L38.0,3.5 L40.2,2.3 L42.4,1.8 L44.6,1.9 L46.7,2.3 L48.8,3.1 L50.8,4.0 L52.8,5.0 L54.6,6.1 L56.4,7.4 L58.0,8.9 L59.5,10.5 L60.7,12.3 L61.4,14.5 L61.4,17.0 L60.7,19.7 L63.4,20.5 L65.6,21.8 L67.1,23.4 L68.1,25.4 L68.8,27.5 L69.2,29.6 L69.4,31.8 Z" fill="none" opacity="1.00" filter="url(#f0_6)" class="ring" stroke="#4d4641" stroke-width="3.0"/></g></g>
<text x="759.6" y="74.8" class="hd">well</text>
<text x="759.6" y="96.9" class="hd">A01</text>
<g transform="translate(585.0,125.0)"><clipPath id="c2"><rect width="71.6" height="65.8"/></clipPath><g clip-path="url(#c2)"><rect width="71.6" height="65.8" fill="#212b3c"/><path d="M66.0,32.5 L65.9,34.3 L65.7,36.1 L65.4,37.9 L64.8,39.7 L63.9,41.3 L62.6,42.8 L60.8,43.9 L58.5,44.6 L59.0,46.8 L58.9,48.8 L58.2,50.6 L57.1,52.1 L55.7,53.4 L54.3,54.6 L52.7,55.7 L51.0,56.7 L49.3,57.5 L47.5,58.3 L45.6,58.9 L43.7,59.3 L41.7,59.4 L39.8,59.1 L37.8,58.2 L36.0,56.7 L34.2,58.2 L32.2,59.1 L30.3,59.4 L28.3,59.3 L26.4,58.9 L24.5,58.3 L22.7,57.5 L21.0,56.7 L19.3,55.7 L17.7,54.6 L16.3,53.4 L14.9,52.1 L13.8,50.6 L13.1,48.8 L13.0,46.8 L13.5,44.6 L11.2,43.9 L9.4,42.8 L8.1,41.3 L7.2,39.7 L6.6,37.9 L6.3,36.1 L6.1,34.3 L6.0,32.5 L6.1,30.7 L6.3,28.9 L6.6,27.1 L7.2,25.3 L8.1,23.7 L9.4,22.2 L11.2,21.1 L13.5,20.4 L13.0,18.2 L13.1,16.2 L13.8,14.4 L14.9,12.9 L16.3,11.6 L17.7,10.4 L19.3,9.3 L21.0,8.3 L22.7,7.5 L24.5,6.7 L26.4,6.1 L28.3,5.7 L30.3,5.6 L32.2,5.9 L34.2,6.8 L36.0,8.3 L37.8,6.8 L39.8,5.9 L41.7,5.6 L43.7,5.7 L45.6,6.1 L47.5,6.7 L49.3,7.5 L51.0,8.3 L52.7,9.3 L54.3,10.4 L55.7,11.6 L57.1,12.9 L58.2,14.4 L58.9,16.2 L59.0,18.2 L58.5,20.4 L60.8,21.1 L62.6,22.2 L63.9,23.7 L64.8,25.3 L65.4,27.1 L65.7,28.9 L65.9,30.7 Z" fill="#6a5438" opacity="1.00" filter="url(#f1_5)" /><ellipse cx="26.0" cy="34.0" rx="20.0" ry="24.0" fill="#dcb474" opacity="0.95" filter="url(#f3)" /><ellipse cx="15.0" cy="41.0" rx="6.0" ry="8.0" fill="#fff2d4" opacity="1.00" filter="url(#f2)" /><ellipse cx="21.0" cy="30.0" rx="5.0" ry="5.0" fill="#f0cc88" opacity="1.00" filter="url(#f1_5)" /><ellipse cx="30.0" cy="7.0" rx="7.0" ry="4.0" fill="#e8b868" opacity="1.00" filter="url(#f1_5)" /><ellipse cx="49.0" cy="12.0" rx="6.0" ry="5.0" fill="#e8b060" opacity="1.00" filter="url(#f1_5)" /><ellipse cx="59.5" cy="28.0" rx="5.0" ry="6.5" fill="#e8ac58" opacity="1.00" filter="url(#f1_5)" /><ellipse cx="55.0" cy="49.0" rx="5.5" ry="5.0" fill="#e0a858" opacity="1.00" filter="url(#f1_5)" /><ellipse cx="30.0" cy="55.0" rx="8.0" ry="4.5" fill="#e0b070" opacity="1.00" filter="url(#f1_5)" /><path d="M36,4 C45,14 50,26 48,40 C47,48 45,54 42,60 L47,60 C50,52 53,42 53,32 C51,18 46,8 41,2 Z" fill="#1c1a1e" opacity="0.95" filter="url(#f1)" /><circle cx="26.0" cy="15.2" r="7.4" fill="#a39088" opacity="1.00" filter="url(#f0_6)" /><circle cx="27.0" cy="42.5" r="7.6" fill="#f2d8a4" opacity="1.00" filter="url(#f0_6)" /></g></g>
<g transform="translate(671.7,125.0)"><clipPath id="c3"><rect width="72.1" height="65.8"/></clipPath><g clip-path="url(#c3)"><rect width="72.1" height="65.8" fill="#0a0a0a"/><path d="M70.4,33.3 L70.3,35.5 L70.1,37.7 L69.7,39.9 L69.0,42.0 L68.0,44.0 L66.4,45.7 L64.3,47.1 L61.5,47.8 L62.3,50.6 L62.2,53.1 L61.5,55.3 L60.3,57.2 L58.8,58.8 L57.1,60.3 L55.3,61.6 L53.4,62.7 L51.4,63.8 L49.4,64.7 L47.3,65.4 L45.1,65.9 L42.9,66.0 L40.6,65.5 L38.4,64.3 L36.4,62.3 L34.4,64.3 L32.2,65.5 L29.9,66.0 L27.7,65.9 L25.5,65.4 L23.4,64.7 L21.4,63.8 L19.4,62.7 L17.5,61.6 L15.7,60.3 L14.0,58.8 L12.5,57.2 L11.3,55.3 L10.6,53.1 L10.5,50.6 L11.3,47.8 L8.5,47.1 L6.4,45.7 L4.8,44.0 L3.8,42.0 L3.1,39.9 L2.7,37.7 L2.5,35.5 L2.4,33.3 L2.5,31.1 L2.7,28.9 L3.1,26.7 L3.8,24.6 L4.8,22.6 L6.4,20.9 L8.5,19.5 L11.3,18.8 L10.5,16.0 L10.6,13.5 L11.3,11.3 L12.5,9.4 L14.0,7.8 L15.7,6.3 L17.5,5.0 L19.4,3.9 L21.4,2.8 L23.4,1.9 L25.5,1.2 L27.7,0.7 L29.9,0.6 L32.2,1.1 L34.4,2.3 L36.4,4.3 L38.4,2.3 L40.6,1.1 L42.9,0.6 L45.1,0.7 L47.3,1.2 L49.4,1.9 L51.4,2.8 L53.4,3.9 L55.3,5.0 L57.1,6.3 L58.8,7.8 L60.3,9.4 L61.5,11.3 L62.2,13.5 L62.3,16.0 L61.5,18.8 L64.3,19.5 L66.4,20.9 L68.0,22.6 L69.0,24.6 L69.7,26.7 L70.1,28.9 L70.3,31.1 Z" fill="#28281f" opacity="1.00" filter="url(#f0_6)" /><clipPath id="fa01"><path d="M70.4,33.3 L70.3,35.5 L70.1,37.7 L69.7,39.9 L69.0,42.0 L68.0,44.0 L66.4,45.7 L64.3,47.1 L61.5,47.8 L62.3,50.6 L62.2,53.1 L61.5,55.3 L60.3,57.2 L58.8,58.8 L57.1,60.3 L55.3,61.6 L53.4,62.7 L51.4,63.8 L49.4,64.7 L47.3,65.4 L45.1,65.9 L42.9,66.0 L40.6,65.5 L38.4,64.3 L36.4,62.3 L34.4,64.3 L32.2,65.5 L29.9,66.0 L27.7,65.9 L25.5,65.4 L23.4,64.7 L21.4,63.8 L19.4,62.7 L17.5,61.6 L15.7,60.3 L14.0,58.8 L12.5,57.2 L11.3,55.3 L10.6,53.1 L10.5,50.6 L11.3,47.8 L8.5,47.1 L6.4,45.7 L4.8,44.0 L3.8,42.0 L3.1,39.9 L2.7,37.7 L2.5,35.5 L2.4,33.3 L2.5,31.1 L2.7,28.9 L3.1,26.7 L3.8,24.6 L4.8,22.6 L6.4,20.9 L8.5,19.5 L11.3,18.8 L10.5,16.0 L10.6,13.5 L11.3,11.3 L12.5,9.4 L14.0,7.8 L15.7,6.3 L17.5,5.0 L19.4,3.9 L21.4,2.8 L23.4,1.9 L25.5,1.2 L27.7,0.7 L29.9,0.6 L32.2,1.1 L34.4,2.3 L36.4,4.3 L38.4,2.3 L40.6,1.1 L42.9,0.6 L45.1,0.7 L47.3,1.2 L49.4,1.9 L51.4,2.8 L53.4,3.9 L55.3,5.0 L57.1,6.3 L58.8,7.8 L60.3,9.4 L61.5,11.3 L62.2,13.5 L62.3,16.0 L61.5,18.8 L64.3,19.5 L66.4,20.9 L68.0,22.6 L69.0,24.6 L69.7,26.7 L70.1,28.9 L70.3,31.1 Z"/></clipPath><g clip-path="url(#fa01)"><path d="M14,12 C6,24 6,44 14,56 C24,64 44,66 60,62 C66,58 68,52 68,44 L60,48 C50,54 36,54 28,46 C22,36 22,24 22,14 Z" fill="#a6c4a6" opacity="1.00" filter="url(#f1_5)" /><path d="M22,14 C22,24 22,36 28,46 C36,54 50,54 60,48 L58,44 C48,50 38,48 32,42 C27,34 26,22 26,14 Z" fill="#2a2818" opacity="0.80" filter="url(#f1_5)" /><path d="M46,7 C56,6 66,12 69,22 C70,30 68,36 64,38 L48,38 Z" fill="#dab84c" opacity="1.00" filter="url(#f1)" /><path d="M24,18 L39,18 L39,35 L24,35 Z" fill="#d2ae46" opacity="1.00" filter="url(#f1)" /><path d="M35,39 L46,39 L46,50 L35,50 Z" fill="#d2ac44" opacity="1.00" filter="url(#f1)" /><path d="M55,41 L63,41 L63,47 L55,47 Z" fill="#d0aa44" opacity="1.00" filter="url(#f1)" /><path d="M31,7 L42,7 L42,13 L31,13 Z" fill="#caa444" opacity="1.00" filter="url(#f1)" /></g><path d="M69.4,33.3 L69.3,35.5 L69.1,37.6 L68.7,39.7 L68.1,41.8 L67.0,43.7 L65.5,45.4 L63.4,46.6 L60.6,47.3 L61.4,50.0 L61.4,52.5 L60.7,54.6 L59.6,56.5 L58.1,58.1 L56.5,59.5 L54.7,60.7 L52.9,61.9 L51.0,62.9 L49.0,63.8 L47.0,64.5 L44.9,65.0 L42.7,65.0 L40.5,64.5 L38.4,63.3 L36.4,61.3 L34.4,63.3 L32.3,64.5 L30.1,65.0 L27.9,65.0 L25.8,64.5 L23.8,63.8 L21.8,62.9 L19.9,61.9 L18.1,60.7 L16.3,59.5 L14.7,58.1 L13.2,56.5 L12.1,54.6 L11.4,52.5 L11.4,50.0 L12.2,47.3 L9.4,46.6 L7.3,45.4 L5.8,43.7 L4.7,41.8 L4.1,39.7 L3.7,37.6 L3.5,35.5 L3.4,33.3 L3.5,31.1 L3.7,29.0 L4.1,26.9 L4.7,24.8 L5.8,22.9 L7.3,21.2 L9.4,20.0 L12.2,19.3 L11.4,16.6 L11.4,14.1 L12.1,12.0 L13.2,10.1 L14.7,8.5 L16.3,7.1 L18.1,5.9 L19.9,4.7 L21.8,3.7 L23.8,2.8 L25.8,2.1 L27.9,1.6 L30.1,1.6 L32.3,2.1 L34.4,3.3 L36.4,5.3 L38.4,3.3 L40.5,2.1 L42.7,1.6 L44.9,1.6 L47.0,2.1 L49.0,2.8 L51.0,3.7 L52.9,4.7 L54.7,5.9 L56.5,7.1 L58.1,8.5 L59.6,10.1 L60.7,12.0 L61.4,14.1 L61.4,16.6 L60.6,19.3 L63.4,20.0 L65.5,21.2 L67.0,22.9 L68.1,24.8 L68.7,26.9 L69.1,29.0 L69.3,31.1 Z" fill="none" opacity="1.00" filter="url(#f0_6)" class="ring" stroke="#3c3c3a" stroke-width="3.0"/></g></g>
<text x="759.6" y="153.7" class="hd">well</text>
<text x="759.6" y="175.8" class="hd">C01</text>
<g transform="translate(585.0,204.0)"><clipPath id="c4"><rect width="71.6" height="65.8"/></clipPath><g clip-path="url(#c4)"><rect width="71.6" height="65.8" fill="#212b3e"/><path d="M68.0,33.0 L67.9,34.9 L67.7,36.9 L67.4,38.8 L66.7,40.7 L65.8,42.4 L64.4,43.9 L62.5,45.1 L59.9,45.7 L60.6,48.1 L60.5,50.3 L59.9,52.2 L58.8,53.9 L57.4,55.3 L55.9,56.6 L54.2,57.7 L52.5,58.8 L50.7,59.7 L48.9,60.5 L46.9,61.1 L45.0,61.6 L42.9,61.6 L40.9,61.2 L38.9,60.2 L37.0,58.4 L35.1,60.2 L33.1,61.2 L31.1,61.6 L29.0,61.6 L27.1,61.1 L25.1,60.5 L23.3,59.7 L21.5,58.8 L19.8,57.7 L18.1,56.6 L16.6,55.3 L15.2,53.9 L14.1,52.2 L13.5,50.3 L13.4,48.1 L14.1,45.7 L11.5,45.1 L9.6,43.9 L8.2,42.4 L7.3,40.7 L6.6,38.8 L6.3,36.9 L6.1,34.9 L6.0,33.0 L6.1,31.1 L6.3,29.1 L6.6,27.2 L7.3,25.3 L8.2,23.6 L9.6,22.1 L11.5,20.9 L14.1,20.3 L13.4,17.9 L13.5,15.7 L14.1,13.8 L15.2,12.1 L16.6,10.7 L18.1,9.4 L19.8,8.3 L21.5,7.2 L23.3,6.3 L25.1,5.5 L27.1,4.9 L29.0,4.4 L31.1,4.4 L33.1,4.8 L35.1,5.8 L37.0,7.6 L38.9,5.8 L40.9,4.8 L42.9,4.4 L45.0,4.4 L46.9,4.9 L48.9,5.5 L50.7,6.3 L52.5,7.2 L54.2,8.3 L55.9,9.4 L57.4,10.7 L58.8,12.1 L59.9,13.8 L60.5,15.7 L60.6,17.9 L59.9,20.3 L62.5,20.9 L64.4,22.1 L65.8,23.6 L66.7,25.3 L67.4,27.2 L67.7,29.1 L67.9,31.1 Z" fill="#3a3226" opacity="1.00" filter="url(#f1_5)" /><ellipse cx="22.0" cy="33.0" rx="16.0" ry="20.0" fill="#e0b870" opacity="0.90" filter="url(#f3)" /><ellipse cx="17.0" cy="33.0" rx="8.0" ry="11.0" fill="#fffaf0" opacity="1.00" filter="url(#f2)" /><ellipse cx="29.6" cy="4.5" rx="5.0" ry="2.5" fill="#d8a850" opacity="1.00" filter="url(#f1_5)" /><ellipse cx="53.9" cy="11.0" rx="5.0" ry="6.0" fill="#dcac58" opacity="1.00" filter="url(#f1_5)" /><ellipse cx="43.6" cy="31.5" rx="3.5" ry="7.0" fill="#d0a050" opacity="1.00" filter="url(#f1_5)" /><ellipse cx="63.0" cy="31.5" rx="3.5" ry="7.0" fill="#d0a050" opacity="1.00" filter="url(#f1_5)" /><ellipse cx="54.8" cy="51.0" rx="5.0" ry="6.0" fill="#d0a050" opacity="1.00" filter="url(#f1_5)" /><ellipse cx="52.0" cy="31.5" rx="2.5" ry="6.0" fill="#b08848" opacity="0.80" filter="url(#f1_5)" /><ellipse cx="29.6" cy="59.5" rx="6.0" ry="2.5" fill="#d0a050" opacity="1.00" filter="url(#f1_5)" /><ellipse cx="38.0" cy="17.5" rx="3.0" ry="5.0" fill="#c89848" opacity="1.00" filter="url(#f1_5)" /><ellipse cx="36.0" cy="45.0" rx="3.0" ry="6.0" fill="#b88a48" opacity="1.00" filter="url(#f1_5)" /><circle cx="26.8" cy="14.7" r="8.0" fill="#b2a29a" opacity="1.00" filter="url(#f0_6)" /><circle cx="27.8" cy="46.4" r="8.0" fill="#e2c294" opacity="1.00" filter="url(#f0_6)" /></g></g>
<g transform="translate(671.7,204.0)"><clipPath id="c5"><rect width="72.1" height="65.8"/></clipPath><g clip-path="url(#c5)"><rect width="72.1" height="65.8" fill="#0a0a0a"/><path d="M70.4,33.3 L70.3,35.5 L70.1,37.7 L69.7,39.9 L69.0,42.0 L68.0,44.0 L66.4,45.7 L64.3,47.1 L61.5,47.8 L62.3,50.6 L62.2,53.1 L61.5,55.3 L60.3,57.2 L58.8,58.8 L57.1,60.3 L55.3,61.6 L53.4,62.7 L51.4,63.8 L49.4,64.7 L47.3,65.4 L45.1,65.9 L42.9,66.0 L40.6,65.5 L38.4,64.3 L36.4,62.3 L34.4,64.3 L32.2,65.5 L29.9,66.0 L27.7,65.9 L25.5,65.4 L23.4,64.7 L21.4,63.8 L19.4,62.7 L17.5,61.6 L15.7,60.3 L14.0,58.8 L12.5,57.2 L11.3,55.3 L10.6,53.1 L10.5,50.6 L11.3,47.8 L8.5,47.1 L6.4,45.7 L4.8,44.0 L3.8,42.0 L3.1,39.9 L2.7,37.7 L2.5,35.5 L2.4,33.3 L2.5,31.1 L2.7,28.9 L3.1,26.7 L3.8,24.6 L4.8,22.6 L6.4,20.9 L8.5,19.5 L11.3,18.8 L10.5,16.0 L10.6,13.5 L11.3,11.3 L12.5,9.4 L14.0,7.8 L15.7,6.3 L17.5,5.0 L19.4,3.9 L21.4,2.8 L23.4,1.9 L25.5,1.2 L27.7,0.7 L29.9,0.6 L32.2,1.1 L34.4,2.3 L36.4,4.3 L38.4,2.3 L40.6,1.1 L42.9,0.6 L45.1,0.7 L47.3,1.2 L49.4,1.9 L51.4,2.8 L53.4,3.9 L55.3,5.0 L57.1,6.3 L58.8,7.8 L60.3,9.4 L61.5,11.3 L62.2,13.5 L62.3,16.0 L61.5,18.8 L64.3,19.5 L66.4,20.9 L68.0,22.6 L69.0,24.6 L69.7,26.7 L70.1,28.9 L70.3,31.1 Z" fill="#33332c" opacity="1.00" filter="url(#f0_6)" /><clipPath id="fa02"><path d="M70.4,33.3 L70.3,35.5 L70.1,37.7 L69.7,39.9 L69.0,42.0 L68.0,44.0 L66.4,45.7 L64.3,47.1 L61.5,47.8 L62.3,50.6 L62.2,53.1 L61.5,55.3 L60.3,57.2 L58.8,58.8 L57.1,60.3 L55.3,61.6 L53.4,62.7 L51.4,63.8 L49.4,64.7 L47.3,65.4 L45.1,65.9 L42.9,66.0 L40.6,65.5 L38.4,64.3 L36.4,62.3 L34.4,64.3 L32.2,65.5 L29.9,66.0 L27.7,65.9 L25.5,65.4 L23.4,64.7 L21.4,63.8 L19.4,62.7 L17.5,61.6 L15.7,60.3 L14.0,58.8 L12.5,57.2 L11.3,55.3 L10.6,53.1 L10.5,50.6 L11.3,47.8 L8.5,47.1 L6.4,45.7 L4.8,44.0 L3.8,42.0 L3.1,39.9 L2.7,37.7 L2.5,35.5 L2.4,33.3 L2.5,31.1 L2.7,28.9 L3.1,26.7 L3.8,24.6 L4.8,22.6 L6.4,20.9 L8.5,19.5 L11.3,18.8 L10.5,16.0 L10.6,13.5 L11.3,11.3 L12.5,9.4 L14.0,7.8 L15.7,6.3 L17.5,5.0 L19.4,3.9 L21.4,2.8 L23.4,1.9 L25.5,1.2 L27.7,0.7 L29.9,0.6 L32.2,1.1 L34.4,2.3 L36.4,4.3 L38.4,2.3 L40.6,1.1 L42.9,0.6 L45.1,0.7 L47.3,1.2 L49.4,1.9 L51.4,2.8 L53.4,3.9 L55.3,5.0 L57.1,6.3 L58.8,7.8 L60.3,9.4 L61.5,11.3 L62.2,13.5 L62.3,16.0 L61.5,18.8 L64.3,19.5 L66.4,20.9 L68.0,22.6 L69.0,24.6 L69.7,26.7 L70.1,28.9 L70.3,31.1 Z"/></clipPath><g clip-path="url(#fa02)"><path d="M12,12 C4,28 6,48 16,58 C28,66 48,66 62,58 C68,50 69,42 68,36 L56,38 C44,40 34,36 30,28 C26,20 22,14 18,10 Z" fill="#a8c2a6" opacity="1.00" filter="url(#f1_5)" /><path d="M28,6 C40,2 58,4 66,14 C70,22 68,32 64,38 C56,40 44,40 36,36 C30,28 28,16 28,6 Z" fill="#3c3222" opacity="1.00" filter="url(#f1_5)" /><ellipse cx="39.0" cy="16.0" rx="5.0" ry="4.0" fill="#d8b048" opacity="1.00" filter="url(#f1)" /><ellipse cx="55.5" cy="11.3" rx="6.0" ry="5.0" fill="#d6ae46" opacity="1.00" filter="url(#f1)" /><ellipse cx="48.0" cy="29.5" rx="4.0" ry="3.0" fill="#b8a070" opacity="1.00" filter="url(#f1)" /><ellipse cx="63.0" cy="30.4" rx="4.0" ry="3.0" fill="#c8a040" opacity="1.00" filter="url(#f1)" /></g><path d="M69.4,33.3 L69.3,35.5 L69.1,37.6 L68.7,39.7 L68.1,41.8 L67.0,43.7 L65.5,45.4 L63.4,46.6 L60.6,47.3 L61.4,50.0 L61.4,52.5 L60.7,54.6 L59.6,56.5 L58.1,58.1 L56.5,59.5 L54.7,60.7 L52.9,61.9 L51.0,62.9 L49.0,63.8 L47.0,64.5 L44.9,65.0 L42.7,65.0 L40.5,64.5 L38.4,63.3 L36.4,61.3 L34.4,63.3 L32.3,64.5 L30.1,65.0 L27.9,65.0 L25.8,64.5 L23.8,63.8 L21.8,62.9 L19.9,61.9 L18.1,60.7 L16.3,59.5 L14.7,58.1 L13.2,56.5 L12.1,54.6 L11.4,52.5 L11.4,50.0 L12.2,47.3 L9.4,46.6 L7.3,45.4 L5.8,43.7 L4.7,41.8 L4.1,39.7 L3.7,37.6 L3.5,35.5 L3.4,33.3 L3.5,31.1 L3.7,29.0 L4.1,26.9 L4.7,24.8 L5.8,22.9 L7.3,21.2 L9.4,20.0 L12.2,19.3 L11.4,16.6 L11.4,14.1 L12.1,12.0 L13.2,10.1 L14.7,8.5 L16.3,7.1 L18.1,5.9 L19.9,4.7 L21.8,3.7 L23.8,2.8 L25.8,2.1 L27.9,1.6 L30.1,1.6 L32.3,2.1 L34.4,3.3 L36.4,5.3 L38.4,3.3 L40.5,2.1 L42.7,1.6 L44.9,1.6 L47.0,2.1 L49.0,2.8 L51.0,3.7 L52.9,4.7 L54.7,5.9 L56.5,7.1 L58.1,8.5 L59.6,10.1 L60.7,12.0 L61.4,14.1 L61.4,16.6 L60.6,19.3 L63.4,20.0 L65.5,21.2 L67.0,22.9 L68.1,24.8 L68.7,26.9 L69.1,29.0 L69.3,31.1 Z" fill="none" opacity="1.00" filter="url(#f0_6)" class="ring" stroke="#4c4c48" stroke-width="3.0"/></g></g>
<text x="759.6" y="232.7" class="hd">well</text>
<text x="759.6" y="254.8" class="hd">D01</text>
<text x="619.4" y="320.0" class="hd" text-anchor="middle">below</text>
<text x="707.0" y="320.0" class="hd" text-anchor="middle">above</text>
<g transform="translate(585.0,335.0)"><clipPath id="c6"><rect width="71.6" height="65.8"/></clipPath><g clip-path="url(#c6)"><rect width="71.6" height="65.8" fill="#2a3548"/><path d="M67.0,33.0 L66.9,34.8 L66.7,36.5 L66.1,38.2 L65.2,39.8 L64.0,41.2 L62.3,42.4 L60.4,43.4 L58.2,44.0 L58.6,46.0 L58.7,48.0 L58.3,49.8 L57.5,51.5 L56.4,53.0 L55.0,54.2 L53.4,55.3 L51.8,56.2 L50.0,57.1 L48.1,57.7 L46.2,58.2 L44.2,58.3 L42.2,58.0 L40.1,57.4 L38.2,56.4 L36.5,55.0 L34.8,56.4 L32.9,57.4 L30.8,58.0 L28.8,58.3 L26.8,58.2 L24.9,57.7 L23.0,57.1 L21.3,56.2 L19.6,55.3 L18.0,54.2 L16.6,53.0 L15.5,51.5 L14.7,49.8 L14.3,48.0 L14.4,46.0 L14.8,44.0 L12.6,43.4 L10.7,42.4 L9.0,41.2 L7.8,39.8 L6.9,38.2 L6.3,36.5 L6.1,34.8 L6.0,33.0 L6.1,31.2 L6.3,29.5 L6.9,27.8 L7.8,26.2 L9.0,24.8 L10.7,23.6 L12.6,22.6 L14.8,22.0 L14.4,20.0 L14.3,18.0 L14.7,16.2 L15.5,14.5 L16.6,13.0 L18.0,11.8 L19.6,10.7 L21.2,9.8 L23.0,8.9 L24.9,8.3 L26.8,7.8 L28.8,7.7 L30.8,8.0 L32.9,8.6 L34.8,9.6 L36.5,11.0 L38.2,9.6 L40.1,8.6 L42.2,8.0 L44.2,7.7 L46.2,7.8 L48.1,8.3 L50.0,8.9 L51.8,9.8 L53.4,10.7 L55.0,11.8 L56.4,13.0 L57.5,14.5 L58.3,16.2 L58.7,18.0 L58.6,20.0 L58.2,22.0 L60.4,22.6 L62.3,23.6 L64.0,24.8 L65.2,26.2 L66.1,27.8 L66.7,29.5 L66.9,31.2 Z" fill="url(#gPeach1)" opacity="1.00" filter="url(#f1)" /><circle cx="26.4" cy="14.6" r="7.4" fill="#b8a4a0" opacity="0.80" filter="url(#f1)" /><circle cx="26.4" cy="41.0" r="7.9" fill="none" opacity="1.00" filter="url(#f1)" stroke="#a87450" stroke-width="1.4"/></g></g>
<g transform="translate(671.7,335.0)"><clipPath id="c7"><rect width="72.1" height="65.8"/></clipPath><g clip-path="url(#c7)"><rect width="72.1" height="65.8" fill="#0a0a0a"/><path d="M70.3,33.4 L70.2,35.6 L69.9,37.8 L69.4,40.0 L68.5,42.0 L67.2,43.9 L65.6,45.5 L63.6,46.9 L61.4,47.9 L61.6,50.3 L61.4,52.7 L60.8,54.9 L59.8,56.9 L58.5,58.7 L56.9,60.3 L55.2,61.7 L53.3,62.8 L51.3,63.9 L49.3,64.7 L47.1,65.3 L44.9,65.6 L42.7,65.4 L40.4,64.8 L38.3,63.8 L36.3,62.4 L34.3,63.8 L32.2,64.8 L29.9,65.4 L27.7,65.6 L25.5,65.3 L23.3,64.7 L21.3,63.9 L19.3,62.8 L17.4,61.7 L15.7,60.3 L14.1,58.7 L12.8,56.9 L11.8,54.9 L11.2,52.7 L11.0,50.3 L11.2,47.9 L9.0,46.9 L7.0,45.5 L5.4,43.9 L4.1,42.0 L3.2,40.0 L2.7,37.8 L2.4,35.6 L2.3,33.4 L2.4,31.2 L2.7,29.0 L3.2,26.8 L4.1,24.8 L5.4,22.9 L7.0,21.3 L9.0,19.9 L11.2,18.9 L11.0,16.5 L11.2,14.1 L11.8,11.9 L12.8,9.9 L14.1,8.1 L15.7,6.5 L17.4,5.1 L19.3,4.0 L21.3,2.9 L23.3,2.1 L25.5,1.5 L27.7,1.2 L29.9,1.4 L32.2,2.0 L34.3,3.0 L36.3,4.4 L38.3,3.0 L40.4,2.0 L42.7,1.4 L44.9,1.2 L47.1,1.5 L49.3,2.1 L51.3,2.9 L53.3,4.0 L55.2,5.1 L56.9,6.5 L58.5,8.1 L59.8,9.9 L60.8,11.9 L61.4,14.1 L61.6,16.5 L61.4,18.9 L63.6,19.9 L65.6,21.3 L67.2,22.9 L68.5,24.8 L69.4,26.8 L69.9,29.0 L70.2,31.2 Z" fill="#2a2e2a" opacity="1.00" filter="url(#f0_6)" /><clipPath id="fa10"><path d="M70.3,33.4 L70.2,35.6 L69.9,37.8 L69.4,40.0 L68.5,42.0 L67.2,43.9 L65.6,45.5 L63.6,46.9 L61.4,47.9 L61.6,50.3 L61.4,52.7 L60.8,54.9 L59.8,56.9 L58.5,58.7 L56.9,60.3 L55.2,61.7 L53.3,62.8 L51.3,63.9 L49.3,64.7 L47.1,65.3 L44.9,65.6 L42.7,65.4 L40.4,64.8 L38.3,63.8 L36.3,62.4 L34.3,63.8 L32.2,64.8 L29.9,65.4 L27.7,65.6 L25.5,65.3 L23.3,64.7 L21.3,63.9 L19.3,62.8 L17.4,61.7 L15.7,60.3 L14.1,58.7 L12.8,56.9 L11.8,54.9 L11.2,52.7 L11.0,50.3 L11.2,47.9 L9.0,46.9 L7.0,45.5 L5.4,43.9 L4.1,42.0 L3.2,40.0 L2.7,37.8 L2.4,35.6 L2.3,33.4 L2.4,31.2 L2.7,29.0 L3.2,26.8 L4.1,24.8 L5.4,22.9 L7.0,21.3 L9.0,19.9 L11.2,18.9 L11.0,16.5 L11.2,14.1 L11.8,11.9 L12.8,9.9 L14.1,8.1 L15.7,6.5 L17.4,5.1 L19.3,4.0 L21.3,2.9 L23.3,2.1 L25.5,1.5 L27.7,1.2 L29.9,1.4 L32.2,2.0 L34.3,3.0 L36.3,4.4 L38.3,3.0 L40.4,2.0 L42.7,1.4 L44.9,1.2 L47.1,1.5 L49.3,2.1 L51.3,2.9 L53.3,4.0 L55.2,5.1 L56.9,6.5 L58.5,8.1 L59.8,9.9 L60.8,11.9 L61.4,14.1 L61.6,16.5 L61.4,18.9 L63.6,19.9 L65.6,21.3 L67.2,22.9 L68.5,24.8 L69.4,26.8 L69.9,29.0 L70.2,31.2 Z"/></clipPath><g clip-path="url(#fa10)"><path d="M65.5,34.0 L65.4,35.9 L65.2,37.8 L64.7,39.7 L64.0,41.5 L62.9,43.1 L61.5,44.6 L59.9,45.8 L58.1,46.8 L58.2,48.8 L57.9,50.8 L57.4,52.7 L56.5,54.5 L55.3,56.0 L53.9,57.4 L52.4,58.5 L50.8,59.5 L49.0,60.5 L47.3,61.2 L45.4,61.7 L43.5,62.0 L41.5,61.9 L39.6,61.4 L37.7,60.6 L36.0,59.5 L34.3,60.6 L32.4,61.4 L30.5,61.9 L28.5,62.0 L26.6,61.7 L24.7,61.2 L23.0,60.5 L21.3,59.5 L19.6,58.5 L18.1,57.4 L16.7,56.0 L15.5,54.5 L14.6,52.7 L14.1,50.8 L13.8,48.8 L13.9,46.8 L12.1,45.8 L10.5,44.6 L9.1,43.1 L8.0,41.5 L7.3,39.7 L6.8,37.8 L6.6,35.9 L6.5,34.0 L6.6,32.1 L6.8,30.2 L7.3,28.3 L8.0,26.5 L9.1,24.9 L10.5,23.4 L12.1,22.2 L13.9,21.3 L13.8,19.2 L14.1,17.2 L14.6,15.3 L15.5,13.5 L16.7,12.0 L18.1,10.6 L19.6,9.5 L21.2,8.5 L23.0,7.5 L24.7,6.8 L26.6,6.3 L28.5,6.0 L30.5,6.1 L32.4,6.6 L34.3,7.4 L36.0,8.5 L37.7,7.4 L39.6,6.6 L41.5,6.1 L43.5,6.0 L45.4,6.3 L47.3,6.8 L49.0,7.5 L50.8,8.5 L52.4,9.5 L53.9,10.6 L55.3,12.0 L56.5,13.5 L57.4,15.3 L57.9,17.2 L58.2,19.2 L58.1,21.2 L59.9,22.2 L61.5,23.4 L62.9,24.9 L64.0,26.5 L64.7,28.3 L65.2,30.2 L65.4,32.1 Z" fill="#98b8a8" opacity="1.00" filter="url(#f1_5)" /><path d="M14,6 C24,2 48,2 58,8 L56,16 L16,16 Z" fill="#6a8478" opacity="1.00" filter="url(#f2)" /><path d="M12,24 C18,14 52,14 60,24 L58,44 L50,50 L16,50 Z" fill="#2a2214" opacity="1.00" filter="url(#f1_5)" /><path d="M15,24 L31,18 L31,27 L17,30 Z" fill="#9a7434" opacity="1.00" filter="url(#f1)" /><path d="M33,18 L48,20 L50,31 L33,28 Z" fill="#9a7434" opacity="1.00" filter="url(#f1)" /><path d="M49,32 L57,36 L56,43 L48,42 Z" fill="#9a7434" opacity="1.00" filter="url(#f1)" /><path d="M14,38 C18,32 38,33 48,36 C51,44 49,54 44,58 C36,61 24,60 18,56 C14,50 13,44 14,38 Z" fill="#e2a83a" opacity="1.00" filter="url(#f1)" /><circle cx="32.0" cy="41.0" r="4.6" fill="#c08c30" opacity="1.00" filter="url(#f1)" /></g><path d="M69.3,33.4 L69.2,35.6 L69.0,37.7 L68.6,39.8 L68.0,41.9 L66.9,43.8 L65.4,45.5 L63.3,46.7 L60.5,47.4 L61.3,50.1 L61.3,52.6 L60.6,54.7 L59.5,56.6 L58.0,58.2 L56.4,59.6 L54.6,60.8 L52.8,62.0 L50.9,63.0 L48.9,63.9 L46.9,64.6 L44.8,65.1 L42.6,65.1 L40.4,64.6 L38.3,63.4 L36.3,61.4 L34.3,63.4 L32.2,64.6 L30.0,65.1 L27.8,65.1 L25.7,64.6 L23.7,63.9 L21.7,63.0 L19.8,62.0 L18.0,60.8 L16.2,59.6 L14.6,58.2 L13.1,56.6 L12.0,54.7 L11.3,52.6 L11.3,50.1 L12.1,47.4 L9.3,46.7 L7.2,45.5 L5.7,43.8 L4.6,41.9 L4.0,39.8 L3.6,37.7 L3.4,35.6 L3.3,33.4 L3.4,31.2 L3.6,29.1 L4.0,27.0 L4.6,24.9 L5.7,23.0 L7.2,21.3 L9.3,20.1 L12.1,19.4 L11.3,16.7 L11.3,14.2 L12.0,12.1 L13.1,10.2 L14.6,8.6 L16.2,7.2 L18.0,6.0 L19.8,4.8 L21.7,3.8 L23.7,2.9 L25.7,2.2 L27.8,1.7 L30.0,1.7 L32.2,2.2 L34.3,3.4 L36.3,5.4 L38.3,3.4 L40.4,2.2 L42.6,1.7 L44.8,1.7 L46.9,2.2 L48.9,2.9 L50.9,3.8 L52.8,4.8 L54.6,6.0 L56.4,7.2 L58.0,8.6 L59.5,10.2 L60.6,12.1 L61.3,14.2 L61.3,16.7 L60.5,19.4 L63.3,20.1 L65.4,21.3 L66.9,23.0 L68.0,24.9 L68.6,27.0 L69.0,29.1 L69.2,31.2 Z" fill="none" opacity="1.00" filter="url(#f0_6)" class="ring" stroke="#6e6e6a" stroke-width="3.0"/></g></g>
<text x="759.6" y="363.7" class="hd">well</text>
<text x="759.6" y="385.8" class="hd">A03</text>
<g transform="translate(585.0,415.2)"><clipPath id="c8"><rect width="71.6" height="65.8"/></clipPath><g clip-path="url(#c8)"><rect width="71.6" height="65.8" fill="#2f3442"/><path d="M68.5,33.0 L68.4,35.0 L68.1,36.9 L67.6,38.8 L66.6,40.6 L65.4,42.3 L63.7,43.7 L61.7,44.8 L59.4,45.6 L59.8,47.8 L59.8,50.0 L59.3,52.0 L58.4,53.9 L57.2,55.5 L55.7,56.9 L54.1,58.1 L52.2,59.2 L50.4,60.1 L48.4,60.8 L46.3,61.3 L44.2,61.5 L42.0,61.3 L39.9,60.6 L37.9,59.6 L36.0,58.1 L34.1,59.6 L32.1,60.6 L30.0,61.3 L27.8,61.5 L25.7,61.3 L23.6,60.8 L21.6,60.1 L19.8,59.2 L17.9,58.1 L16.3,56.9 L14.8,55.5 L13.6,53.9 L12.7,52.0 L12.2,50.0 L12.2,47.8 L12.6,45.6 L10.3,44.8 L8.3,43.7 L6.6,42.3 L5.4,40.6 L4.4,38.8 L3.9,36.9 L3.6,35.0 L3.5,33.0 L3.6,31.0 L3.9,29.1 L4.4,27.2 L5.4,25.4 L6.6,23.7 L8.3,22.3 L10.3,21.2 L12.6,20.4 L12.2,18.2 L12.2,16.0 L12.7,14.0 L13.6,12.1 L14.8,10.5 L16.3,9.1 L17.9,7.9 L19.7,6.8 L21.6,5.9 L23.6,5.2 L25.7,4.7 L27.8,4.5 L30.0,4.7 L32.1,5.4 L34.1,6.4 L36.0,7.9 L37.9,6.4 L39.9,5.4 L42.0,4.7 L44.2,4.5 L46.3,4.7 L48.4,5.2 L50.4,5.9 L52.2,6.8 L54.1,7.9 L55.7,9.1 L57.2,10.5 L58.4,12.1 L59.3,14.0 L59.8,16.0 L59.8,18.2 L59.4,20.4 L61.7,21.2 L63.7,22.3 L65.4,23.7 L66.6,25.4 L67.6,27.2 L68.1,29.1 L68.4,31.0 Z" fill="url(#gPeach2)" opacity="1.00" filter="url(#f1)" /><circle cx="24.5" cy="16.0" r="7.0" fill="#a89490" opacity="0.85" filter="url(#f1)" /><circle cx="24.5" cy="46.5" r="8.0" fill="none" opacity="1.00" filter="url(#f1)" stroke="#a07048" stroke-width="1.4"/></g></g>
<g transform="translate(671.7,415.2)"><clipPath id="c9"><rect width="72.1" height="65.8"/></clipPath><g clip-path="url(#c9)"><rect width="72.1" height="65.8" fill="#0a0a0a"/><path d="M70.4,34.2 L70.3,36.4 L70.0,38.6 L69.5,40.8 L68.6,42.8 L67.3,44.7 L65.7,46.3 L63.7,47.7 L61.5,48.7 L61.7,51.1 L61.5,53.5 L60.9,55.7 L59.9,57.7 L58.6,59.5 L57.0,61.1 L55.3,62.5 L53.4,63.6 L51.4,64.7 L49.4,65.5 L47.2,66.1 L45.0,66.4 L42.8,66.2 L40.5,65.6 L38.4,64.6 L36.4,63.2 L34.4,64.6 L32.3,65.6 L30.0,66.2 L27.8,66.4 L25.6,66.1 L23.4,65.5 L21.4,64.7 L19.4,63.6 L17.5,62.5 L15.8,61.1 L14.2,59.5 L12.9,57.7 L11.9,55.7 L11.3,53.5 L11.1,51.1 L11.3,48.7 L9.1,47.7 L7.1,46.3 L5.5,44.7 L4.2,42.8 L3.3,40.8 L2.8,38.6 L2.5,36.4 L2.4,34.2 L2.5,32.0 L2.8,29.8 L3.3,27.6 L4.2,25.6 L5.5,23.7 L7.1,22.1 L9.1,20.7 L11.3,19.7 L11.1,17.3 L11.3,14.9 L11.9,12.7 L12.9,10.7 L14.2,8.9 L15.8,7.3 L17.5,5.9 L19.4,4.8 L21.4,3.7 L23.4,2.9 L25.6,2.3 L27.8,2.0 L30.0,2.2 L32.3,2.8 L34.4,3.8 L36.4,5.2 L38.4,3.8 L40.5,2.8 L42.8,2.2 L45.0,2.0 L47.2,2.3 L49.4,2.9 L51.4,3.7 L53.4,4.8 L55.3,5.9 L57.0,7.3 L58.6,8.9 L59.9,10.7 L60.9,12.7 L61.5,14.9 L61.7,17.3 L61.5,19.7 L63.7,20.7 L65.7,22.1 L67.3,23.7 L68.6,25.6 L69.5,27.6 L70.0,29.8 L70.3,32.0 Z" fill="#262a26" opacity="1.00" filter="url(#f0_6)" /><clipPath id="fa11"><path d="M70.4,34.2 L70.3,36.4 L70.0,38.6 L69.5,40.8 L68.6,42.8 L67.3,44.7 L65.7,46.3 L63.7,47.7 L61.5,48.7 L61.7,51.1 L61.5,53.5 L60.9,55.7 L59.9,57.7 L58.6,59.5 L57.0,61.1 L55.3,62.5 L53.4,63.6 L51.4,64.7 L49.4,65.5 L47.2,66.1 L45.0,66.4 L42.8,66.2 L40.5,65.6 L38.4,64.6 L36.4,63.2 L34.4,64.6 L32.3,65.6 L30.0,66.2 L27.8,66.4 L25.6,66.1 L23.4,65.5 L21.4,64.7 L19.4,63.6 L17.5,62.5 L15.8,61.1 L14.2,59.5 L12.9,57.7 L11.9,55.7 L11.3,53.5 L11.1,51.1 L11.3,48.7 L9.1,47.7 L7.1,46.3 L5.5,44.7 L4.2,42.8 L3.3,40.8 L2.8,38.6 L2.5,36.4 L2.4,34.2 L2.5,32.0 L2.8,29.8 L3.3,27.6 L4.2,25.6 L5.5,23.7 L7.1,22.1 L9.1,20.7 L11.3,19.7 L11.1,17.3 L11.3,14.9 L11.9,12.7 L12.9,10.7 L14.2,8.9 L15.8,7.3 L17.5,5.9 L19.4,4.8 L21.4,3.7 L23.4,2.9 L25.6,2.3 L27.8,2.0 L30.0,2.2 L32.3,2.8 L34.4,3.8 L36.4,5.2 L38.4,3.8 L40.5,2.8 L42.8,2.2 L45.0,2.0 L47.2,2.3 L49.4,2.9 L51.4,3.7 L53.4,4.8 L55.3,5.9 L57.0,7.3 L58.6,8.9 L59.9,10.7 L60.9,12.7 L61.5,14.9 L61.7,17.3 L61.5,19.7 L63.7,20.7 L65.7,22.1 L67.3,23.7 L68.6,25.6 L69.5,27.6 L70.0,29.8 L70.3,32.0 Z"/></clipPath><g clip-path="url(#fa11)"><path d="M66.0,36.0 L65.9,37.9 L65.7,39.8 L65.2,41.7 L64.5,43.5 L63.4,45.1 L62.0,46.6 L60.4,47.8 L58.6,48.8 L58.7,50.8 L58.4,52.8 L57.9,54.7 L57.0,56.5 L55.8,58.0 L54.4,59.4 L52.9,60.5 L51.2,61.5 L49.5,62.5 L47.8,63.2 L45.9,63.7 L44.0,64.0 L42.0,63.9 L40.1,63.4 L38.2,62.6 L36.5,61.5 L34.8,62.6 L32.9,63.4 L31.0,63.9 L29.0,64.0 L27.1,63.7 L25.2,63.2 L23.5,62.5 L21.8,61.5 L20.1,60.5 L18.6,59.4 L17.2,58.0 L16.0,56.5 L15.1,54.7 L14.6,52.8 L14.3,50.8 L14.4,48.8 L12.6,47.8 L11.0,46.6 L9.6,45.1 L8.5,43.5 L7.8,41.7 L7.3,39.8 L7.1,37.9 L7.0,36.0 L7.1,34.1 L7.3,32.2 L7.8,30.3 L8.5,28.5 L9.6,26.9 L11.0,25.4 L12.6,24.2 L14.4,23.3 L14.3,21.2 L14.6,19.2 L15.1,17.3 L16.0,15.5 L17.2,14.0 L18.6,12.6 L20.1,11.5 L21.7,10.5 L23.5,9.5 L25.2,8.8 L27.1,8.3 L29.0,8.0 L31.0,8.1 L32.9,8.6 L34.8,9.4 L36.5,10.5 L38.2,9.4 L40.1,8.6 L42.0,8.1 L44.0,8.0 L45.9,8.3 L47.8,8.8 L49.5,9.5 L51.2,10.5 L52.9,11.5 L54.4,12.6 L55.8,14.0 L57.0,15.5 L57.9,17.3 L58.4,19.2 L58.7,21.2 L58.6,23.2 L60.4,24.2 L62.0,25.4 L63.4,26.9 L64.5,28.5 L65.2,30.3 L65.7,32.2 L65.9,34.1 Z" fill="#afc8b0" opacity="1.00" filter="url(#f1_5)" /><path d="M14,28 C22,26 50,26 56,30 L54,50 L16,50 Z" fill="#3a2810" opacity="1.00" filter="url(#f1_5)" /><path d="M19,40 L30,40 L30,49 L20,48 Z" fill="#a07028" opacity="1.00" filter="url(#f1)" /><path d="M32,39 L49,39 L48,48 L32,47 Z" fill="#a07028" opacity="1.00" filter="url(#f1)" /><path d="M50,26.5 L57,27 L56,35 L50,35 Z" fill="#a07028" opacity="1.00" filter="url(#f1)" /><path d="M51.0,21.0 L51.0,22.1 L50.8,23.2 L50.5,24.2 L49.9,25.2 L49.1,26.0 L48.1,26.8 L46.9,27.3 L45.6,27.7 L45.9,28.9 L46.0,30.2 L45.8,31.3 L45.4,32.4 L44.7,33.3 L43.9,34.1 L43.0,34.8 L42.0,35.3 L41.0,35.8 L39.9,36.3 L38.7,36.5 L37.5,36.6 L36.3,36.4 L35.1,35.9 L34.0,35.3 L33.0,34.3 L32.0,35.3 L30.9,35.9 L29.7,36.4 L28.5,36.6 L27.3,36.5 L26.1,36.3 L25.0,35.8 L24.0,35.3 L23.0,34.8 L22.1,34.1 L21.3,33.3 L20.6,32.4 L20.2,31.3 L20.0,30.2 L20.1,28.9 L20.4,27.7 L19.1,27.3 L17.9,26.8 L16.9,26.0 L16.1,25.2 L15.5,24.2 L15.2,23.2 L15.0,22.1 L15.0,21.0 L15.0,19.9 L15.2,18.8 L15.5,17.8 L16.1,16.8 L16.9,16.0 L17.9,15.2 L19.1,14.7 L20.4,14.3 L20.1,13.1 L20.0,11.8 L20.2,10.7 L20.6,9.6 L21.3,8.7 L22.1,7.9 L23.0,7.2 L24.0,6.7 L25.0,6.2 L26.1,5.7 L27.3,5.5 L28.5,5.4 L29.7,5.6 L30.9,6.1 L32.0,6.7 L33.0,7.7 L34.0,6.7 L35.1,6.1 L36.3,5.6 L37.5,5.4 L38.7,5.5 L39.9,5.7 L41.0,6.2 L42.0,6.7 L43.0,7.2 L43.9,7.9 L44.7,8.7 L45.4,9.6 L45.8,10.7 L46.0,11.8 L45.9,13.1 L45.6,14.3 L46.9,14.7 L48.1,15.2 L49.1,16.0 L49.9,16.8 L50.5,17.8 L50.8,18.8 L51.0,19.9 Z" fill="#e0a038" opacity="1.00" filter="url(#f1)" /></g><path d="M69.4,34.2 L69.3,36.4 L69.1,38.5 L68.7,40.6 L68.1,42.7 L67.0,44.6 L65.5,46.3 L63.4,47.5 L60.6,48.2 L61.4,50.9 L61.4,53.4 L60.7,55.5 L59.6,57.4 L58.1,59.0 L56.5,60.4 L54.7,61.6 L52.9,62.8 L51.0,63.8 L49.0,64.7 L47.0,65.4 L44.9,65.9 L42.7,65.9 L40.5,65.4 L38.4,64.2 L36.4,62.2 L34.4,64.2 L32.3,65.4 L30.1,65.9 L27.9,65.9 L25.8,65.4 L23.8,64.7 L21.8,63.8 L19.9,62.8 L18.1,61.6 L16.3,60.4 L14.7,59.0 L13.2,57.4 L12.1,55.5 L11.4,53.4 L11.4,50.9 L12.2,48.2 L9.4,47.5 L7.3,46.3 L5.8,44.6 L4.7,42.7 L4.1,40.6 L3.7,38.5 L3.5,36.4 L3.4,34.2 L3.5,32.0 L3.7,29.9 L4.1,27.8 L4.7,25.7 L5.8,23.8 L7.3,22.1 L9.4,20.9 L12.2,20.2 L11.4,17.5 L11.4,15.0 L12.1,12.9 L13.2,11.0 L14.7,9.4 L16.3,8.0 L18.1,6.8 L19.9,5.6 L21.8,4.6 L23.8,3.7 L25.8,3.0 L27.9,2.5 L30.1,2.5 L32.3,3.0 L34.4,4.2 L36.4,6.2 L38.4,4.2 L40.5,3.0 L42.7,2.5 L44.9,2.5 L47.0,3.0 L49.0,3.7 L51.0,4.6 L52.9,5.6 L54.7,6.8 L56.5,8.0 L58.1,9.4 L59.6,11.0 L60.7,12.9 L61.4,15.0 L61.4,17.5 L60.6,20.2 L63.4,20.9 L65.5,22.1 L67.0,23.8 L68.1,25.7 L68.7,27.8 L69.1,29.9 L69.3,32.0 Z" fill="none" opacity="1.00" filter="url(#f0_6)" class="ring" stroke="#3e3e3c" stroke-width="3.0"/></g></g>
<text x="759.6" y="443.9" class="hd">well</text>
<text x="759.6" y="466.0" class="hd">C03</text>
<g transform="translate(585.0,494.4)"><clipPath id="c10"><rect width="71.6" height="65.8"/></clipPath><g clip-path="url(#c10)"><rect width="71.6" height="65.8" fill="#222a38"/><path d="M69.5,33.0 L69.4,35.0 L69.1,37.1 L68.5,39.0 L67.6,40.9 L66.3,42.6 L64.6,44.0 L62.6,45.2 L60.2,46.0 L60.6,48.3 L60.6,50.5 L60.1,52.6 L59.1,54.5 L57.9,56.2 L56.3,57.7 L54.6,58.9 L52.8,60.0 L50.8,60.9 L48.8,61.7 L46.7,62.2 L44.5,62.4 L42.2,62.2 L40.0,61.5 L37.9,60.5 L36.0,59.0 L34.1,60.5 L32.0,61.5 L29.8,62.2 L27.5,62.4 L25.3,62.2 L23.2,61.7 L21.2,60.9 L19.3,60.0 L17.4,58.9 L15.7,57.7 L14.1,56.2 L12.9,54.5 L11.9,52.6 L11.4,50.5 L11.4,48.3 L11.8,46.0 L9.4,45.2 L7.4,44.0 L5.7,42.6 L4.4,40.9 L3.5,39.0 L2.9,37.1 L2.6,35.0 L2.5,33.0 L2.6,31.0 L2.9,28.9 L3.5,27.0 L4.4,25.1 L5.7,23.4 L7.4,22.0 L9.4,20.8 L11.8,20.0 L11.4,17.7 L11.4,15.5 L11.9,13.4 L12.9,11.5 L14.1,9.8 L15.7,8.3 L17.4,7.1 L19.2,6.0 L21.2,5.1 L23.2,4.3 L25.3,3.8 L27.5,3.6 L29.8,3.8 L32.0,4.5 L34.1,5.5 L36.0,7.0 L37.9,5.5 L40.0,4.5 L42.2,3.8 L44.5,3.6 L46.7,3.8 L48.8,4.3 L50.8,5.1 L52.8,6.0 L54.6,7.1 L56.3,8.3 L57.9,9.8 L59.1,11.5 L60.1,13.4 L60.6,15.5 L60.6,17.7 L60.2,20.0 L62.6,20.8 L64.6,22.0 L66.3,23.4 L67.6,25.1 L68.5,27.0 L69.1,28.9 L69.4,31.0 Z" fill="url(#gPeach3)" opacity="1.00" filter="url(#f1)" /><circle cx="24.0" cy="15.0" r="8.0" fill="#9a8a88" opacity="0.90" filter="url(#f1)" /><circle cx="24.0" cy="46.0" r="8.5" fill="none" opacity="1.00" filter="url(#f1)" stroke="#9a6a40" stroke-width="1.5"/></g></g>
<g transform="translate(671.7,494.4)"><clipPath id="c11"><rect width="72.1" height="65.8"/></clipPath><g clip-path="url(#c11)"><rect width="72.1" height="65.8" fill="#0a0a0a"/><path d="M70.4,34.0 L70.3,36.2 L70.0,38.4 L69.5,40.6 L68.6,42.6 L67.3,44.5 L65.7,46.1 L63.7,47.5 L61.5,48.5 L61.7,50.9 L61.5,53.3 L60.9,55.5 L59.9,57.5 L58.6,59.3 L57.0,60.9 L55.3,62.3 L53.4,63.4 L51.4,64.5 L49.4,65.3 L47.2,65.9 L45.0,66.2 L42.8,66.0 L40.5,65.4 L38.4,64.4 L36.4,63.0 L34.4,64.4 L32.3,65.4 L30.0,66.0 L27.8,66.2 L25.6,65.9 L23.4,65.3 L21.4,64.5 L19.4,63.4 L17.5,62.3 L15.8,60.9 L14.2,59.3 L12.9,57.5 L11.9,55.5 L11.3,53.3 L11.1,50.9 L11.3,48.5 L9.1,47.5 L7.1,46.1 L5.5,44.5 L4.2,42.6 L3.3,40.6 L2.8,38.4 L2.5,36.2 L2.4,34.0 L2.5,31.8 L2.8,29.6 L3.3,27.4 L4.2,25.4 L5.5,23.5 L7.1,21.9 L9.1,20.5 L11.3,19.5 L11.1,17.1 L11.3,14.7 L11.9,12.5 L12.9,10.5 L14.2,8.7 L15.8,7.1 L17.5,5.7 L19.4,4.6 L21.4,3.5 L23.4,2.7 L25.6,2.1 L27.8,1.8 L30.0,2.0 L32.3,2.6 L34.4,3.6 L36.4,5.0 L38.4,3.6 L40.5,2.6 L42.8,2.0 L45.0,1.8 L47.2,2.1 L49.4,2.7 L51.4,3.5 L53.4,4.6 L55.3,5.7 L57.0,7.1 L58.6,8.7 L59.9,10.5 L60.9,12.5 L61.5,14.7 L61.7,17.1 L61.5,19.5 L63.7,20.5 L65.7,21.9 L67.3,23.5 L68.6,25.4 L69.5,27.4 L70.0,29.6 L70.3,31.8 Z" fill="#262624" opacity="1.00" filter="url(#f0_6)" /><clipPath id="fa12"><path d="M70.4,34.0 L70.3,36.2 L70.0,38.4 L69.5,40.6 L68.6,42.6 L67.3,44.5 L65.7,46.1 L63.7,47.5 L61.5,48.5 L61.7,50.9 L61.5,53.3 L60.9,55.5 L59.9,57.5 L58.6,59.3 L57.0,60.9 L55.3,62.3 L53.4,63.4 L51.4,64.5 L49.4,65.3 L47.2,65.9 L45.0,66.2 L42.8,66.0 L40.5,65.4 L38.4,64.4 L36.4,63.0 L34.4,64.4 L32.3,65.4 L30.0,66.0 L27.8,66.2 L25.6,65.9 L23.4,65.3 L21.4,64.5 L19.4,63.4 L17.5,62.3 L15.8,60.9 L14.2,59.3 L12.9,57.5 L11.9,55.5 L11.3,53.3 L11.1,50.9 L11.3,48.5 L9.1,47.5 L7.1,46.1 L5.5,44.5 L4.2,42.6 L3.3,40.6 L2.8,38.4 L2.5,36.2 L2.4,34.0 L2.5,31.8 L2.8,29.6 L3.3,27.4 L4.2,25.4 L5.5,23.5 L7.1,21.9 L9.1,20.5 L11.3,19.5 L11.1,17.1 L11.3,14.7 L11.9,12.5 L12.9,10.5 L14.2,8.7 L15.8,7.1 L17.5,5.7 L19.4,4.6 L21.4,3.5 L23.4,2.7 L25.6,2.1 L27.8,1.8 L30.0,2.0 L32.3,2.6 L34.4,3.6 L36.4,5.0 L38.4,3.6 L40.5,2.6 L42.8,2.0 L45.0,1.8 L47.2,2.1 L49.4,2.7 L51.4,3.5 L53.4,4.6 L55.3,5.7 L57.0,7.1 L58.6,8.7 L59.9,10.5 L60.9,12.5 L61.5,14.7 L61.7,17.1 L61.5,19.5 L63.7,20.5 L65.7,21.9 L67.3,23.5 L68.6,25.4 L69.5,27.4 L70.0,29.6 L70.3,31.8 Z"/></clipPath><g clip-path="url(#fa12)"><path d="M66.0,35.0 L65.9,36.9 L65.7,38.8 L65.2,40.7 L64.5,42.5 L63.4,44.1 L62.0,45.6 L60.4,46.8 L58.6,47.8 L58.7,49.8 L58.4,51.8 L57.9,53.7 L57.0,55.5 L55.8,57.0 L54.4,58.4 L52.9,59.5 L51.2,60.5 L49.5,61.5 L47.8,62.2 L45.9,62.7 L44.0,63.0 L42.0,62.9 L40.1,62.4 L38.2,61.6 L36.5,60.5 L34.8,61.6 L32.9,62.4 L31.0,62.9 L29.0,63.0 L27.1,62.7 L25.2,62.2 L23.5,61.5 L21.8,60.5 L20.1,59.5 L18.6,58.4 L17.2,57.0 L16.0,55.5 L15.1,53.7 L14.6,51.8 L14.3,49.8 L14.4,47.8 L12.6,46.8 L11.0,45.6 L9.6,44.1 L8.5,42.5 L7.8,40.7 L7.3,38.8 L7.1,36.9 L7.0,35.0 L7.1,33.1 L7.3,31.2 L7.8,29.3 L8.5,27.5 L9.6,25.9 L11.0,24.4 L12.6,23.2 L14.4,22.3 L14.3,20.2 L14.6,18.2 L15.1,16.3 L16.0,14.5 L17.2,13.0 L18.6,11.6 L20.1,10.5 L21.7,9.5 L23.5,8.5 L25.2,7.8 L27.1,7.3 L29.0,7.0 L31.0,7.1 L32.9,7.6 L34.8,8.4 L36.5,9.5 L38.2,8.4 L40.1,7.6 L42.0,7.1 L44.0,7.0 L45.9,7.3 L47.8,7.8 L49.5,8.5 L51.2,9.5 L52.9,10.5 L54.4,11.6 L55.8,13.0 L57.0,14.5 L57.9,16.3 L58.4,18.2 L58.7,20.2 L58.6,22.2 L60.4,23.2 L62.0,24.4 L63.4,25.9 L64.5,27.5 L65.2,29.3 L65.7,31.2 L65.9,33.1 Z" fill="#b8d0b8" opacity="1.00" filter="url(#f1_5)" /><path d="M13,12 C24,8 50,8 54,12 L52,40 C44,44 22,44 15,40 Z" fill="#3a2410" opacity="1.00" filter="url(#f1_5)" /><path d="M19,24 L34,27 L34,41 L21,39 Z" fill="#6a4018" opacity="1.00" filter="url(#f1_5)" /><path d="M37,27 L50,24 L49,40 L37,42 Z" fill="#6a4018" opacity="1.00" filter="url(#f1_5)" /><path d="M15,6 C24,2 44,2 50,5 C51,12 48,19 36,19 C24,19 16,14 15,6 Z" fill="#d89838" opacity="1.00" filter="url(#f1_5)" /><path d="M18,58 C28,62 46,62 56,58 L54,64 L20,64 Z" fill="#202020" opacity="1.00" filter="url(#f1)" /></g><path d="M69.4,34.0 L69.3,36.2 L69.1,38.3 L68.7,40.4 L68.1,42.5 L67.0,44.4 L65.5,46.1 L63.4,47.3 L60.6,48.0 L61.4,50.7 L61.4,53.2 L60.7,55.3 L59.6,57.2 L58.1,58.8 L56.5,60.2 L54.7,61.4 L52.9,62.6 L51.0,63.6 L49.0,64.5 L47.0,65.2 L44.9,65.7 L42.7,65.7 L40.5,65.2 L38.4,64.0 L36.4,62.0 L34.4,64.0 L32.3,65.2 L30.1,65.7 L27.9,65.7 L25.8,65.2 L23.8,64.5 L21.8,63.6 L19.9,62.6 L18.1,61.4 L16.3,60.2 L14.7,58.8 L13.2,57.2 L12.1,55.3 L11.4,53.2 L11.4,50.7 L12.2,48.0 L9.4,47.3 L7.3,46.1 L5.8,44.4 L4.7,42.5 L4.1,40.4 L3.7,38.3 L3.5,36.2 L3.4,34.0 L3.5,31.8 L3.7,29.7 L4.1,27.6 L4.7,25.5 L5.8,23.6 L7.3,21.9 L9.4,20.7 L12.2,20.0 L11.4,17.3 L11.4,14.8 L12.1,12.7 L13.2,10.8 L14.7,9.2 L16.3,7.8 L18.1,6.6 L19.9,5.4 L21.8,4.4 L23.8,3.5 L25.8,2.8 L27.9,2.3 L30.1,2.3 L32.3,2.8 L34.4,4.0 L36.4,6.0 L38.4,4.0 L40.5,2.8 L42.7,2.3 L44.9,2.3 L47.0,2.8 L49.0,3.5 L51.0,4.4 L52.9,5.4 L54.7,6.6 L56.5,7.8 L58.1,9.2 L59.6,10.8 L60.7,12.7 L61.4,14.8 L61.4,17.3 L60.6,20.0 L63.4,20.7 L65.5,21.9 L67.0,23.6 L68.1,25.5 L68.7,27.6 L69.1,29.7 L69.3,31.8 Z" fill="none" opacity="1.00" filter="url(#f0_6)" class="ring" stroke="#444442" stroke-width="3.0"/></g></g>
<text x="759.6" y="523.1" class="hd">well</text>
<text x="759.6" y="545.2" class="hd">D03</text>
<text x="619.4" y="608.1" class="hd" text-anchor="middle">below</text>
<text x="707.0" y="608.1" class="hd" text-anchor="middle">above</text>
<g transform="translate(585.0,623.1)"><clipPath id="c12"><rect width="71.6" height="65.8"/></clipPath><g clip-path="url(#c12)"><rect width="71.6" height="65.8" fill="#242e3e"/><path d="M66.0,32.5 L65.9,34.4 L65.7,36.3 L65.4,38.1 L64.8,40.0 L63.9,41.6 L62.5,43.1 L60.7,44.2 L58.2,44.8 L58.9,47.2 L58.9,49.3 L58.4,51.2 L57.4,52.9 L56.1,54.3 L54.6,55.5 L53.1,56.6 L51.5,57.6 L49.8,58.5 L48.1,59.3 L46.3,59.9 L44.5,60.3 L42.5,60.4 L40.6,59.9 L38.7,58.8 L37.0,57.0 L35.3,58.8 L33.4,59.9 L31.5,60.4 L29.5,60.3 L27.7,59.9 L25.9,59.3 L24.2,58.5 L22.5,57.6 L20.9,56.6 L19.4,55.5 L17.9,54.3 L16.6,52.9 L15.6,51.2 L15.1,49.3 L15.1,47.2 L15.8,44.8 L13.3,44.2 L11.5,43.1 L10.1,41.6 L9.2,40.0 L8.6,38.1 L8.3,36.3 L8.1,34.4 L8.0,32.5 L8.1,30.6 L8.3,28.7 L8.6,26.9 L9.2,25.0 L10.1,23.4 L11.5,21.9 L13.3,20.8 L15.8,20.3 L15.1,17.8 L15.1,15.7 L15.6,13.8 L16.6,12.1 L17.9,10.7 L19.4,9.5 L20.9,8.4 L22.5,7.4 L24.2,6.5 L25.9,5.7 L27.7,5.1 L29.5,4.7 L31.5,4.6 L33.4,5.1 L35.3,6.2 L37.0,8.0 L38.7,6.2 L40.6,5.1 L42.5,4.6 L44.5,4.7 L46.3,5.1 L48.1,5.7 L49.8,6.5 L51.5,7.4 L53.1,8.4 L54.6,9.5 L56.1,10.7 L57.4,12.1 L58.4,13.8 L58.9,15.7 L58.9,17.8 L58.2,20.2 L60.7,20.8 L62.5,21.9 L63.9,23.4 L64.8,25.0 L65.4,26.9 L65.7,28.7 L65.9,30.6 Z" fill="#6a5a46" opacity="1.00" filter="url(#f1_5)" /><ellipse cx="30.0" cy="44.0" rx="14.0" ry="13.0" fill="#c8a068" opacity="0.85" filter="url(#f3)" /><ellipse cx="14.0" cy="30.0" rx="5.0" ry="10.0" fill="#d0a868" opacity="1.00" filter="url(#f1_5)" /><ellipse cx="46.0" cy="16.0" rx="9.0" ry="6.0" fill="#c8a068" opacity="1.00" filter="url(#f1_5)" /><ellipse cx="60.0" cy="35.0" rx="5.0" ry="8.0" fill="#9a8068" opacity="1.00" filter="url(#f1_5)" /><ellipse cx="52.0" cy="50.0" rx="6.0" ry="5.0" fill="#a88860" opacity="1.00" filter="url(#f1_5)" /><ellipse cx="34.3" cy="23.1" rx="6.0" ry="2.6" fill="#24242c" opacity="0.90" filter="url(#f1)" /><ellipse cx="29.6" cy="31.5" rx="5.0" ry="2.6" fill="#2a2a30" opacity="0.80" filter="url(#f1)" /><ellipse cx="47.3" cy="39.9" rx="4.0" ry="3.5" fill="#2c2a2c" opacity="0.80" filter="url(#f1)" /><ellipse cx="42.6" cy="54.8" rx="6.0" ry="2.6" fill="#2a2624" opacity="0.80" filter="url(#f1)" /><ellipse cx="52.0" cy="26.8" rx="6.0" ry="5.0" fill="#5a5048" opacity="0.80" filter="url(#f1)" /><circle cx="28.7" cy="15.7" r="8.0" fill="#9a9088" opacity="1.00" filter="url(#f0_6)" /><circle cx="29.6" cy="41.8" r="7.0" fill="#dcb47c" opacity="1.00" filter="url(#f0_6)" /><ellipse cx="28.7" cy="52.9" rx="4.0" ry="3.0" fill="#fff0c0" opacity="1.00" filter="url(#f1)" /></g></g>
<g transform="translate(671.7,623.1)"><clipPath id="c13"><rect width="72.1" height="65.8"/></clipPath><g clip-path="url(#c13)"><rect width="72.1" height="65.8" fill="#0a0a0a"/><path d="M70.4,33.0 L70.3,35.2 L70.1,37.4 L69.7,39.6 L69.0,41.7 L68.0,43.7 L66.4,45.4 L64.3,46.8 L61.5,47.5 L62.3,50.3 L62.2,52.8 L61.5,55.0 L60.3,56.9 L58.8,58.5 L57.1,60.0 L55.3,61.3 L53.4,62.4 L51.4,63.5 L49.4,64.4 L47.3,65.1 L45.1,65.6 L42.9,65.7 L40.6,65.2 L38.4,64.0 L36.4,62.0 L34.4,64.0 L32.2,65.2 L29.9,65.7 L27.7,65.6 L25.5,65.1 L23.4,64.4 L21.4,63.5 L19.4,62.4 L17.5,61.3 L15.7,60.0 L14.0,58.5 L12.5,56.9 L11.3,55.0 L10.6,52.8 L10.5,50.3 L11.3,47.5 L8.5,46.8 L6.4,45.4 L4.8,43.7 L3.8,41.7 L3.1,39.6 L2.7,37.4 L2.5,35.2 L2.4,33.0 L2.5,30.8 L2.7,28.6 L3.1,26.4 L3.8,24.3 L4.8,22.3 L6.4,20.6 L8.5,19.2 L11.3,18.5 L10.5,15.7 L10.6,13.2 L11.3,11.0 L12.5,9.1 L14.0,7.5 L15.7,6.0 L17.5,4.7 L19.4,3.6 L21.4,2.5 L23.4,1.6 L25.5,0.9 L27.7,0.4 L29.9,0.3 L32.2,0.8 L34.4,2.0 L36.4,4.0 L38.4,2.0 L40.6,0.8 L42.9,0.3 L45.1,0.4 L47.3,0.9 L49.4,1.6 L51.4,2.5 L53.4,3.6 L55.3,4.7 L57.1,6.0 L58.8,7.5 L60.3,9.1 L61.5,11.0 L62.2,13.2 L62.3,15.7 L61.5,18.5 L64.3,19.2 L66.4,20.6 L68.0,22.3 L69.0,24.3 L69.7,26.4 L70.1,28.6 L70.3,30.8 Z" fill="#1c1409" opacity="1.00" filter="url(#f0_6)" /><clipPath id="fa20"><path d="M70.4,33.0 L70.3,35.2 L70.1,37.4 L69.7,39.6 L69.0,41.7 L68.0,43.7 L66.4,45.4 L64.3,46.8 L61.5,47.5 L62.3,50.3 L62.2,52.8 L61.5,55.0 L60.3,56.9 L58.8,58.5 L57.1,60.0 L55.3,61.3 L53.4,62.4 L51.4,63.5 L49.4,64.4 L47.3,65.1 L45.1,65.6 L42.9,65.7 L40.6,65.2 L38.4,64.0 L36.4,62.0 L34.4,64.0 L32.2,65.2 L29.9,65.7 L27.7,65.6 L25.5,65.1 L23.4,64.4 L21.4,63.5 L19.4,62.4 L17.5,61.3 L15.7,60.0 L14.0,58.5 L12.5,56.9 L11.3,55.0 L10.6,52.8 L10.5,50.3 L11.3,47.5 L8.5,46.8 L6.4,45.4 L4.8,43.7 L3.8,41.7 L3.1,39.6 L2.7,37.4 L2.5,35.2 L2.4,33.0 L2.5,30.8 L2.7,28.6 L3.1,26.4 L3.8,24.3 L4.8,22.3 L6.4,20.6 L8.5,19.2 L11.3,18.5 L10.5,15.7 L10.6,13.2 L11.3,11.0 L12.5,9.1 L14.0,7.5 L15.7,6.0 L17.5,4.7 L19.4,3.6 L21.4,2.5 L23.4,1.6 L25.5,0.9 L27.7,0.4 L29.9,0.3 L32.2,0.8 L34.4,2.0 L36.4,4.0 L38.4,2.0 L40.6,0.8 L42.9,0.3 L45.1,0.4 L47.3,0.9 L49.4,1.6 L51.4,2.5 L53.4,3.6 L55.3,4.7 L57.1,6.0 L58.8,7.5 L60.3,9.1 L61.5,11.0 L62.2,13.2 L62.3,15.7 L61.5,18.5 L64.3,19.2 L66.4,20.6 L68.0,22.3 L69.0,24.3 L69.7,26.4 L70.1,28.6 L70.3,30.8 Z"/></clipPath><g clip-path="url(#fa20)"><path d="M14,8 L32,6 L34,30 L16,28 Z" fill="#d0a840" opacity="1.00" filter="url(#f1_5)" /><path d="M36,4 L58,6 L58,26 L42,26 Z" fill="#d6b044" opacity="1.00" filter="url(#f1_5)" /><path d="M2,22 L22,24 L28,40 L4,40 Z" fill="#d0a840" opacity="1.00" filter="url(#f1_5)" /><path d="M34,40 C44,34 58,36 64,42 C66,54 60,62 48,64 C40,64 36,60 34,52 Z" fill="#e2ba4a" opacity="1.00" filter="url(#f1_5)" /><path d="M8,48 L26,52 L30,64 L10,64 Z" fill="#c8a038" opacity="1.00" filter="url(#f1_5)" /><path d="M58,18 L68,20 L68,36 L60,34 Z" fill="#c8a038" opacity="1.00" filter="url(#f1_5)" /><path d="M26,30 L40,32 L36,40 L24,38 Z" fill="#8a6a28" opacity="1.00" filter="url(#f1_5)" /><path d="M6,20 L18,8 L42,34 L32,42 Z" fill="#140e06" opacity="0.70" filter="url(#f1_5)" /><path d="M10,42 C22,40 38,46 46,58 L38,64 C30,54 18,50 8,50 Z" fill="#140e06" opacity="0.75" filter="url(#f1_5)" /></g><path d="M69.4,33.0 L69.3,35.2 L69.1,37.3 L68.7,39.4 L68.1,41.5 L67.0,43.4 L65.5,45.1 L63.4,46.3 L60.6,47.0 L61.4,49.7 L61.4,52.2 L60.7,54.3 L59.6,56.2 L58.1,57.8 L56.5,59.2 L54.7,60.4 L52.9,61.6 L51.0,62.6 L49.0,63.5 L47.0,64.2 L44.9,64.7 L42.7,64.7 L40.5,64.2 L38.4,63.0 L36.4,61.0 L34.4,63.0 L32.3,64.2 L30.1,64.7 L27.9,64.7 L25.8,64.2 L23.8,63.5 L21.8,62.6 L19.9,61.6 L18.1,60.4 L16.3,59.2 L14.7,57.8 L13.2,56.2 L12.1,54.3 L11.4,52.2 L11.4,49.7 L12.2,47.0 L9.4,46.3 L7.3,45.1 L5.8,43.4 L4.7,41.5 L4.1,39.4 L3.7,37.3 L3.5,35.2 L3.4,33.0 L3.5,30.8 L3.7,28.7 L4.1,26.6 L4.7,24.5 L5.8,22.6 L7.3,20.9 L9.4,19.7 L12.2,19.0 L11.4,16.3 L11.4,13.8 L12.1,11.7 L13.2,9.8 L14.7,8.2 L16.3,6.8 L18.1,5.6 L19.9,4.4 L21.8,3.4 L23.8,2.5 L25.8,1.8 L27.9,1.3 L30.1,1.3 L32.3,1.8 L34.4,3.0 L36.4,5.0 L38.4,3.0 L40.5,1.8 L42.7,1.3 L44.9,1.3 L47.0,1.8 L49.0,2.5 L51.0,3.4 L52.9,4.4 L54.7,5.6 L56.5,6.8 L58.1,8.2 L59.6,9.8 L60.7,11.7 L61.4,13.8 L61.4,16.3 L60.6,19.0 L63.4,19.7 L65.5,20.9 L67.0,22.6 L68.1,24.5 L68.7,26.6 L69.1,28.7 L69.3,30.8 Z" fill="none" opacity="1.00" filter="url(#f0_6)" class="ring" stroke="#8a8680" stroke-width="3.0"/></g></g>
<text x="759.6" y="651.8" class="hd">well</text>
<text x="759.6" y="673.9" class="hd">A05</text>
<g transform="translate(585.0,703.2)"><clipPath id="c14"><rect width="71.6" height="65.8"/></clipPath><g clip-path="url(#c14)"><rect width="71.6" height="65.8" fill="#1c2436"/><path d="M67.2,34.2 L67.1,36.2 L66.9,38.2 L66.5,40.2 L65.9,42.2 L64.9,44.0 L63.5,45.5 L61.4,46.6 L58.7,47.2 L59.6,49.8 L59.6,52.2 L59.0,54.2 L58.0,56.0 L56.6,57.5 L55.1,58.8 L53.4,60.0 L51.7,61.0 L49.9,62.0 L48.1,62.8 L46.1,63.5 L44.2,63.9 L42.1,64.0 L40.1,63.5 L38.0,62.2 L36.2,60.2 L34.4,62.2 L32.3,63.5 L30.3,64.0 L28.2,63.9 L26.3,63.5 L24.3,62.8 L22.5,62.0 L20.7,61.0 L19.0,60.0 L17.3,58.8 L15.8,57.5 L14.4,56.0 L13.4,54.2 L12.8,52.2 L12.8,49.8 L13.7,47.2 L11.0,46.6 L8.9,45.5 L7.5,44.0 L6.5,42.2 L5.9,40.2 L5.5,38.2 L5.3,36.2 L5.2,34.2 L5.3,32.2 L5.5,30.2 L5.9,28.2 L6.5,26.2 L7.5,24.4 L8.9,22.9 L11.0,21.8 L13.7,21.2 L12.8,18.6 L12.8,16.2 L13.4,14.2 L14.4,12.4 L15.8,10.9 L17.3,9.6 L19.0,8.4 L20.7,7.4 L22.5,6.4 L24.3,5.6 L26.3,4.9 L28.2,4.5 L30.3,4.4 L32.3,4.9 L34.4,6.2 L36.2,8.2 L38.0,6.2 L40.1,4.9 L42.1,4.4 L44.2,4.5 L46.1,4.9 L48.1,5.6 L49.9,6.4 L51.7,7.4 L53.4,8.4 L55.1,9.6 L56.6,10.9 L58.0,12.4 L59.0,14.2 L59.6,16.2 L59.6,18.6 L58.7,21.2 L61.4,21.8 L63.5,22.9 L64.9,24.4 L65.9,26.2 L66.5,28.2 L66.9,30.2 L67.1,32.2 Z" fill="#c4824a" opacity="1.00" filter="url(#f1)" /><ellipse cx="35.0" cy="17.0" rx="20.0" ry="9.0" fill="#8a6050" opacity="0.85" filter="url(#f2_5)" /><circle cx="25.9" cy="16.5" r="8.0" fill="#707888" opacity="1.00" filter="url(#f0_6)" /><ellipse cx="14.7" cy="22.1" rx="2.5" ry="6.0" fill="#2a2028" opacity="0.90" filter="url(#f1)" /><ellipse cx="47.3" cy="31.4" rx="4.0" ry="3.0" fill="#3a2a28" opacity="0.90" filter="url(#f1)" /><ellipse cx="38.0" cy="48.2" rx="6.0" ry="4.0" fill="#3a2a28" opacity="0.90" filter="url(#f1)" /><ellipse cx="51.0" cy="39.0" rx="1.5" ry="1.5" fill="#3a2a28" opacity="0.80" filter="url(#f0_6)" /><circle cx="25.0" cy="47.3" r="8.0" fill="none" opacity="1.00" filter="url(#f0_6)" stroke="#8a5a38" stroke-width="1.3"/></g></g>
<g transform="translate(671.7,703.2)"><clipPath id="c15"><rect width="72.1" height="65.8"/></clipPath><g clip-path="url(#c15)"><rect width="72.1" height="65.8" fill="#0a0a0a"/><path d="M70.4,33.0 L70.3,35.2 L70.1,37.4 L69.7,39.6 L69.0,41.7 L68.0,43.7 L66.4,45.4 L64.3,46.8 L61.5,47.5 L62.3,50.3 L62.2,52.8 L61.5,55.0 L60.3,56.9 L58.8,58.5 L57.1,60.0 L55.3,61.3 L53.4,62.4 L51.4,63.5 L49.4,64.4 L47.3,65.1 L45.1,65.6 L42.9,65.7 L40.6,65.2 L38.4,64.0 L36.4,62.0 L34.4,64.0 L32.2,65.2 L29.9,65.7 L27.7,65.6 L25.5,65.1 L23.4,64.4 L21.4,63.5 L19.4,62.4 L17.5,61.3 L15.7,60.0 L14.0,58.5 L12.5,56.9 L11.3,55.0 L10.6,52.8 L10.5,50.3 L11.3,47.5 L8.5,46.8 L6.4,45.4 L4.8,43.7 L3.8,41.7 L3.1,39.6 L2.7,37.4 L2.5,35.2 L2.4,33.0 L2.5,30.8 L2.7,28.6 L3.1,26.4 L3.8,24.3 L4.8,22.3 L6.4,20.6 L8.5,19.2 L11.3,18.5 L10.5,15.7 L10.6,13.2 L11.3,11.0 L12.5,9.1 L14.0,7.5 L15.7,6.0 L17.5,4.7 L19.4,3.6 L21.4,2.5 L23.4,1.6 L25.5,0.9 L27.7,0.4 L29.9,0.3 L32.2,0.8 L34.4,2.0 L36.4,4.0 L38.4,2.0 L40.6,0.8 L42.9,0.3 L45.1,0.4 L47.3,0.9 L49.4,1.6 L51.4,2.5 L53.4,3.6 L55.3,4.7 L57.1,6.0 L58.8,7.5 L60.3,9.1 L61.5,11.0 L62.2,13.2 L62.3,15.7 L61.5,18.5 L64.3,19.2 L66.4,20.6 L68.0,22.3 L69.0,24.3 L69.7,26.4 L70.1,28.6 L70.3,30.8 Z" fill="#3e2a12" opacity="1.00" filter="url(#f0_6)" /><clipPath id="fa21"><path d="M70.4,33.0 L70.3,35.2 L70.1,37.4 L69.7,39.6 L69.0,41.7 L68.0,43.7 L66.4,45.4 L64.3,46.8 L61.5,47.5 L62.3,50.3 L62.2,52.8 L61.5,55.0 L60.3,56.9 L58.8,58.5 L57.1,60.0 L55.3,61.3 L53.4,62.4 L51.4,63.5 L49.4,64.4 L47.3,65.1 L45.1,65.6 L42.9,65.7 L40.6,65.2 L38.4,64.0 L36.4,62.0 L34.4,64.0 L32.2,65.2 L29.9,65.7 L27.7,65.6 L25.5,65.1 L23.4,64.4 L21.4,63.5 L19.4,62.4 L17.5,61.3 L15.7,60.0 L14.0,58.5 L12.5,56.9 L11.3,55.0 L10.6,52.8 L10.5,50.3 L11.3,47.5 L8.5,46.8 L6.4,45.4 L4.8,43.7 L3.8,41.7 L3.1,39.6 L2.7,37.4 L2.5,35.2 L2.4,33.0 L2.5,30.8 L2.7,28.6 L3.1,26.4 L3.8,24.3 L4.8,22.3 L6.4,20.6 L8.5,19.2 L11.3,18.5 L10.5,15.7 L10.6,13.2 L11.3,11.0 L12.5,9.1 L14.0,7.5 L15.7,6.0 L17.5,4.7 L19.4,3.6 L21.4,2.5 L23.4,1.6 L25.5,0.9 L27.7,0.4 L29.9,0.3 L32.2,0.8 L34.4,2.0 L36.4,4.0 L38.4,2.0 L40.6,0.8 L42.9,0.3 L45.1,0.4 L47.3,0.9 L49.4,1.6 L51.4,2.5 L53.4,3.6 L55.3,4.7 L57.1,6.0 L58.8,7.5 L60.3,9.1 L61.5,11.0 L62.2,13.2 L62.3,15.7 L61.5,18.5 L64.3,19.2 L66.4,20.6 L68.0,22.3 L69.0,24.3 L69.7,26.4 L70.1,28.6 L70.3,30.8 Z"/></clipPath><g clip-path="url(#fa21)"><ellipse cx="14.0" cy="35.0" rx="8.0" ry="11.0" fill="#8a5c20" opacity="1.00" filter="url(#f2)" /><ellipse cx="23.0" cy="12.0" rx="11.0" ry="6.0" fill="#7a5420" opacity="1.00" filter="url(#f2)" /><ellipse cx="26.0" cy="54.0" rx="10.0" ry="6.0" fill="#8a5c20" opacity="1.00" filter="url(#f2)" /><ellipse cx="49.0" cy="58.0" rx="7.0" ry="4.0" fill="#7a5420" opacity="1.00" filter="url(#f2)" /><path d="M66.8,22.0 L66.8,23.2 L66.7,24.3 L66.5,25.5 L66.1,26.6 L65.5,27.6 L64.6,28.5 L63.4,29.1 L61.7,29.4 L62.3,30.9 L62.4,32.3 L62.1,33.5 L61.5,34.5 L60.7,35.4 L59.9,36.2 L58.9,36.8 L57.9,37.5 L56.9,38.0 L55.8,38.5 L54.7,38.9 L53.6,39.1 L52.4,39.1 L51.2,38.8 L50.0,38.0 L49.0,36.7 L48.0,38.0 L46.8,38.8 L45.6,39.1 L44.4,39.1 L43.3,38.9 L42.2,38.5 L41.1,38.0 L40.1,37.5 L39.1,36.8 L38.1,36.2 L37.3,35.4 L36.5,34.5 L35.9,33.5 L35.6,32.3 L35.7,30.9 L36.3,29.4 L34.6,29.1 L33.4,28.5 L32.5,27.6 L31.9,26.6 L31.5,25.5 L31.3,24.3 L31.2,23.2 L31.1,22.0 L31.2,20.8 L31.3,19.7 L31.5,18.5 L31.9,17.4 L32.5,16.4 L33.4,15.5 L34.6,14.9 L36.3,14.7 L35.7,13.1 L35.6,11.7 L35.9,10.5 L36.5,9.5 L37.3,8.6 L38.1,7.8 L39.1,7.2 L40.1,6.5 L41.1,6.0 L42.2,5.5 L43.3,5.1 L44.4,4.9 L45.6,4.9 L46.8,5.2 L48.0,6.0 L49.0,7.3 L50.0,6.0 L51.2,5.2 L52.4,4.9 L53.6,4.9 L54.7,5.1 L55.8,5.5 L56.9,6.0 L57.9,6.5 L58.9,7.2 L59.9,7.8 L60.7,8.6 L61.5,9.5 L62.1,10.5 L62.4,11.7 L62.3,13.1 L61.7,14.6 L63.4,14.9 L64.6,15.5 L65.5,16.4 L66.1,17.4 L66.5,18.5 L66.7,19.7 L66.8,20.8 Z" fill="#bc8429" opacity="1.00" filter="url(#f1_5)" /><ellipse cx="50.0" cy="16.0" rx="9.0" ry="8.0" fill="#c89030" opacity="0.80" filter="url(#f2)" /><ellipse cx="33.0" cy="38.0" rx="6.0" ry="9.0" fill="#1a1008" opacity="0.80" filter="url(#f2)" /><ellipse cx="24.9" cy="42.8" rx="2.0" ry="4.0" fill="#7a7a70" opacity="0.80" filter="url(#f1)" /><ellipse cx="47.9" cy="51.4" rx="4.0" ry="2.0" fill="#7a7a70" opacity="0.80" filter="url(#f1)" /></g><path d="M69.4,33.0 L69.3,35.2 L69.1,37.3 L68.7,39.4 L68.1,41.5 L67.0,43.4 L65.5,45.1 L63.4,46.3 L60.6,47.0 L61.4,49.7 L61.4,52.2 L60.7,54.3 L59.6,56.2 L58.1,57.8 L56.5,59.2 L54.7,60.4 L52.9,61.6 L51.0,62.6 L49.0,63.5 L47.0,64.2 L44.9,64.7 L42.7,64.7 L40.5,64.2 L38.4,63.0 L36.4,61.0 L34.4,63.0 L32.3,64.2 L30.1,64.7 L27.9,64.7 L25.8,64.2 L23.8,63.5 L21.8,62.6 L19.9,61.6 L18.1,60.4 L16.3,59.2 L14.7,57.8 L13.2,56.2 L12.1,54.3 L11.4,52.2 L11.4,49.7 L12.2,47.0 L9.4,46.3 L7.3,45.1 L5.8,43.4 L4.7,41.5 L4.1,39.4 L3.7,37.3 L3.5,35.2 L3.4,33.0 L3.5,30.8 L3.7,28.7 L4.1,26.6 L4.7,24.5 L5.8,22.6 L7.3,20.9 L9.4,19.7 L12.2,19.0 L11.4,16.3 L11.4,13.8 L12.1,11.7 L13.2,9.8 L14.7,8.2 L16.3,6.8 L18.1,5.6 L19.9,4.4 L21.8,3.4 L23.8,2.5 L25.8,1.8 L27.9,1.3 L30.1,1.3 L32.3,1.8 L34.4,3.0 L36.4,5.0 L38.4,3.0 L40.5,1.8 L42.7,1.3 L44.9,1.3 L47.0,1.8 L49.0,2.5 L51.0,3.4 L52.9,4.4 L54.7,5.6 L56.5,6.8 L58.1,8.2 L59.6,9.8 L60.7,11.7 L61.4,13.8 L61.4,16.3 L60.6,19.0 L63.4,19.7 L65.5,20.9 L67.0,22.6 L68.1,24.5 L68.7,26.6 L69.1,28.7 L69.3,30.8 Z" fill="none" opacity="1.00" filter="url(#f0_6)" class="ring" stroke="#5a5650" stroke-width="3.0"/></g></g>
<text x="759.6" y="731.9" class="hd">well</text>
<text x="759.6" y="754.0" class="hd">C05</text>
<g transform="translate(585.0,782.0)"><clipPath id="c16"><rect width="71.6" height="65.8"/></clipPath><g clip-path="url(#c16)"><rect width="71.6" height="65.8" fill="#181c28"/><path d="M67.2,33.4 L67.1,35.4 L66.9,37.4 L66.5,39.4 L65.9,41.4 L64.9,43.2 L63.5,44.7 L61.4,45.8 L58.7,46.4 L59.6,49.0 L59.6,51.4 L59.0,53.4 L58.0,55.2 L56.6,56.7 L55.1,58.0 L53.4,59.2 L51.7,60.2 L49.9,61.2 L48.1,62.0 L46.1,62.7 L44.2,63.1 L42.1,63.2 L40.1,62.7 L38.0,61.4 L36.2,59.4 L34.4,61.4 L32.3,62.7 L30.3,63.2 L28.2,63.1 L26.3,62.7 L24.3,62.0 L22.5,61.2 L20.7,60.2 L19.0,59.2 L17.3,58.0 L15.8,56.7 L14.4,55.2 L13.4,53.4 L12.8,51.4 L12.8,49.0 L13.7,46.4 L11.0,45.8 L8.9,44.7 L7.5,43.2 L6.5,41.4 L5.9,39.4 L5.5,37.4 L5.3,35.4 L5.2,33.4 L5.3,31.4 L5.5,29.4 L5.9,27.4 L6.5,25.4 L7.5,23.6 L8.9,22.1 L11.0,21.0 L13.7,20.4 L12.8,17.8 L12.8,15.4 L13.4,13.4 L14.4,11.6 L15.8,10.1 L17.3,8.8 L19.0,7.6 L20.7,6.6 L22.5,5.6 L24.3,4.8 L26.3,4.1 L28.2,3.7 L30.3,3.6 L32.3,4.1 L34.4,5.4 L36.2,7.4 L38.0,5.4 L40.1,4.1 L42.1,3.6 L44.2,3.7 L46.1,4.1 L48.1,4.8 L49.9,5.6 L51.7,6.6 L53.4,7.6 L55.1,8.8 L56.6,10.1 L58.0,11.6 L59.0,13.4 L59.6,15.4 L59.6,17.8 L58.7,20.4 L61.4,21.0 L63.5,22.1 L64.9,23.6 L65.9,25.4 L66.5,27.4 L66.9,29.4 L67.1,31.4 Z" fill="#3a3028" opacity="1.00" filter="url(#f1_5)" /><ellipse cx="46.0" cy="22.0" rx="12.0" ry="12.0" fill="#c8a070" opacity="0.90" filter="url(#f3)" /><ellipse cx="36.0" cy="44.0" rx="10.0" ry="10.0" fill="#b89068" opacity="0.90" filter="url(#f3)" /><ellipse cx="25.0" cy="30.0" rx="14.0" ry="10.0" fill="#ffe8c0" opacity="1.00" filter="url(#f3)" /><ellipse cx="24.0" cy="30.0" rx="9.0" ry="6.0" fill="#fffaf0" opacity="1.00" filter="url(#f2)" /><circle cx="25.0" cy="15.7" r="8.4" fill="#c89868" opacity="1.00" filter="url(#f0_6)" stroke="#3a2a20" stroke-width="1.2"/><circle cx="25.9" cy="46.4" r="8.0" fill="#c09060" opacity="1.00" filter="url(#f0_6)" /><ellipse cx="26.0" cy="42.0" rx="6.0" ry="3.0" fill="#e8c890" opacity="0.90" filter="url(#f1)" /><polygon points="44.0,8.0 48.0,9.0 46.0,13.0" fill="#141010" opacity="1.00" filter="url(#f0_6)" /><polygon points="51.0,27.0 56.0,30.0 52.0,33.0" fill="#141010" opacity="1.00" filter="url(#f0_6)" /></g></g>
<g transform="translate(671.7,782.0)"><clipPath id="c17"><rect width="72.1" height="65.8"/></clipPath><g clip-path="url(#c17)"><rect width="72.1" height="65.8" fill="#0a0a0a"/><path d="M71.0,33.0 L70.9,35.2 L70.7,37.4 L70.3,39.6 L69.6,41.7 L68.6,43.7 L67.0,45.4 L64.9,46.8 L62.1,47.5 L62.9,50.3 L62.8,52.8 L62.1,55.0 L60.9,56.9 L59.4,58.5 L57.7,60.0 L55.9,61.3 L54.0,62.4 L52.0,63.5 L50.0,64.4 L47.9,65.1 L45.7,65.6 L43.5,65.7 L41.2,65.2 L39.0,64.0 L37.0,62.0 L35.0,64.0 L32.8,65.2 L30.5,65.7 L28.3,65.6 L26.1,65.1 L24.0,64.4 L22.0,63.5 L20.0,62.4 L18.1,61.3 L16.3,60.0 L14.6,58.5 L13.1,56.9 L11.9,55.0 L11.2,52.8 L11.1,50.3 L11.9,47.5 L9.1,46.8 L7.0,45.4 L5.4,43.7 L4.4,41.7 L3.7,39.6 L3.3,37.4 L3.1,35.2 L3.0,33.0 L3.1,30.8 L3.3,28.6 L3.7,26.4 L4.4,24.3 L5.4,22.3 L7.0,20.6 L9.1,19.2 L11.9,18.5 L11.1,15.7 L11.2,13.2 L11.9,11.0 L13.1,9.1 L14.6,7.5 L16.3,6.0 L18.1,4.7 L20.0,3.6 L22.0,2.5 L24.0,1.6 L26.1,0.9 L28.3,0.4 L30.5,0.3 L32.8,0.8 L35.0,2.0 L37.0,4.0 L39.0,2.0 L41.2,0.8 L43.5,0.3 L45.7,0.4 L47.9,0.9 L50.0,1.6 L52.0,2.5 L54.0,3.6 L55.9,4.7 L57.7,6.0 L59.4,7.5 L60.9,9.1 L62.1,11.0 L62.8,13.2 L62.9,15.7 L62.1,18.5 L64.9,19.2 L67.0,20.6 L68.6,22.3 L69.6,24.3 L70.3,26.4 L70.7,28.6 L70.9,30.8 Z" fill="#1a130a" opacity="1.00" filter="url(#f0_6)" /><clipPath id="fa22"><path d="M71.0,33.0 L70.9,35.2 L70.7,37.4 L70.3,39.6 L69.6,41.7 L68.6,43.7 L67.0,45.4 L64.9,46.8 L62.1,47.5 L62.9,50.3 L62.8,52.8 L62.1,55.0 L60.9,56.9 L59.4,58.5 L57.7,60.0 L55.9,61.3 L54.0,62.4 L52.0,63.5 L50.0,64.4 L47.9,65.1 L45.7,65.6 L43.5,65.7 L41.2,65.2 L39.0,64.0 L37.0,62.0 L35.0,64.0 L32.8,65.2 L30.5,65.7 L28.3,65.6 L26.1,65.1 L24.0,64.4 L22.0,63.5 L20.0,62.4 L18.1,61.3 L16.3,60.0 L14.6,58.5 L13.1,56.9 L11.9,55.0 L11.2,52.8 L11.1,50.3 L11.9,47.5 L9.1,46.8 L7.0,45.4 L5.4,43.7 L4.4,41.7 L3.7,39.6 L3.3,37.4 L3.1,35.2 L3.0,33.0 L3.1,30.8 L3.3,28.6 L3.7,26.4 L4.4,24.3 L5.4,22.3 L7.0,20.6 L9.1,19.2 L11.9,18.5 L11.1,15.7 L11.2,13.2 L11.9,11.0 L13.1,9.1 L14.6,7.5 L16.3,6.0 L18.1,4.7 L20.0,3.6 L22.0,2.5 L24.0,1.6 L26.1,0.9 L28.3,0.4 L30.5,0.3 L32.8,0.8 L35.0,2.0 L37.0,4.0 L39.0,2.0 L41.2,0.8 L43.5,0.3 L45.7,0.4 L47.9,0.9 L50.0,1.6 L52.0,2.5 L54.0,3.6 L55.9,4.7 L57.7,6.0 L59.4,7.5 L60.9,9.1 L62.1,11.0 L62.8,13.2 L62.9,15.7 L62.1,18.5 L64.9,19.2 L67.0,20.6 L68.6,22.3 L69.6,24.3 L70.3,26.4 L70.7,28.6 L70.9,30.8 Z"/></clipPath><g clip-path="url(#fa22)"><path d="M38,3 C48,2 58,5 62,12 L60,20 C52,19 44,17 38,14 Z" fill="#dca438" opacity="1.00" filter="url(#f1_5)" /><path d="M26,20 L34,24 L18,44 L8,38 Z" fill="#d8a038" opacity="1.00" filter="url(#f1_5)" /><path d="M34,33 L41,37 L32,57 L23,53 Z" fill="#dca438" opacity="1.00" filter="url(#f1_5)" /><path d="M48,33 L58,35 L58,60 L45,59 Z" fill="#dca438" opacity="1.00" filter="url(#f1_5)" /><path d="M63,25 L69,27 L68,40 L63,39 Z" fill="#c89430" opacity="1.00" filter="url(#f1_5)" /><path d="M20,12 L30,8 L32,14 L22,18 Z" fill="#8a6424" opacity="0.80" filter="url(#f1_5)" /></g><path d="M70.0,33.0 L69.9,35.2 L69.7,37.3 L69.3,39.4 L68.7,41.5 L67.6,43.4 L66.1,45.1 L64.0,46.3 L61.2,47.0 L62.0,49.7 L62.0,52.2 L61.3,54.3 L60.2,56.2 L58.7,57.8 L57.1,59.2 L55.3,60.4 L53.5,61.6 L51.6,62.6 L49.6,63.5 L47.6,64.2 L45.5,64.7 L43.3,64.7 L41.1,64.2 L39.0,63.0 L37.0,61.0 L35.0,63.0 L32.9,64.2 L30.7,64.7 L28.5,64.7 L26.4,64.2 L24.4,63.5 L22.4,62.6 L20.5,61.6 L18.7,60.4 L16.9,59.2 L15.3,57.8 L13.8,56.2 L12.7,54.3 L12.0,52.2 L12.0,49.7 L12.8,47.0 L10.0,46.3 L7.9,45.1 L6.4,43.4 L5.3,41.5 L4.7,39.4 L4.3,37.3 L4.1,35.2 L4.0,33.0 L4.1,30.8 L4.3,28.7 L4.7,26.6 L5.3,24.5 L6.4,22.6 L7.9,20.9 L10.0,19.7 L12.8,19.0 L12.0,16.3 L12.0,13.8 L12.7,11.7 L13.8,9.8 L15.3,8.2 L16.9,6.8 L18.7,5.6 L20.5,4.4 L22.4,3.4 L24.4,2.5 L26.4,1.8 L28.5,1.3 L30.7,1.3 L32.9,1.8 L35.0,3.0 L37.0,5.0 L39.0,3.0 L41.1,1.8 L43.3,1.3 L45.5,1.3 L47.6,1.8 L49.6,2.5 L51.6,3.4 L53.5,4.4 L55.3,5.6 L57.1,6.8 L58.7,8.2 L60.2,9.8 L61.3,11.7 L62.0,13.8 L62.0,16.3 L61.2,19.0 L64.0,19.7 L66.1,20.9 L67.6,22.6 L68.7,24.5 L69.3,26.6 L69.7,28.7 L69.9,30.8 Z" fill="none" opacity="1.00" filter="url(#f0_6)" class="ring" stroke="#6a6660" stroke-width="3.0"/><ellipse cx="1.0" cy="32.0" rx="3.0" ry="9.0" fill="#8a8a98" opacity="1.00" filter="url(#f1)" class="ring"/></g></g>
<text x="759.6" y="810.7" class="hd">well</text>
<text x="759.6" y="832.8" class="hd">D05</text>
</svg>
</body></html>
